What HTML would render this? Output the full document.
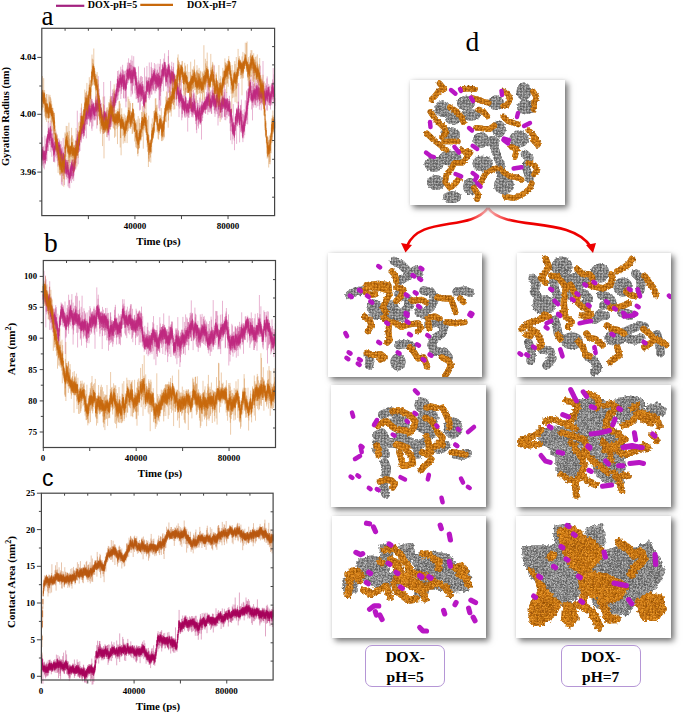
<!DOCTYPE html><html><head><meta charset="utf-8"><style>
html,body{margin:0;padding:0;background:#fff;}
body{width:685px;height:714px;position:relative;overflow:hidden;font-family:"Liberation Serif",serif;}
.bx{position:absolute;background:#fff;box-shadow:3px 3px 6px rgba(0,0,0,0.55),0 0 3px rgba(0,0,0,0.08);}
.lab{position:absolute;border:1px solid #b596d6;border-radius:7px;background:#fff;font-weight:bold;font-size:15.5px;text-align:center;line-height:20px;box-sizing:border-box;padding-top:1px;}
svg{position:absolute;left:0;top:0;}
</style></head><body>
<svg width="685" height="714" viewBox="0 0 685 714"><path d="M41.6 125.6V165.7M41.9 150.1V162.5M42.2 137.2V160.1M42.5 146.9V159.8M42.8 147.0V165.6M43.1 146.8V164.1M43.4 150.0V160.0M43.7 145.8V167.8M44.0 150.6V163.4M44.3 150.5V169.4M44.6 150.8V160.0M44.9 135.7V162.7M45.2 154.2V164.2M45.5 143.9V164.5M45.8 149.9V159.4M46.1 138.6V155.1M46.4 143.1V160.9M46.7 136.5V152.9M47.0 138.9V161.2M47.3 135.5V151.0M47.6 136.2V150.8M47.9 134.3V147.4M48.2 121.0V143.0M48.5 131.9V151.0M48.8 127.8V136.7M49.1 126.8V140.4M49.4 130.0V142.9M49.7 133.5V144.6M50.0 123.0V145.1M50.3 127.4V152.2M50.6 127.7V137.4M50.9 120.5V138.4M51.2 130.1V147.1M51.5 135.6V144.0M51.8 138.9V156.8M52.1 134.0V149.8M52.4 138.3V150.7M52.7 133.0V148.8M53.0 125.5V147.5M53.3 138.3V152.2M53.6 142.6V162.0M53.9 143.5V161.4M54.2 142.1V161.6M54.5 146.1V155.0M54.8 141.4V162.5M55.1 136.8V157.2M55.4 141.0V150.7M55.7 137.5V149.5M56.0 131.7V155.9M56.3 137.7V152.2M56.6 137.2V149.8M56.9 134.3V158.3M57.2 142.9V161.2M57.5 140.5V154.5M57.8 145.5V166.6M58.1 142.5V156.9M58.4 142.0V156.5M58.7 138.2V153.3M59.0 141.1V160.8M59.3 142.3V155.9M59.6 139.7V157.9M59.9 146.1V160.5M60.2 147.3V164.0M60.5 144.1V164.2M60.8 144.6V155.7M61.1 141.1V157.4M61.4 147.9V184.5M61.7 152.8V165.3M62.0 149.3V169.7M62.3 156.7V185.7M62.6 147.2V163.0M62.9 151.5V162.8M63.2 137.9V175.4M63.5 153.1V168.5M63.8 160.5V171.6M64.1 162.1V173.3M64.4 156.1V185.1M64.7 162.8V173.7M65.0 146.6V171.8M65.3 144.5V174.0M65.6 159.7V172.9M65.9 158.4V175.0M66.2 164.5V176.7M66.5 160.2V176.7M66.8 160.0V179.4M67.1 160.2V174.1M67.4 160.1V177.9M67.7 163.5V174.5M68.0 161.9V186.4M68.3 168.9V177.7M68.6 160.0V176.5M68.9 165.2V187.8M69.2 174.3V182.5M69.5 171.8V183.0M69.8 169.4V188.3M70.1 163.7V181.1M70.4 164.6V175.9M70.7 168.5V180.4M71.0 165.7V176.8M71.3 162.2V175.9M71.6 161.1V182.9M71.9 162.1V176.1M72.2 159.3V170.0M72.5 164.1V179.5M72.8 159.9V179.0M73.1 164.7V177.3M73.4 167.0V177.6M73.7 159.2V181.1M74.0 162.5V175.4M74.3 159.9V171.7M74.6 159.5V170.5M74.9 147.9V165.4M75.2 150.0V169.5M75.5 141.0V158.1M75.8 144.1V168.3M76.1 145.0V163.0M76.4 139.6V159.4M76.7 138.3V155.8M77.0 134.1V151.5M77.3 110.7V144.7M77.6 130.2V149.4M77.9 134.6V152.8M78.2 141.5V164.3M78.5 134.8V149.1M78.8 132.7V152.0M79.1 136.4V150.0M79.4 137.1V151.7M79.7 132.0V145.2M80.0 132.6V151.0M80.3 113.1V142.1M80.6 123.5V140.0M80.9 119.0V140.5M81.2 107.7V136.8M81.5 125.1V142.5M81.8 126.1V138.4M82.1 121.1V134.1M82.4 123.8V133.8M82.7 119.2V134.1M83.0 118.1V136.1M83.3 114.5V138.9M83.6 123.9V137.0M83.9 124.6V135.5M84.2 121.5V135.2M84.5 121.0V136.2M84.8 115.2V128.4M85.1 115.0V130.9M85.4 112.1V121.1M85.7 103.6V122.2M86.0 95.2V116.9M86.3 107.2V138.4M86.6 109.4V124.2M86.9 102.8V124.4M87.2 97.7V118.7M87.5 107.3V124.6M87.8 104.2V119.6M88.1 104.1V114.4M88.4 101.2V119.0M88.7 101.7V118.7M89.0 110.0V120.4M89.3 103.6V117.3M89.6 93.0V126.2M89.9 105.9V119.6M90.2 108.1V121.2M90.5 105.6V121.9M90.8 100.5V122.7M91.1 95.6V118.5M91.4 104.6V119.8M91.7 98.7V128.6M92.0 99.0V130.9M92.3 100.9V116.3M92.6 105.1V118.5M92.9 107.0V126.4M93.2 102.8V114.7M93.5 103.8V113.9M93.8 105.5V119.5M94.1 105.7V120.6M94.4 103.1V115.7M94.7 107.5V119.5M95.0 107.3V120.5M95.3 100.3V119.5M95.6 97.5V111.5M95.9 95.9V111.5M96.2 99.3V115.9M96.5 99.8V116.6M96.8 94.2V128.6M97.1 100.2V113.0M97.4 89.0V124.9M97.7 84.3V110.7M98.0 98.5V118.7M98.3 76.1V110.9M98.6 100.2V112.2M98.9 93.1V111.1M99.2 88.8V115.4M99.5 98.9V120.7M99.8 99.0V110.8M100.1 99.8V111.3M100.4 103.8V115.3M100.7 107.5V116.1M101.0 107.0V118.5M101.3 102.9V119.6M101.6 109.5V125.0M101.9 116.1V124.3M102.2 114.1V123.4M102.5 115.5V125.4M102.8 112.1V125.2M103.1 117.9V129.5M103.4 115.7V133.7M103.7 82.0V121.8M104.0 112.6V127.3M104.3 105.3V122.9M104.6 96.4V120.0M104.9 111.6V131.9M105.2 112.4V126.6M105.5 111.8V124.9M105.8 111.6V125.6M106.1 113.8V122.6M106.4 110.6V128.0M106.7 112.3V126.6M107.0 116.2V129.6M107.3 109.7V137.3M107.6 119.3V134.7M107.9 119.5V130.5M108.2 114.1V133.0M108.5 115.1V134.6M108.8 119.9V135.5M109.1 111.2V140.7M109.4 111.0V127.4M109.7 115.2V126.6M110.0 104.9V124.3M110.3 119.3V129.1M110.6 80.9V124.4M110.9 100.8V122.7M111.2 105.4V125.7M111.5 96.0V117.9M111.8 96.4V127.0M112.1 105.3V114.7M112.4 93.2V116.6M112.7 89.5V115.1M113.0 100.6V110.4M113.3 96.7V108.5M113.6 91.5V111.5M113.9 96.3V107.8M114.2 93.2V111.7M114.5 98.5V115.3M114.8 91.0V107.9M115.1 90.1V104.2M115.4 94.9V105.7M115.7 94.5V105.3M116.0 89.8V103.1M116.3 83.5V97.5M116.6 85.8V101.2M116.9 88.0V96.7M117.2 78.8V93.2M117.5 71.0V100.3M117.8 76.2V89.8M118.1 76.7V99.5M118.4 80.3V92.7M118.7 70.4V95.4M119.0 77.7V92.2M119.3 74.2V91.1M119.6 74.9V88.5M119.9 74.6V88.0M120.2 72.8V84.9M120.5 71.6V83.9M120.8 66.7V98.9M121.1 72.9V91.1M121.4 75.5V93.9M121.7 73.7V89.3M122.0 69.4V86.7M122.3 75.4V86.1M122.6 64.8V87.0M122.9 69.6V89.2M123.2 70.5V87.3M123.5 75.3V98.2M123.8 71.6V90.2M124.1 78.9V98.6M124.4 74.1V86.6M124.7 74.4V86.7M125.0 70.7V90.4M125.3 70.7V91.1M125.6 80.0V98.3M125.9 83.5V107.3M126.2 78.5V101.6M126.5 77.8V88.7M126.8 69.9V83.3M127.1 67.6V77.3M127.4 62.6V84.9M127.7 65.4V83.4M128.0 69.1V82.9M128.3 69.6V79.9M128.6 58.3V80.7M128.9 62.5V79.4M129.2 67.6V76.3M129.5 63.1V78.9M129.8 63.4V80.4M130.1 62.8V77.5M130.4 64.8V79.9M130.7 59.8V82.8M131.0 75.3V96.7M131.3 72.8V90.8M131.6 64.8V81.6M131.9 55.5V80.4M132.2 60.8V94.6M132.5 70.2V93.5M132.8 66.1V81.7M133.1 68.6V86.1M133.4 69.9V85.5M133.7 56.2V75.9M134.0 65.9V77.4M134.3 67.2V80.6M134.6 67.2V77.9M134.9 69.5V93.4M135.2 70.2V90.5M135.5 67.2V81.7M135.8 72.9V85.5M136.1 76.6V99.2M136.4 71.9V95.0M136.7 75.7V98.7M137.0 78.2V91.4M137.3 83.6V93.5M137.6 87.1V98.2M137.9 90.6V102.8M138.2 80.3V99.7M138.5 66.4V102.6M138.8 81.7V102.1M139.1 80.7V96.5M139.4 82.9V97.3M139.7 84.3V110.5M140.0 77.5V96.4M140.3 83.0V109.7M140.6 83.7V102.0M140.9 75.9V94.5M141.2 76.2V100.9M141.5 82.0V101.2M141.8 86.3V99.3M142.1 86.8V96.7M142.4 77.0V99.5M142.7 81.0V95.0M143.0 86.1V104.0M143.3 84.4V103.8M143.6 91.6V112.1M143.9 86.3V107.2M144.2 96.7V106.5M144.5 67.6V108.0M144.8 92.4V101.9M145.1 90.8V108.8M145.4 91.1V101.1M145.7 95.2V102.8M146.0 76.4V103.1M146.3 77.4V101.6M146.6 80.9V95.3M146.9 66.0V92.3M147.2 82.1V90.1M147.5 80.0V91.7M147.8 81.4V95.0M148.1 77.4V91.9M148.4 81.0V98.0M148.7 78.2V93.2M149.0 77.1V92.3M149.3 62.5V99.6M149.6 83.0V95.5M149.9 77.6V93.1M150.2 82.8V97.7M150.5 79.6V89.0M150.8 77.8V87.7M151.1 66.9V91.3M151.4 62.3V94.6M151.7 76.4V89.5M152.0 70.5V94.5M152.3 68.2V86.5M152.6 76.6V89.2M152.9 74.0V88.2M153.2 74.0V91.2M153.5 69.8V89.9M153.8 70.0V90.8M154.1 68.1V80.5M154.4 63.0V84.9M154.7 69.3V81.5M155.0 68.8V93.4M155.3 73.5V90.8M155.6 75.1V87.7M155.9 64.3V90.8M156.2 73.5V91.4M156.5 72.5V89.0M156.8 73.7V89.0M157.1 70.4V88.0M157.4 69.5V85.1M157.7 77.6V87.9M158.0 63.6V85.9M158.3 75.4V90.2M158.6 72.2V87.6M158.9 77.5V108.4M159.2 75.5V89.0M159.5 66.7V100.2M159.8 63.8V110.9M160.1 76.4V90.2M160.4 59.0V96.0M160.7 75.9V105.7M161.0 77.7V91.9M161.3 70.3V83.1M161.6 75.3V86.4M161.9 70.2V82.2M162.2 64.2V81.5M162.5 68.9V83.9M162.8 63.2V75.7M163.1 65.9V77.9M163.4 68.7V91.2M163.7 58.6V79.6M164.0 62.3V77.2M164.3 66.8V77.4M164.6 53.4V71.7M164.9 61.9V74.8M165.2 62.9V76.9M165.5 66.5V86.5M165.8 69.2V85.5M166.1 65.0V82.7M166.4 68.9V81.8M166.7 68.0V86.3M167.0 66.5V78.0M167.3 67.7V103.2M167.6 66.9V84.4M167.9 70.6V87.7M168.2 56.1V74.1M168.5 50.1V92.9M168.8 65.1V78.5M169.1 66.0V75.4M169.4 63.4V91.7M169.7 65.2V78.0M170.0 69.4V98.9M170.3 71.2V85.5M170.6 70.0V95.5M170.9 72.0V82.1M171.2 73.2V82.7M171.5 66.2V78.7M171.8 61.8V89.6M172.1 72.6V85.5M172.4 71.5V82.1M172.7 68.9V102.5M173.0 71.5V82.5M173.3 66.9V83.4M173.6 62.8V94.0M173.9 74.7V84.8M174.2 72.6V85.3M174.5 75.1V102.4M174.8 74.0V83.4M175.1 78.6V89.4M175.4 80.7V99.7M175.7 79.1V89.2M176.0 80.0V94.5M176.3 81.8V92.9M176.6 81.8V105.7M176.9 85.3V96.5M177.2 83.0V93.6M177.5 79.0V94.9M177.8 83.3V95.1M178.1 87.9V98.8M178.4 85.6V106.4M178.7 90.9V101.4M179.0 83.0V117.1M179.3 95.3V108.6M179.6 78.1V100.8M179.9 76.6V104.8M180.2 92.2V100.5M180.5 88.5V100.5M180.8 92.7V106.7M181.1 88.5V108.5M181.4 79.6V100.8M181.7 94.6V120.3M182.0 95.0V113.9M182.3 98.7V117.6M182.6 97.6V114.2M182.9 95.8V109.8M183.2 94.2V109.7M183.5 98.1V108.5M183.8 98.6V109.8M184.1 100.6V110.4M184.4 95.3V115.7M184.7 101.9V117.4M185.0 101.8V114.5M185.3 96.0V117.7M185.6 87.9V108.3M185.9 97.9V108.2M186.2 97.6V113.2M186.5 103.5V114.3M186.8 103.8V117.2M187.1 103.2V116.0M187.4 102.9V113.3M187.7 100.2V131.6M188.0 102.9V113.3M188.3 101.6V113.4M188.6 100.8V117.4M188.9 100.0V118.0M189.2 98.2V114.7M189.5 98.7V108.0M189.8 88.5V108.3M190.1 96.7V106.3M190.4 97.0V108.5M190.7 99.6V109.5M191.0 103.1V113.8M191.3 89.3V111.9M191.6 94.2V117.1M191.9 92.9V110.1M192.2 102.5V115.0M192.5 102.1V116.5M192.8 101.8V112.1M193.1 95.7V117.5M193.4 89.9V111.5M193.7 93.5V113.5M194.0 94.5V114.5M194.3 92.6V114.2M194.6 98.9V115.0M194.9 98.2V110.8M195.2 102.9V112.8M195.5 107.7V120.9M195.8 109.8V124.1M196.1 95.7V118.3M196.4 111.9V129.9M196.7 111.3V133.2M197.0 108.1V117.2M197.3 102.8V116.5M197.6 100.2V120.3M197.9 105.0V126.3M198.2 102.9V118.7M198.5 111.5V128.5M198.8 109.5V123.5M199.1 109.3V124.6M199.4 105.4V121.8M199.7 97.6V121.3M200.0 110.1V120.8M200.3 105.4V123.9M200.6 106.9V124.8M200.9 105.8V121.7M201.2 103.6V122.1M201.5 104.4V139.6M201.8 101.6V113.4M202.1 98.8V115.2M202.4 101.4V121.0M202.7 105.3V118.1M203.0 104.6V113.6M203.3 101.3V112.5M203.6 103.1V112.5M203.9 102.8V111.0M204.2 101.3V110.7M204.5 100.6V109.5M204.8 97.2V112.9M205.1 100.7V109.6M205.4 101.4V113.9M205.7 96.5V113.6M206.0 100.0V110.0M206.3 97.3V109.5M206.6 92.0V108.2M206.9 94.6V109.7M207.2 75.4V106.6M207.5 93.6V108.3M207.8 96.0V114.8M208.1 83.8V111.9M208.4 93.5V106.2M208.7 91.8V104.7M209.0 84.2V112.2M209.3 93.2V106.2M209.6 97.3V109.4M209.9 94.3V112.4M210.2 92.0V106.2M210.5 99.1V111.4M210.8 90.5V109.3M211.1 99.9V109.3M211.4 95.2V113.9M211.7 97.6V113.8M212.0 90.3V107.1M212.3 86.2V104.6M212.6 92.0V105.5M212.9 90.3V102.2M213.2 88.4V102.2M213.5 95.8V106.3M213.8 97.1V107.2M214.1 64.9V110.1M214.4 90.6V113.4M214.7 88.0V110.3M215.0 95.1V116.8M215.3 95.6V110.4M215.6 98.3V109.2M215.9 99.5V114.2M216.2 97.2V111.8M216.5 89.3V110.8M216.8 93.6V105.0M217.1 80.5V104.3M217.4 93.1V114.1M217.7 87.0V103.1M218.0 96.0V125.5M218.3 98.7V118.2M218.6 101.5V110.2M218.9 95.0V116.3M219.2 94.5V105.6M219.5 95.5V115.6M219.8 94.9V107.1M220.1 102.2V117.9M220.4 102.8V112.9M220.7 100.2V112.6M221.0 102.8V112.7M221.3 98.6V119.5M221.6 100.4V108.6M221.9 96.6V117.0M222.2 85.1V117.9M222.5 96.2V112.1M222.8 90.1V109.3M223.1 98.3V109.0M223.4 96.2V105.7M223.7 97.2V107.0M224.0 94.8V107.8M224.3 92.1V116.4M224.6 81.8V116.9M224.9 98.3V120.1M225.2 89.1V117.0M225.5 101.9V110.0M225.8 98.9V120.3M226.1 100.1V109.9M226.4 100.1V114.8M226.7 92.2V112.2M227.0 99.0V118.4M227.3 97.9V114.7M227.6 100.0V110.9M227.9 101.4V112.1M228.2 104.2V112.2M228.5 103.9V116.3M228.8 99.0V109.7M229.1 99.3V116.1M229.4 95.8V112.1M229.7 103.6V123.4M230.0 102.6V116.5M230.3 109.3V131.1M230.6 101.4V140.3M230.9 112.0V123.1M231.2 111.3V127.1M231.5 108.7V118.7M231.8 115.4V131.5M232.1 115.4V144.2M232.4 118.1V132.4M232.7 123.7V134.0M233.0 122.3V139.3M233.3 104.1V135.3M233.6 123.2V136.3M233.9 123.0V133.4M234.2 127.0V140.7M234.5 126.3V150.2M234.8 124.8V134.4M235.1 116.6V135.3M235.4 115.9V129.7M235.7 113.7V127.1M236.0 113.6V125.2M236.3 112.3V124.2M236.6 108.2V143.9M236.9 108.8V123.4M237.2 107.3V126.4M237.5 112.6V125.8M237.8 108.8V123.5M238.1 101.7V121.2M238.4 101.7V118.8M238.7 83.1V119.1M239.0 114.3V123.2M239.3 113.3V127.6M239.6 108.5V142.4M239.9 112.9V124.3M240.2 108.9V122.4M240.5 105.3V132.2M240.8 104.9V121.1M241.1 110.6V130.7M241.4 99.6V133.1M241.7 112.6V131.1M242.0 110.2V131.8M242.3 113.9V136.1M242.6 125.1V138.4M242.9 119.9V142.1M243.2 114.0V133.1M243.5 123.3V136.5M243.8 115.4V138.3M244.1 109.3V132.1M244.4 121.3V131.3M244.7 112.5V135.2M245.0 116.9V127.6M245.3 100.3V126.0M245.6 112.4V122.0M245.9 112.4V121.1M246.2 106.7V120.5M246.5 90.4V117.5M246.8 91.4V124.0M247.1 100.6V119.8M247.4 100.9V115.5M247.7 88.7V124.4M248.0 92.3V106.1M248.3 92.9V103.5M248.6 87.8V102.4M248.9 80.7V102.4M249.2 80.9V98.1M249.5 84.5V98.1M249.8 79.7V91.0M250.1 80.1V100.6M250.4 82.6V94.9M250.7 79.3V94.7M251.0 75.0V101.7M251.3 90.8V101.3M251.6 85.6V109.5M251.9 90.1V102.9M252.2 90.1V101.8M252.5 81.7V120.4M252.8 95.1V105.5M253.1 86.1V100.7M253.4 67.9V101.5M253.7 84.0V107.6M254.0 89.4V100.8M254.3 88.0V99.5M254.6 83.3V104.7M254.9 88.0V102.6M255.2 85.8V105.3M255.5 89.0V105.2M255.8 77.9V101.0M256.1 85.5V107.8M256.4 83.0V100.5M256.7 85.0V100.1M257.0 85.0V98.5M257.3 84.5V106.3M257.6 79.4V102.7M257.9 91.8V101.8M258.2 85.8V98.9M258.5 79.1V96.9M258.8 80.8V98.9M259.1 90.6V106.1M259.4 91.4V109.7M259.7 87.1V100.5M260.0 83.8V103.8M260.3 65.7V97.2M260.6 90.4V103.0M260.9 89.1V99.1M261.2 82.0V110.4M261.5 88.0V102.6M261.8 88.4V103.2M262.1 89.4V102.4M262.4 87.7V98.6M262.7 88.5V104.6M263.0 61.0V100.2M263.3 91.6V106.3M263.6 81.6V100.6M263.9 86.0V101.0M264.2 89.7V98.8M264.5 91.5V102.9M264.8 88.7V111.4M265.1 88.1V105.7M265.4 83.3V105.5M265.7 92.2V103.4M266.0 85.9V100.9M266.3 88.7V99.5M266.6 85.2V98.3M266.9 78.5V109.8M267.2 76.4V110.9M267.5 90.9V102.2M267.8 87.0V99.1M268.1 88.5V96.6M268.4 87.0V102.6M268.7 83.9V105.1M269.0 85.9V104.7M269.3 89.3V101.4M269.6 92.8V105.9M269.9 93.8V104.8M270.2 85.5V106.0M270.5 91.0V109.5M270.8 92.0V104.3M271.1 91.1V104.6M271.4 83.2V102.8M271.7 85.4V96.4M272.0 83.6V105.4M272.3 82.6V100.2M272.6 79.4V96.3M272.9 84.8V98.7M273.2 68.1V99.1M273.5 81.8V102.0M273.8 87.0V96.6M274.1 74.3V102.0M274.4 93.0V113.9M274.7 93.5V108.9" stroke="#c0287f" stroke-opacity="0.5" stroke-width="0.7" fill="none"/><path d="M41.6 154.5V160.2M41.9 152.5V159.7M42.2 149.4V158.3M42.5 149.0V155.4M42.8 150.9V158.7M43.1 153.7V161.0M43.4 152.4V157.1M43.7 151.0V159.4M44.0 153.9V160.0M44.3 152.4V156.9M44.6 151.0V159.6M44.9 152.8V160.0M45.2 155.8V162.9M45.5 153.0V158.9M45.8 150.6V159.1M46.1 145.8V154.5M46.4 147.0V152.8M46.7 140.5V148.3M47.0 138.5V147.1M47.3 137.5V146.9M47.6 134.1V142.9M47.9 135.4V142.3M48.2 130.8V138.2M48.5 133.8V139.4M48.8 128.1V134.9M49.1 129.3V138.5M49.4 132.1V139.7M49.7 135.3V140.8M50.0 133.5V140.9M50.3 132.4V137.9M50.6 126.1V136.0M50.9 128.9V134.9M51.2 133.5V138.4M51.5 137.4V142.9M51.8 139.0V147.0M52.1 141.7V147.9M52.4 141.5V147.6M52.7 137.7V145.2M53.0 139.5V145.2M53.3 143.7V150.3M53.6 148.5V155.6M53.9 148.8V154.3M54.2 146.1V152.0M54.5 146.4V153.4M54.8 144.9V151.8M55.1 141.7V148.2M55.4 141.7V149.6M55.7 141.5V147.7M56.0 141.7V149.2M56.3 142.0V149.4M56.6 137.7V144.9M56.9 141.1V149.6M57.2 146.2V151.6M57.5 145.8V154.2M57.8 145.8V152.9M58.1 142.1V150.7M58.4 145.3V149.4M58.7 145.3V151.6M59.0 143.3V151.4M59.3 145.0V150.9M59.6 144.7V152.9M59.9 149.8V154.3M60.2 152.9V160.1M60.5 151.7V157.9M60.8 148.9V155.2M61.1 150.4V155.7M61.4 151.4V159.1M61.7 153.8V160.8M62.0 157.3V163.3M62.3 158.1V165.4M62.6 156.4V160.9M62.9 154.9V161.6M63.2 153.8V159.6M63.5 152.7V161.1M63.8 159.9V169.0M64.1 162.4V170.5M64.4 166.6V172.4M64.7 165.6V170.7M65.0 161.5V169.7M65.3 159.5V164.9M65.6 163.3V168.9M65.9 165.7V173.5M66.2 168.1V173.2M66.5 167.1V173.4M66.8 162.0V169.9M67.1 165.5V171.5M67.4 162.2V171.6M67.7 164.8V172.3M68.0 167.1V174.6M68.3 169.9V175.0M68.6 169.7V175.4M68.9 171.5V178.5M69.2 174.7V183.4M69.5 173.5V179.6M69.8 172.8V178.9M70.1 168.5V178.6M70.4 167.2V173.6M70.7 168.6V177.9M71.0 165.7V173.4M71.3 165.7V175.9M71.6 162.6V169.7M71.9 163.3V169.2M72.2 159.8V168.5M72.5 164.5V171.0M72.8 164.1V169.5M73.1 165.8V175.8M73.4 168.1V173.5M73.7 162.2V172.3M74.0 164.2V171.3M74.3 160.8V170.5M74.6 160.9V169.0M74.9 157.4V163.1M75.2 155.4V164.0M75.5 149.2V155.0M75.8 147.1V155.3M76.1 149.0V154.4M76.4 145.8V153.2M76.7 142.6V149.9M77.0 141.0V147.1M77.3 136.6V144.3M77.6 138.8V149.3M77.9 143.7V152.9M78.2 142.7V148.4M78.5 139.2V149.3M78.8 139.6V147.0M79.1 138.8V145.7M79.4 138.6V145.2M79.7 135.7V140.7M80.0 134.2V139.6M80.3 131.4V138.2M80.6 128.1V134.8M80.9 128.1V135.4M81.2 127.0V132.8M81.5 127.1V134.1M81.8 127.4V132.6M82.1 122.1V129.8M82.4 123.2V130.9M82.7 121.1V127.4M83.0 118.7V127.3M83.3 122.7V132.9M83.6 123.7V133.1M83.9 124.7V133.0M84.2 122.6V128.8M84.5 123.8V129.2M84.8 119.1V125.5M85.1 117.3V124.7M85.4 113.6V120.8M85.7 113.4V118.8M86.0 108.3V115.9M86.3 111.6V117.2M86.6 112.9V119.7M86.9 111.0V118.7M87.2 107.3V114.2M87.5 107.8V112.8M87.8 109.0V115.8M88.1 105.3V113.0M88.4 104.2V112.5M88.7 106.5V116.5M89.0 112.0V118.5M89.3 110.3V115.8M89.6 104.4V111.6M89.9 108.2V113.9M90.2 109.6V117.6M90.5 109.7V117.1M90.8 110.5V119.6M91.1 108.0V115.2M91.4 109.6V116.5M91.7 106.1V111.9M92.0 104.0V109.1M92.3 104.6V109.5M92.6 106.6V111.2M92.9 107.3V113.7M93.2 102.5V111.1M93.5 103.9V113.3M93.8 106.3V115.0M94.1 109.2V116.6M94.4 107.1V112.9M94.7 108.3V115.8M95.0 109.2V115.9M95.3 106.9V112.5M95.6 103.1V110.2M95.9 101.5V108.1M96.2 102.9V110.1M96.5 104.8V111.2M96.8 103.0V111.5M97.1 104.6V110.0M97.4 103.8V109.2M97.7 98.5V108.0M98.0 101.3V108.5M98.3 103.8V111.7M98.6 102.8V109.0M98.9 100.8V108.9M99.2 97.7V105.3M99.5 100.4V106.2M99.8 100.8V107.0M100.1 103.9V108.9M100.4 104.0V111.8M100.7 109.3V114.9M101.0 108.7V118.0M101.3 108.1V114.9M101.6 113.2V123.0M101.9 116.3V123.0M102.2 114.4V121.0M102.5 115.8V124.5M102.8 117.3V124.5M103.1 119.4V125.0M103.4 116.3V122.9M103.7 114.6V119.3M104.0 111.5V121.3M104.3 113.3V119.7M104.6 110.9V118.2M104.9 113.3V118.7M105.2 113.6V121.3M105.5 113.3V120.2M105.8 114.0V124.6M106.1 114.7V121.9M106.4 116.3V124.0M106.7 119.3V124.7M107.0 121.9V128.1M107.3 120.3V127.6M107.6 118.8V127.0M107.9 122.5V128.5M108.2 121.0V129.7M108.5 126.9V132.5M108.8 126.4V131.6M109.1 122.6V128.8M109.4 119.2V127.2M109.7 117.2V123.7M110.0 114.5V123.5M110.3 119.0V127.0M110.6 114.8V123.0M110.9 114.5V121.2M111.2 114.3V119.4M111.5 109.8V116.7M111.8 110.3V115.3M112.1 107.1V114.1M112.4 107.0V112.4M112.7 104.7V113.0M113.0 101.9V107.8M113.3 99.8V107.6M113.6 100.0V106.1M113.9 98.4V105.5M114.2 97.9V106.1M114.5 99.5V106.5M114.8 93.5V99.3M115.1 94.1V101.7M115.4 98.3V102.6M115.7 93.6V102.7M116.0 92.0V98.3M116.3 89.3V96.3M116.6 89.4V96.1M116.9 88.1V95.7M117.2 83.5V91.4M117.5 78.9V87.5M117.8 80.1V86.8M118.1 83.6V91.8M118.4 81.4V87.5M118.7 82.3V86.9M119.0 81.0V87.5M119.3 78.5V84.8M119.6 81.3V87.4M119.9 78.6V85.3M120.2 78.0V82.5M120.5 74.6V82.8M120.8 79.5V83.5M121.1 78.6V84.8M121.4 77.3V87.1M121.7 78.8V85.2M122.0 77.3V83.7M122.3 75.2V83.2M122.6 75.8V82.8M122.9 74.1V80.3M123.2 75.3V81.7M123.5 80.0V89.6M123.8 82.1V88.4M124.1 80.7V88.5M124.4 75.6V84.2M124.7 79.9V84.7M125.0 81.3V89.2M125.3 82.9V90.7M125.6 84.2V87.9M125.9 84.6V90.0M126.2 81.5V88.5M126.5 79.2V84.5M126.8 72.8V80.9M127.1 69.2V76.5M127.4 70.3V78.9M127.7 69.8V76.7M128.0 71.4V78.1M128.3 70.6V77.7M128.6 71.2V79.4M128.9 69.3V77.6M129.2 68.6V75.9M129.5 69.2V74.7M129.8 68.2V78.1M130.1 69.6V76.3M130.4 71.0V79.0M130.7 71.4V77.7M131.0 77.1V83.6M131.3 73.5V83.0M131.6 70.2V76.4M131.9 69.6V76.5M132.2 72.0V78.7M132.5 74.3V83.2M132.8 71.3V79.4M133.1 73.0V78.9M133.4 69.9V76.1M133.7 67.0V76.4M134.0 68.2V76.3M134.3 70.8V75.9M134.6 67.7V73.8M134.9 71.4V79.1M135.2 68.6V78.7M135.5 71.9V81.5M135.8 75.8V85.1M136.1 77.7V85.0M136.4 80.9V85.8M136.7 82.9V89.3M137.0 82.0V87.9M137.3 85.7V92.7M137.6 88.8V95.8M137.9 90.8V98.0M138.2 88.0V93.4M138.5 88.2V93.5M138.8 85.3V93.3M139.1 85.5V93.5M139.4 87.4V94.3M139.7 84.2V91.2M140.0 86.6V94.8M140.3 84.7V92.7M140.6 85.2V94.3M140.9 84.7V92.9M141.2 88.1V95.9M141.5 86.3V94.3M141.8 89.4V96.6M142.1 87.1V95.0M142.4 84.1V92.1M142.7 86.8V92.3M143.0 92.0V98.4M143.3 90.1V99.0M143.6 95.4V105.2M143.9 98.6V106.5M144.2 94.8V105.2M144.5 97.4V105.9M144.8 92.3V99.2M145.1 94.6V101.5M145.4 94.1V98.9M145.7 96.1V101.9M146.0 91.5V98.6M146.3 86.2V93.6M146.6 85.3V90.8M146.9 80.7V89.6M147.2 82.0V91.7M147.5 82.5V89.9M147.8 83.0V91.2M148.1 84.4V90.3M148.4 80.7V86.7M148.7 81.1V85.6M149.0 81.3V88.5M149.3 84.5V91.6M149.6 87.5V94.4M149.9 86.6V91.1M150.2 84.2V91.5M150.5 79.7V86.6M150.8 79.5V88.0M151.1 78.2V84.1M151.4 77.9V85.6M151.7 79.0V85.5M152.0 73.6V81.5M152.3 75.8V82.3M152.6 76.8V84.8M152.9 76.2V83.1M153.2 75.0V82.1M153.5 73.2V80.8M153.8 72.1V79.0M154.1 73.0V79.4M154.4 71.0V80.0M154.7 73.8V81.2M155.0 77.3V84.0M155.3 77.1V81.6M155.6 75.2V82.1M155.9 75.5V83.3M156.2 80.3V84.1M156.5 76.6V82.1M156.8 76.7V85.5M157.1 77.5V84.2M157.4 73.9V81.4M157.7 78.8V86.9M158.0 74.4V85.2M158.3 78.4V86.7M158.6 73.1V80.5M158.9 77.8V86.5M159.2 75.4V83.8M159.5 76.0V83.8M159.8 79.2V85.8M160.1 78.1V85.1M160.4 79.3V88.1M160.7 78.0V86.0M161.0 77.7V84.5M161.3 74.6V82.6M161.6 77.7V83.5M161.9 69.0V80.5M162.2 70.7V76.7M162.5 69.1V75.8M162.8 64.7V73.5M163.1 67.1V75.0M163.4 68.0V76.3M163.7 68.8V76.1M164.0 69.0V73.8M164.3 67.6V75.6M164.6 62.1V70.0M164.9 61.9V70.0M165.2 64.5V70.6M165.5 69.8V76.1M165.8 72.0V79.6M166.1 74.9V81.6M166.4 73.2V80.4M166.7 74.8V82.1M167.0 69.1V76.7M167.3 70.0V76.4M167.6 69.3V77.2M167.9 71.9V76.6M168.2 64.3V72.5M168.5 64.5V74.4M168.8 66.1V71.8M169.1 67.2V75.1M169.4 70.3V75.4M169.7 69.0V76.5M170.0 73.8V82.5M170.3 75.5V83.4M170.6 77.1V83.8M170.9 73.1V80.0M171.2 72.6V80.8M171.5 70.8V79.7M171.8 75.5V83.6M172.1 74.6V80.5M172.4 71.4V80.5M172.7 72.4V79.1M173.0 71.7V80.9M173.3 74.1V81.5M173.6 73.1V78.7M173.9 76.1V81.8M174.2 74.1V81.6M174.5 77.0V83.4M174.8 75.8V81.2M175.1 81.3V86.2M175.4 80.0V87.8M175.7 79.5V87.7M176.0 82.0V88.8M176.3 84.8V89.5M176.6 89.4V99.0M176.9 86.3V94.3M177.2 83.6V91.8M177.5 84.8V90.0M177.8 87.3V93.9M178.1 86.9V95.8M178.4 90.4V98.2M178.7 91.8V99.2M179.0 93.2V101.8M179.3 95.1V103.0M179.6 93.0V99.4M179.9 91.5V99.1M180.2 90.0V98.5M180.5 90.0V101.5M180.8 95.2V101.2M181.1 94.2V100.1M181.4 93.6V99.9M181.7 97.3V103.1M182.0 96.3V103.5M182.3 98.3V107.1M182.6 100.5V109.0M182.9 99.8V107.5M183.2 98.7V105.1M183.5 99.9V106.8M183.8 101.0V110.4M184.1 101.1V111.1M184.4 102.3V112.7M184.7 102.6V110.1M185.0 103.7V111.4M185.3 100.8V109.0M185.6 96.6V107.7M185.9 99.7V105.9M186.2 105.0V110.5M186.5 106.2V111.8M186.8 106.7V112.6M187.1 104.0V111.1M187.4 104.0V108.8M187.7 103.7V110.5M188.0 104.1V108.9M188.3 104.8V111.8M188.6 107.5V112.2M188.9 105.2V112.5M189.2 102.6V108.5M189.5 99.5V108.7M189.8 97.4V106.1M190.1 96.5V103.3M190.4 98.1V108.0M190.7 101.3V105.5M191.0 103.3V111.4M191.3 104.3V111.0M191.6 104.6V111.6M191.9 98.4V109.8M192.2 105.0V112.3M192.5 102.0V111.6M192.8 104.7V111.1M193.1 106.4V112.7M193.4 103.4V109.9M193.7 104.1V109.8M194.0 103.6V110.9M194.3 100.8V108.1M194.6 100.7V111.3M194.9 101.8V108.8M195.2 105.6V113.1M195.5 111.0V115.5M195.8 110.5V117.2M196.1 110.3V116.7M196.4 113.3V120.6M196.7 112.7V119.4M197.0 109.6V116.3M197.3 108.2V116.2M197.6 106.7V113.1M197.9 110.4V118.4M198.2 110.6V116.9M198.5 112.2V119.4M198.8 111.9V119.6M199.1 111.7V116.0M199.4 107.6V114.5M199.7 108.0V115.3M200.0 111.0V119.2M200.3 116.1V122.5M200.6 113.3V123.0M200.9 113.2V120.4M201.2 110.2V115.8M201.5 107.2V114.0M201.8 105.6V111.9M202.1 105.5V111.2M202.4 106.4V113.6M202.7 107.4V114.8M203.0 104.9V110.4M203.3 104.1V108.8M203.6 103.4V112.1M203.9 102.9V110.0M204.2 102.1V109.0M204.5 101.5V108.5M204.8 102.1V109.9M205.1 100.6V108.9M205.4 101.2V109.6M205.7 98.8V106.6M206.0 100.0V108.9M206.3 99.5V106.2M206.6 96.5V103.5M206.9 98.0V102.6M207.2 97.3V104.6M207.5 97.3V105.5M207.8 96.4V102.9M208.1 96.6V106.0M208.4 95.1V102.0M208.7 93.7V101.6M209.0 95.4V102.0M209.3 99.2V104.8M209.6 100.8V106.7M209.9 101.4V107.8M210.2 97.8V104.1M210.5 99.1V108.2M210.8 99.6V107.5M211.1 100.9V107.8M211.4 101.4V106.7M211.7 100.7V106.6M212.0 95.5V103.4M212.3 96.7V103.3M212.6 96.0V102.0M212.9 93.1V100.3M213.2 93.3V99.3M213.5 98.3V105.6M213.8 96.7V104.1M214.1 93.2V101.3M214.4 94.8V103.5M214.7 98.7V104.6M215.0 99.4V106.9M215.3 99.3V106.2M215.6 100.9V107.6M215.9 98.3V107.5M216.2 99.0V106.9M216.5 94.8V103.8M216.8 95.4V102.5M217.1 94.8V100.6M217.4 94.8V101.9M217.7 93.1V102.2M218.0 97.8V102.7M218.3 100.6V106.8M218.6 101.2V109.3M218.9 102.0V106.3M219.2 95.8V102.7M219.5 99.2V103.5M219.8 97.5V107.1M220.1 102.6V109.5M220.4 103.8V112.4M220.7 103.3V110.1M221.0 104.1V111.8M221.3 103.2V109.9M221.6 101.4V106.7M221.9 98.5V105.6M222.2 99.7V104.7M222.5 97.3V106.7M222.8 101.4V108.9M223.1 98.1V105.8M223.4 98.2V104.8M223.7 99.3V107.7M224.0 99.0V106.2M224.3 97.7V106.6M224.6 99.1V107.3M224.9 98.9V109.2M225.2 99.8V106.0M225.5 101.8V109.0M225.8 98.5V107.6M226.1 101.8V107.0M226.4 102.4V107.8M226.7 99.9V108.1M227.0 99.0V105.4M227.3 98.3V104.2M227.6 104.5V110.7M227.9 102.9V108.8M228.2 105.0V110.8M228.5 104.7V110.4M228.8 101.1V108.3M229.1 103.4V111.6M229.4 101.1V109.1M229.7 106.5V112.1M230.0 109.2V114.7M230.3 109.3V116.8M230.6 109.5V116.6M230.9 112.6V120.6M231.2 110.5V119.5M231.5 108.8V117.3M231.8 116.8V122.1M232.1 119.2V125.9M232.4 123.5V131.6M232.7 125.2V134.4M233.0 125.6V133.0M233.3 122.2V130.5M233.6 127.4V134.7M233.9 124.6V132.5M234.2 130.9V136.1M234.5 129.9V137.7M234.8 124.9V131.0M235.1 121.9V131.1M235.4 117.6V124.0M235.7 116.4V121.2M236.0 116.6V125.0M236.3 113.8V120.8M236.6 110.1V116.2M236.9 108.9V117.1M237.2 110.3V116.8M237.5 115.0V121.7M237.8 113.4V122.6M238.1 111.5V118.6M238.4 105.4V114.5M238.7 108.8V116.8M239.0 115.6V120.4M239.3 118.5V124.8M239.6 115.8V125.2M239.9 112.8V121.2M240.2 111.9V119.4M240.5 110.5V116.5M240.8 111.1V117.3M241.1 116.9V121.0M241.4 117.0V125.1M241.7 120.5V127.7M242.0 124.5V129.2M242.3 125.8V131.9M242.6 126.5V137.6M242.9 124.8V133.9M243.2 121.3V129.3M243.5 125.0V131.3M243.8 122.3V132.3M244.1 124.3V130.9M244.4 124.5V129.4M244.7 118.6V126.0M245.0 115.3V124.4M245.3 116.5V122.9M245.6 113.7V120.9M245.9 111.6V119.5M246.2 110.6V117.8M246.5 105.4V112.3M246.8 108.2V114.2M247.1 102.7V110.9M247.4 101.4V106.8M247.7 103.6V109.0M248.0 97.8V105.0M248.3 95.6V102.5M248.6 91.5V100.3M248.9 88.8V96.6M249.2 89.2V95.9M249.5 87.8V92.7M249.8 83.1V90.4M250.1 82.0V90.4M250.4 82.3V91.3M250.7 86.1V93.1M251.0 94.4V99.5M251.3 94.4V99.8M251.6 93.1V98.3M251.9 92.7V100.9M252.2 94.1V100.2M252.5 95.3V100.7M252.8 95.6V102.7M253.1 92.7V98.7M253.4 91.6V99.7M253.7 90.1V96.9M254.0 90.7V95.6M254.3 89.4V97.1M254.6 90.2V98.6M254.9 91.2V98.2M255.2 89.3V99.0M255.5 91.7V96.4M255.8 90.2V99.7M256.1 89.4V97.2M256.4 87.4V93.7M256.7 86.7V94.9M257.0 86.0V92.6M257.3 87.8V94.5M257.6 89.0V95.7M257.9 95.2V99.8M258.2 88.1V96.5M258.5 87.0V96.3M258.8 88.7V94.6M259.1 91.2V98.6M259.4 93.5V100.9M259.7 87.8V95.5M260.0 88.7V94.4M260.3 88.1V97.0M260.6 91.7V97.7M260.9 90.8V97.1M261.2 91.7V98.7M261.5 91.9V98.2M261.8 90.4V96.9M262.1 91.1V97.7M262.4 86.9V93.7M262.7 90.5V97.3M263.0 90.7V99.1M263.3 92.4V100.3M263.6 92.0V97.2M263.9 91.0V96.7M264.2 90.5V96.9M264.5 91.5V100.0M264.8 93.0V100.7M265.1 95.6V101.8M265.4 96.1V104.6M265.7 93.2V99.6M266.0 90.8V98.5M266.3 91.0V97.7M266.6 90.1V96.7M266.9 92.1V100.4M267.2 94.4V101.2M267.5 92.4V99.2M267.8 90.0V95.3M268.1 87.8V95.2M268.4 87.3V95.6M268.7 90.3V96.5M269.0 86.7V94.1M269.3 92.4V99.5M269.6 96.0V102.9M269.9 94.5V102.6M270.2 94.6V101.3M270.5 93.5V99.3M270.8 93.9V99.6M271.1 93.6V98.5M271.4 92.0V97.1M271.7 87.1V93.1M272.0 90.2V97.1M272.3 84.3V93.9M272.6 85.0V92.0M272.9 86.2V94.2M273.2 87.5V93.4M273.5 88.9V97.1M273.8 89.3V97.0M274.1 88.3V96.3M274.4 94.2V100.9M274.7 97.9V105.8" stroke="#c0287f" stroke-width="0.7" fill="none"/>
<path d="M41.6 91.5V126.4M41.9 96.4V108.7M42.2 91.9V109.9M42.5 76.1V102.0M42.8 90.7V106.7M43.1 92.1V102.7M43.4 90.3V104.4M43.7 78.2V107.9M44.0 93.3V103.7M44.3 92.0V112.3M44.6 90.1V104.4M44.9 95.1V116.3M45.2 97.2V110.7M45.5 102.6V117.8M45.8 98.1V119.8M46.1 105.4V116.7M46.4 94.1V117.8M46.7 99.4V121.9M47.0 94.1V112.4M47.3 103.4V118.1M47.6 104.8V113.6M47.9 105.7V117.9M48.2 107.2V119.1M48.5 108.5V117.4M48.8 94.5V122.8M49.1 96.6V114.4M49.4 104.3V117.6M49.7 102.7V118.2M50.0 94.9V117.3M50.3 97.0V115.0M50.6 103.7V112.2M50.9 98.5V122.5M51.2 100.8V116.0M51.5 105.1V115.7M51.8 103.8V131.2M52.1 107.4V123.4M52.4 108.0V121.1M52.7 111.2V122.1M53.0 107.9V121.5M53.3 113.0V130.7M53.6 112.7V138.6M53.9 117.0V134.3M54.2 115.2V128.5M54.5 119.5V133.9M54.8 121.8V134.7M55.1 132.3V141.9M55.4 133.7V144.4M55.7 129.4V150.3M56.0 135.8V151.5M56.3 133.1V150.7M56.6 139.7V155.2M56.9 135.9V152.9M57.2 134.6V149.7M57.5 138.9V148.0M57.8 143.4V155.2M58.1 144.3V172.9M58.4 149.7V165.1M58.7 147.4V162.8M59.0 152.5V166.3M59.3 146.4V167.4M59.6 156.6V174.1M59.9 157.3V175.1M60.2 160.3V175.7M60.5 148.4V174.2M60.8 154.6V170.0M61.1 160.4V172.8M61.4 159.8V173.9M61.7 153.7V172.2M62.0 163.7V181.8M62.3 154.4V173.3M62.6 152.9V172.2M62.9 159.3V176.0M63.2 160.4V172.5M63.5 161.0V178.9M63.8 159.9V186.7M64.1 158.1V171.8M64.4 154.0V173.2M64.7 152.8V179.5M65.0 132.4V156.1M65.3 133.7V158.3M65.6 139.1V152.7M65.9 137.6V157.0M66.2 125.9V148.7M66.5 135.7V144.9M66.8 132.5V147.2M67.1 126.0V169.7M67.4 131.8V151.2M67.7 133.1V153.8M68.0 136.9V153.4M68.3 135.1V153.3M68.6 143.4V161.1M68.9 122.7V169.0M69.2 131.0V162.7M69.5 144.5V155.4M69.8 138.7V164.8M70.1 145.5V155.4M70.4 147.0V163.0M70.7 146.3V156.6M71.0 145.6V156.7M71.3 137.3V157.3M71.6 127.8V161.5M71.9 135.2V150.4M72.2 135.6V155.7M72.5 142.0V165.6M72.8 148.0V158.2M73.1 138.6V157.4M73.4 145.4V161.4M73.7 147.6V172.9M74.0 145.3V157.1M74.3 145.8V167.0M74.6 144.8V158.1M74.9 151.7V163.0M75.2 140.2V159.7M75.5 150.0V165.5M75.8 147.1V169.6M76.1 128.0V155.2M76.4 140.9V152.7M76.7 144.6V158.2M77.0 145.0V166.5M77.3 145.3V155.9M77.6 142.4V152.9M77.9 131.1V155.2M78.2 139.9V158.1M78.5 138.5V149.7M78.8 122.4V143.7M79.1 131.9V145.3M79.4 129.9V143.1M79.7 130.1V143.3M80.0 121.2V139.8M80.3 125.3V134.5M80.6 122.0V137.0M80.9 115.4V130.0M81.2 116.5V134.2M81.5 103.5V128.9M81.8 112.6V127.8M82.1 115.1V131.7M82.4 116.4V129.2M82.7 117.4V127.1M83.0 110.9V126.2M83.3 114.1V123.8M83.6 109.6V121.9M83.9 106.8V123.3M84.2 110.0V118.9M84.5 102.4V116.1M84.8 89.5V130.0M85.1 96.8V111.6M85.4 101.2V114.8M85.7 92.6V118.5M86.0 92.6V108.4M86.3 98.4V111.3M86.6 91.0V107.4M86.9 82.9V110.3M87.2 98.2V110.1M87.5 102.7V114.7M87.8 98.2V111.6M88.1 95.8V112.7M88.4 93.7V105.9M88.7 91.9V106.6M89.0 84.7V102.4M89.3 77.2V98.0M89.6 84.9V104.3M89.9 83.4V95.5M90.2 80.5V100.7M90.5 89.8V99.5M90.8 84.2V107.7M91.1 79.6V92.1M91.4 76.0V83.9M91.7 69.3V85.9M92.0 54.6V85.5M92.3 58.7V85.4M92.6 66.3V79.2M92.9 63.0V79.8M93.2 59.6V84.5M93.5 64.0V79.1M93.8 48.5V75.7M94.1 65.9V84.8M94.4 67.9V86.0M94.7 68.6V85.1M95.0 71.2V83.6M95.3 76.9V88.8M95.6 78.2V105.1M95.9 73.8V90.9M96.2 81.4V111.6M96.5 78.6V90.2M96.8 74.8V87.9M97.1 72.0V92.2M97.4 79.1V125.4M97.7 86.1V97.7M98.0 79.7V99.1M98.3 83.7V106.7M98.6 94.9V116.0M98.9 95.2V116.7M99.2 95.8V106.6M99.5 102.7V120.0M99.8 100.3V124.2M100.1 105.5V131.3M100.4 109.2V133.6M100.7 104.2V118.2M101.0 113.5V128.8M101.3 107.3V125.6M101.6 117.2V129.6M101.9 113.7V128.5M102.2 110.4V132.2M102.5 118.8V146.1M102.8 119.6V130.3M103.1 96.7V134.0M103.4 104.0V130.0M103.7 115.8V133.4M104.0 121.8V158.4M104.3 121.6V131.6M104.6 120.5V133.1M104.9 117.0V132.9M105.2 117.7V131.4M105.5 116.6V130.6M105.8 113.1V131.9M106.1 118.6V130.9M106.4 107.6V124.7M106.7 116.8V137.0M107.0 119.7V132.9M107.3 117.4V131.1M107.6 107.3V132.8M107.9 121.5V130.4M108.2 117.1V131.3M108.5 113.2V124.0M108.8 102.1V122.6M109.1 103.7V129.5M109.4 102.4V124.6M109.7 103.3V118.0M110.0 99.3V119.2M110.3 96.2V129.9M110.6 104.5V115.5M110.9 97.7V124.5M111.2 100.6V114.0M111.5 105.5V116.6M111.8 107.0V117.6M112.1 101.9V122.1M112.4 104.9V121.0M112.7 111.4V121.5M113.0 107.4V124.4M113.3 106.4V128.0M113.6 109.6V121.2M113.9 88.7V128.9M114.2 84.3V121.6M114.5 115.4V137.8M114.8 113.8V130.2M115.1 114.2V124.2M115.4 113.4V125.5M115.7 113.7V136.6M116.0 109.9V125.4M116.3 114.6V125.6M116.6 112.1V124.2M116.9 113.6V128.9M117.2 112.0V124.1M117.5 111.4V144.1M117.8 108.6V127.4M118.1 111.9V124.6M118.4 110.8V122.7M118.7 112.6V126.5M119.0 101.2V123.0M119.3 108.6V121.6M119.6 100.9V124.3M119.9 114.9V125.7M120.2 103.5V147.5M120.5 118.0V137.9M120.8 119.8V138.1M121.1 120.6V155.3M121.4 114.2V126.5M121.7 108.3V129.2M122.0 114.5V129.0M122.3 116.8V129.0M122.6 118.8V128.9M122.9 120.2V135.8M123.2 121.2V143.6M123.5 119.2V135.4M123.8 117.3V130.6M124.1 113.7V130.3M124.4 126.1V134.7M124.7 124.6V141.2M125.0 123.9V142.9M125.3 115.4V135.9M125.6 118.3V135.6M125.9 120.1V131.2M126.2 121.3V134.0M126.5 120.7V129.6M126.8 117.4V130.3M127.1 116.8V143.1M127.4 116.0V132.3M127.7 112.2V125.6M128.0 96.6V122.7M128.3 110.1V131.1M128.6 107.5V123.5M128.9 99.0V128.7M129.2 107.6V128.1M129.5 111.9V123.8M129.8 101.2V119.1M130.1 111.6V123.1M130.4 103.1V128.5M130.7 116.2V128.8M131.0 115.0V126.4M131.3 111.1V126.9M131.6 112.6V123.2M131.9 112.2V123.9M132.2 111.4V134.0M132.5 103.0V119.6M132.8 103.1V133.5M133.1 108.8V123.8M133.4 109.5V118.6M133.7 110.0V124.2M134.0 122.0V131.8M134.3 118.3V131.0M134.6 113.4V141.5M134.9 120.4V130.8M135.2 120.2V131.9M135.5 122.7V133.8M135.8 129.3V147.2M136.1 129.7V144.3M136.4 124.6V148.2M136.7 122.4V137.7M137.0 119.5V142.0M137.3 131.1V148.8M137.6 136.0V154.0M137.9 133.4V156.3M138.2 116.0V153.3M138.5 137.4V149.4M138.8 135.3V149.2M139.1 128.8V147.9M139.4 118.5V148.1M139.7 123.0V143.8M140.0 130.5V140.1M140.3 130.4V141.4M140.6 122.8V139.7M140.9 129.4V138.2M141.2 124.7V140.5M141.5 112.0V132.1M141.8 117.6V130.3M142.1 120.2V133.5M142.4 106.2V136.6M142.7 117.2V130.4M143.0 112.3V129.4M143.3 117.8V148.7M143.6 111.5V128.4M143.9 118.2V130.2M144.2 115.5V128.1M144.5 103.6V123.0M144.8 111.8V124.7M145.1 118.3V131.5M145.4 114.1V125.7M145.7 116.9V129.8M146.0 99.3V133.0M146.3 121.5V135.0M146.6 112.9V132.9M146.9 120.2V140.1M147.2 131.9V147.2M147.5 119.6V151.8M147.8 135.8V144.5M148.1 133.5V145.3M148.4 134.7V167.0M148.7 115.6V158.6M149.0 135.2V161.8M149.3 144.9V161.5M149.6 142.8V152.5M149.9 140.9V150.5M150.2 139.9V148.4M150.5 144.9V157.5M150.8 143.0V162.6M151.1 139.7V153.8M151.4 123.7V146.5M151.7 130.3V152.7M152.0 130.3V139.8M152.3 118.3V143.2M152.6 128.0V142.3M152.9 124.8V136.4M153.2 128.2V137.8M153.5 127.4V138.7M153.8 111.0V135.5M154.1 121.4V132.4M154.4 115.0V125.2M154.7 110.6V133.2M155.0 110.1V121.7M155.3 98.6V121.9M155.6 108.2V120.5M155.9 98.1V121.1M156.2 105.3V122.6M156.5 111.8V124.9M156.8 107.6V131.7M157.1 104.7V123.8M157.4 117.8V126.7M157.7 116.2V132.2M158.0 113.4V138.7M158.3 123.9V132.5M158.6 123.3V139.6M158.9 121.6V133.2M159.2 119.1V134.8M159.5 114.6V132.4M159.8 118.8V129.0M160.1 115.3V130.0M160.4 119.0V127.5M160.7 115.3V128.4M161.0 117.2V129.4M161.3 108.1V136.1M161.6 120.2V141.1M161.9 125.9V138.3M162.2 123.4V141.1M162.5 121.4V137.2M162.8 120.7V132.5M163.1 116.8V140.2M163.4 120.8V135.6M163.7 119.6V136.9M164.0 115.0V138.4M164.3 111.3V136.8M164.6 107.9V123.4M164.9 108.0V121.6M165.2 105.9V121.5M165.5 103.7V115.3M165.8 96.6V115.7M166.1 103.6V115.0M166.4 99.7V122.2M166.7 91.5V111.4M167.0 100.2V109.3M167.3 98.1V110.6M167.6 101.8V112.6M167.9 99.2V114.1M168.2 101.0V127.7M168.5 101.2V120.5M168.8 98.1V112.8M169.1 97.9V108.7M169.4 90.5V110.0M169.7 86.5V112.3M170.0 96.9V112.7M170.3 99.3V110.4M170.6 96.5V110.2M170.9 91.4V111.4M171.2 91.2V116.5M171.5 93.9V106.7M171.8 94.5V108.9M172.1 72.2V103.1M172.4 88.9V103.2M172.7 79.1V97.4M173.0 82.5V100.0M173.3 86.2V104.7M173.6 90.8V105.1M173.9 81.7V109.7M174.2 87.1V99.8M174.5 74.9V98.7M174.8 79.0V109.2M175.1 80.5V89.8M175.4 75.5V91.5M175.7 78.7V88.7M176.0 81.8V90.8M176.3 79.3V93.3M176.6 74.9V100.3M176.9 69.6V83.6M177.2 72.7V87.5M177.5 57.6V86.5M177.8 68.0V81.6M178.1 54.4V75.5M178.4 61.1V74.0M178.7 59.9V87.3M179.0 66.7V79.9M179.3 62.0V80.7M179.6 63.8V83.4M179.9 75.2V95.0M180.2 70.7V85.4M180.5 68.7V78.1M180.8 64.5V75.3M181.1 64.5V76.6M181.4 64.8V74.1M181.7 65.3V73.6M182.0 61.2V79.5M182.3 60.9V83.0M182.6 67.4V80.1M182.9 68.1V82.6M183.2 72.0V80.8M183.5 75.2V90.7M183.8 74.6V94.2M184.1 71.6V85.1M184.4 71.2V81.7M184.7 62.8V95.8M185.0 72.4V82.1M185.3 66.4V95.7M185.6 65.5V82.6M185.9 72.5V89.8M186.2 71.3V92.6M186.5 75.2V84.0M186.8 76.2V92.3M187.1 75.7V85.0M187.4 64.2V89.0M187.7 80.4V93.1M188.0 82.8V92.6M188.3 82.2V92.3M188.6 82.2V91.4M188.9 71.9V90.7M189.2 83.7V92.0M189.5 83.0V97.6M189.8 81.5V95.4M190.1 82.9V97.4M190.4 71.9V89.7M190.7 61.7V98.1M191.0 77.9V108.6M191.3 74.7V97.7M191.6 78.3V88.5M191.9 76.0V89.9M192.2 68.8V85.0M192.5 69.9V88.8M192.8 73.8V92.4M193.1 76.4V88.6M193.4 74.8V88.5M193.7 66.3V86.6M194.0 70.3V79.6M194.3 68.7V90.2M194.6 59.5V80.7M194.9 72.2V87.9M195.2 74.2V84.3M195.5 74.8V87.1M195.8 77.5V89.9M196.1 77.6V103.0M196.4 71.4V87.1M196.7 70.2V92.5M197.0 65.2V94.4M197.3 72.6V94.8M197.6 72.5V89.4M197.9 69.7V87.0M198.2 75.9V93.9M198.5 77.9V90.0M198.8 75.7V84.9M199.1 67.9V89.8M199.4 76.9V93.3M199.7 76.5V88.6M200.0 75.4V93.2M200.3 70.6V102.4M200.6 79.5V88.6M200.9 71.5V89.5M201.2 81.7V90.0M201.5 77.2V93.0M201.8 77.9V93.8M202.1 78.8V89.2M202.4 71.6V99.4M202.7 73.4V91.5M203.0 77.3V101.0M203.3 82.4V92.0M203.6 73.8V92.9M203.9 45.2V85.7M204.2 71.0V87.1M204.5 78.2V100.2M204.8 69.7V85.2M205.1 72.8V87.6M205.4 58.8V89.6M205.7 63.4V86.4M206.0 71.9V82.5M206.3 69.7V81.3M206.6 65.8V82.7M206.9 61.1V79.2M207.2 52.6V87.5M207.5 68.7V82.9M207.8 66.7V80.3M208.1 68.9V81.2M208.4 70.9V83.8M208.7 74.1V89.4M209.0 73.3V90.8M209.3 75.8V105.9M209.6 76.7V87.0M209.9 76.6V87.5M210.2 76.8V87.9M210.5 74.4V86.6M210.8 53.9V85.4M211.1 67.6V81.8M211.4 71.5V81.8M211.7 71.3V81.3M212.0 66.7V81.2M212.3 65.1V87.5M212.6 61.9V85.4M212.9 63.6V86.3M213.2 74.1V95.5M213.5 71.3V85.6M213.8 72.0V89.0M214.1 65.9V86.0M214.4 78.5V93.8M214.7 83.5V95.7M215.0 80.5V92.9M215.3 81.0V99.9M215.6 84.5V93.4M215.9 74.2V92.1M216.2 72.5V87.5M216.5 74.8V93.9M216.8 81.9V107.5M217.1 79.9V101.6M217.4 80.7V93.1M217.7 81.6V97.8M218.0 86.6V105.3M218.3 82.3V106.6M218.6 87.5V101.1M218.9 65.1V99.6M219.2 88.9V100.1M219.5 82.9V98.9M219.8 82.8V105.0M220.1 78.6V121.9M220.4 82.0V93.9M220.7 75.9V96.6M221.0 83.2V97.6M221.3 85.4V95.1M221.6 87.5V96.1M221.9 81.7V101.2M222.2 77.0V89.7M222.5 79.1V95.9M222.8 67.8V88.8M223.1 71.6V104.6M223.4 77.0V85.1M223.7 70.4V87.7M224.0 71.0V87.4M224.3 70.9V84.6M224.6 71.1V81.6M224.9 58.4V84.6M225.2 62.2V78.3M225.5 64.9V84.9M225.8 62.9V79.7M226.1 65.2V79.1M226.4 63.6V74.6M226.7 67.0V93.0M227.0 63.8V84.0M227.3 60.9V83.1M227.6 65.6V78.7M227.9 60.8V74.3M228.2 63.9V86.8M228.5 58.9V78.7M228.8 56.0V70.4M229.1 60.3V74.2M229.4 60.9V74.4M229.7 62.3V73.6M230.0 64.9V79.5M230.3 62.2V78.1M230.6 68.3V78.4M230.9 72.8V89.4M231.2 74.3V93.7M231.5 77.4V85.5M231.8 70.2V112.6M232.1 65.0V90.7M232.4 79.8V93.2M232.7 81.0V98.2M233.0 80.8V93.8M233.3 77.0V92.9M233.6 72.7V87.8M233.9 70.3V97.3M234.2 72.6V91.0M234.5 72.5V83.2M234.8 61.1V82.7M235.1 64.0V102.2M235.4 71.5V83.2M235.7 75.6V89.7M236.0 72.3V96.6M236.3 57.0V88.4M236.6 72.5V88.6M236.9 69.4V103.3M237.2 67.4V82.7M237.5 69.9V86.1M237.8 67.8V79.2M238.1 48.9V76.2M238.4 63.2V75.6M238.7 57.7V74.0M239.0 59.6V75.8M239.3 56.1V69.2M239.6 58.6V70.9M239.9 62.3V70.7M240.2 59.7V69.0M240.5 60.0V75.2M240.8 61.6V78.9M241.1 61.8V75.0M241.4 62.8V75.1M241.7 64.8V77.7M242.0 56.4V95.3M242.3 62.8V74.0M242.6 61.4V75.6M242.9 51.9V78.7M243.2 62.3V77.9M243.5 61.0V73.7M243.8 60.9V72.1M244.1 59.3V69.4M244.4 53.3V68.5M244.7 58.3V68.3M245.0 54.7V66.0M245.3 42.7V62.7M245.6 54.3V65.6M245.9 54.7V65.1M246.2 59.1V71.4M246.5 42.9V69.8M246.8 61.4V72.0M247.1 41.5V71.2M247.4 62.3V75.8M247.7 61.7V77.5M248.0 59.5V80.6M248.3 67.2V86.3M248.6 57.1V72.4M248.9 63.9V80.4M249.2 64.0V79.0M249.5 67.6V86.1M249.8 63.3V91.2M250.1 56.0V75.1M250.4 53.3V69.5M250.7 54.8V77.0M251.0 50.1V68.3M251.3 58.5V76.6M251.6 58.2V70.3M251.9 50.2V70.7M252.2 56.3V68.1M252.5 54.9V81.3M252.8 54.9V69.1M253.1 57.0V73.4M253.4 57.6V73.1M253.7 53.2V81.9M254.0 58.7V79.2M254.3 59.6V75.9M254.6 61.9V86.4M254.9 59.7V75.3M255.2 57.0V72.7M255.5 61.8V74.7M255.8 65.5V78.1M256.1 56.4V79.7M256.4 70.6V80.0M256.7 68.0V77.2M257.0 61.5V82.3M257.3 54.4V83.1M257.6 63.5V79.0M257.9 64.5V81.0M258.2 66.1V78.8M258.5 68.3V77.3M258.8 74.0V85.2M259.1 70.7V99.8M259.4 64.1V85.4M259.7 58.1V82.6M260.0 75.4V85.9M260.3 79.1V104.8M260.6 78.5V94.2M260.9 75.0V92.5M261.2 83.2V99.5M261.5 81.3V94.2M261.8 77.5V88.7M262.1 83.8V98.5M262.4 80.7V103.8M262.7 81.5V101.6M263.0 74.8V93.7M263.3 83.5V97.1M263.6 92.6V105.0M263.9 99.8V115.7M264.2 81.4V114.9M264.5 96.1V114.3M264.8 108.7V130.1M265.1 110.1V126.3M265.4 118.8V136.2M265.7 121.5V137.3M266.0 120.5V136.7M266.3 129.9V143.2M266.6 136.0V144.5M266.9 136.5V153.6M267.2 135.5V158.6M267.5 136.4V156.3M267.8 146.6V157.5M268.1 137.4V154.7M268.4 141.9V154.3M268.7 140.4V167.5M269.0 140.1V157.3M269.3 135.3V164.0M269.6 139.5V152.2M269.9 143.0V162.0M270.2 136.1V164.3M270.5 134.8V152.9M270.8 134.0V144.6M271.1 132.9V153.3M271.4 118.4V143.1M271.7 121.4V135.0M272.0 124.9V140.3M272.3 115.5V142.6M272.6 117.8V137.3M272.9 110.5V134.0M273.2 116.9V131.9M273.5 120.2V132.5M273.8 118.8V130.9M274.1 114.8V129.6M274.4 116.0V135.4M274.7 119.5V146.7" stroke="#c8690c" stroke-opacity="0.5" stroke-width="0.7" fill="none"/><path d="M41.6 106.0V111.5M41.9 97.1V107.4M42.2 92.7V99.8M42.5 89.9V97.6M42.8 93.1V101.0M43.1 92.5V101.7M43.4 95.1V103.4M43.7 96.9V103.8M44.0 94.3V99.6M44.3 93.4V102.7M44.6 93.2V100.3M44.9 97.8V105.6M45.2 99.9V104.6M45.5 103.7V108.8M45.8 103.9V111.6M46.1 106.3V114.2M46.4 103.3V112.2M46.7 104.2V109.3M47.0 103.6V112.4M47.3 103.7V112.9M47.6 106.2V112.6M47.9 107.5V114.2M48.2 110.2V118.1M48.5 109.6V115.1M48.8 107.8V118.3M49.1 106.7V112.2M49.4 107.3V112.7M49.7 101.7V109.5M50.0 103.2V112.9M50.3 105.7V111.0M50.6 104.0V112.9M50.9 105.9V113.5M51.2 108.8V114.6M51.5 108.1V116.2M51.8 108.0V116.3M52.1 112.2V119.6M52.4 110.0V116.3M52.7 111.7V118.0M53.0 111.1V118.9M53.3 117.2V124.8M53.6 120.7V125.8M53.9 117.8V123.6M54.2 112.8V123.7M54.5 120.6V129.0M54.8 125.5V131.3M55.1 133.0V140.2M55.4 133.8V141.1M55.7 134.4V141.5M56.0 135.4V142.6M56.3 139.3V144.6M56.6 140.3V147.6M56.9 139.3V145.8M57.2 138.6V146.4M57.5 140.7V147.2M57.8 146.3V151.4M58.1 150.6V157.5M58.4 152.2V160.2M58.7 151.5V158.7M59.0 153.0V160.2M59.3 157.7V164.7M59.6 160.6V166.4M59.9 162.4V169.8M60.2 161.2V168.4M60.5 157.1V165.5M60.8 161.4V166.3M61.1 162.5V169.9M61.4 164.1V170.3M61.7 162.7V171.6M62.0 169.1V173.3M62.3 163.3V172.0M62.6 161.3V167.1M62.9 159.5V167.7M63.2 161.5V167.3M63.5 162.5V169.1M63.8 163.8V169.4M64.1 160.0V166.6M64.4 155.7V163.0M64.7 154.4V160.0M65.0 146.7V153.2M65.3 145.1V149.1M65.6 141.6V148.8M65.9 139.9V146.1M66.2 137.1V142.3M66.5 135.8V145.1M66.8 138.4V146.1M67.1 141.4V147.3M67.4 140.0V147.9M67.7 141.0V147.3M68.0 145.7V152.0M68.3 145.2V152.7M68.6 146.6V152.5M68.9 146.7V154.6M69.2 148.5V157.6M69.5 146.4V153.7M69.8 149.8V154.4M70.1 148.0V153.2M70.4 146.5V154.5M70.7 146.1V153.5M71.0 145.6V154.1M71.3 147.0V153.7M71.6 142.5V151.3M71.9 142.1V151.0M72.2 143.5V148.6M72.5 148.4V155.1M72.8 150.3V155.9M73.1 148.5V155.6M73.4 147.1V154.5M73.7 148.1V154.4M74.0 147.7V155.9M74.3 148.0V153.1M74.6 148.3V155.8M74.9 151.4V159.2M75.2 150.3V157.3M75.5 152.7V159.3M75.8 149.5V157.1M76.1 147.4V153.8M76.4 140.8V148.9M76.7 144.8V153.1M77.0 148.0V155.4M77.3 146.4V155.5M77.6 145.4V150.9M77.9 146.1V152.5M78.2 143.6V149.1M78.5 139.9V145.5M78.8 131.8V141.8M79.1 134.3V142.0M79.4 132.3V140.5M79.7 130.8V137.5M80.0 126.0V135.7M80.3 126.4V132.8M80.6 125.5V130.4M80.9 122.6V127.9M81.2 116.0V125.4M81.5 116.2V121.7M81.8 117.6V126.2M82.1 116.8V124.6M82.4 116.2V123.2M82.7 118.5V123.8M83.0 116.5V123.6M83.3 115.6V124.6M83.6 113.6V118.5M83.9 109.4V114.5M84.2 109.4V118.7M84.5 109.5V115.2M84.8 104.2V112.8M85.1 103.1V110.4M85.4 102.0V108.3M85.7 97.5V105.5M86.0 100.6V106.9M86.3 98.8V105.8M86.6 97.7V105.0M86.9 100.1V109.2M87.2 101.0V109.4M87.5 104.1V108.2M87.8 94.8V104.4M88.1 96.3V104.5M88.4 94.6V101.9M88.7 97.0V104.8M89.0 90.7V96.4M89.3 87.7V94.3M89.6 87.9V93.1M89.9 87.0V95.8M90.2 87.4V93.6M90.5 89.2V98.9M90.8 87.6V95.7M91.1 80.2V87.3M91.4 75.9V82.8M91.7 71.5V80.5M92.0 71.7V81.6M92.3 72.2V77.4M92.6 70.0V76.0M92.9 65.5V74.9M93.2 66.5V73.2M93.5 65.9V72.1M93.8 66.6V76.7M94.1 67.9V77.2M94.4 70.7V81.9M94.7 73.6V80.4M95.0 74.3V82.6M95.3 76.0V85.1M95.6 78.0V85.8M95.9 82.0V87.6M96.2 83.8V89.8M96.5 79.2V86.7M96.8 81.7V86.8M97.1 85.0V90.2M97.4 85.9V94.4M97.7 88.0V94.8M98.0 90.2V96.5M98.3 93.7V101.0M98.6 96.0V102.8M98.9 95.6V103.0M99.2 98.1V103.1M99.5 105.0V111.9M99.8 109.8V117.4M100.1 109.5V118.6M100.4 110.7V115.5M100.7 110.7V116.0M101.0 116.7V122.6M101.3 116.1V123.0M101.6 120.3V126.2M101.9 117.4V124.3M102.2 117.8V125.6M102.5 119.6V125.1M102.8 121.0V127.5M103.1 120.2V126.7M103.4 122.4V128.4M103.7 122.6V130.1M104.0 121.9V129.8M104.3 122.4V129.4M104.6 122.7V128.5M104.9 120.1V127.8M105.2 122.2V129.8M105.5 120.1V127.8M105.8 123.1V129.9M106.1 121.4V128.3M106.4 117.1V125.2M106.7 120.1V128.4M107.0 120.8V128.8M107.3 123.3V128.5M107.6 123.2V129.5M107.9 121.8V128.7M108.2 115.5V123.7M108.5 113.5V121.2M108.8 110.6V119.4M109.1 109.2V118.2M109.4 110.0V116.3M109.7 107.8V114.5M110.0 106.8V115.0M110.3 107.6V114.1M110.6 106.1V112.9M110.9 103.5V110.0M111.2 106.6V112.9M111.5 105.6V112.6M111.8 106.1V114.5M112.1 107.5V116.7M112.4 110.6V116.7M112.7 111.5V118.7M113.0 115.5V120.5M113.3 114.8V121.3M113.6 114.1V121.6M113.9 115.6V122.5M114.2 113.5V121.3M114.5 116.8V123.4M114.8 117.8V124.6M115.1 116.4V122.7M115.4 116.7V123.1M115.7 113.5V122.7M116.0 114.3V122.9M116.3 114.8V122.6M116.6 117.2V122.4M116.9 113.6V120.1M117.2 113.8V120.2M117.5 115.4V124.4M117.8 111.0V120.3M118.1 117.1V122.9M118.4 112.1V120.3M118.7 115.6V123.0M119.0 113.5V119.3M119.3 111.5V120.3M119.6 114.0V122.3M119.9 114.9V121.5M120.2 119.6V126.1M120.5 119.1V127.8M120.8 120.9V128.8M121.1 121.2V128.3M121.4 117.5V127.6M121.7 116.5V124.4M122.0 119.4V125.5M122.3 119.3V127.3M122.6 119.6V126.4M122.9 122.5V127.1M123.2 123.0V127.9M123.5 122.7V129.7M123.8 122.8V127.7M124.1 121.6V129.9M124.4 126.8V133.4M124.7 128.1V137.5M125.0 127.4V133.7M125.3 126.6V132.6M125.6 123.5V130.4M125.9 121.2V127.5M126.2 121.9V130.8M126.5 120.7V126.7M126.8 121.9V129.0M127.1 118.9V125.5M127.4 115.7V123.6M127.7 116.1V122.8M128.0 115.3V121.8M128.3 113.9V122.3M128.6 110.0V118.5M128.9 114.1V121.6M129.2 110.1V115.5M129.5 112.7V120.0M129.8 111.1V117.8M130.1 115.0V122.0M130.4 117.4V124.0M130.7 119.3V126.7M131.0 116.4V125.0M131.3 115.7V122.1M131.6 112.7V120.9M131.9 114.0V120.0M132.2 113.3V123.3M132.5 112.8V118.3M132.8 108.4V117.6M133.1 109.0V117.8M133.4 111.8V116.9M133.7 113.4V121.0M134.0 123.3V129.6M134.3 118.7V126.0M134.6 123.6V132.0M134.9 121.4V128.4M135.2 123.4V130.5M135.5 123.7V130.0M135.8 132.5V137.3M136.1 132.2V138.6M136.4 131.8V140.7M136.7 130.0V135.3M137.0 129.5V134.7M137.3 134.7V140.5M137.6 137.3V143.2M137.9 139.7V144.5M138.2 140.3V145.3M138.5 139.5V144.8M138.8 137.0V141.9M139.1 132.9V140.6M139.4 133.0V138.7M139.7 131.3V140.0M140.0 131.3V138.7M140.3 129.4V136.5M140.6 130.6V139.3M140.9 129.1V137.0M141.2 125.8V132.8M141.5 120.8V129.2M141.8 121.2V128.7M142.1 117.3V127.6M142.4 121.3V129.2M142.7 117.0V126.0M143.0 120.6V125.4M143.3 118.7V125.5M143.6 119.0V125.5M143.9 119.2V125.2M144.2 115.8V122.7M144.5 113.6V121.3M144.8 115.6V122.8M145.1 120.3V125.9M145.4 117.0V124.7M145.7 118.0V126.5M146.0 117.7V125.7M146.3 125.0V132.5M146.6 125.9V131.7M146.9 128.4V135.1M147.2 131.9V140.6M147.5 134.3V142.9M147.8 137.8V142.0M148.1 134.6V142.4M148.4 137.3V145.2M148.7 143.2V150.1M149.0 146.4V154.8M149.3 145.4V152.6M149.6 142.9V149.9M149.9 142.7V150.9M150.2 139.6V148.3M150.5 143.0V152.2M150.8 145.9V151.9M151.1 141.4V146.9M151.4 138.5V144.3M151.7 133.9V141.1M152.0 133.1V138.4M152.3 131.0V140.1M152.6 129.9V138.3M152.9 127.3V137.4M153.2 129.1V134.7M153.5 126.8V134.4M153.8 123.4V131.7M154.1 122.1V130.9M154.4 116.1V124.9M154.7 113.3V119.5M155.0 113.4V122.3M155.3 111.7V118.4M155.6 111.7V119.3M155.9 112.4V118.6M156.2 112.9V117.2M156.5 111.7V119.0M156.8 113.9V119.2M157.1 116.0V122.3M157.4 118.5V126.0M157.7 123.2V129.9M158.0 123.6V128.6M158.3 124.7V131.0M158.6 125.0V130.7M158.9 123.5V130.9M159.2 124.6V130.7M159.5 121.7V130.9M159.8 119.0V126.3M160.1 119.8V128.6M160.4 118.0V128.3M160.7 119.9V126.1M161.0 119.1V126.7M161.3 121.8V128.8M161.6 124.8V132.2M161.9 125.1V135.2M162.2 128.2V136.6M162.5 123.7V133.3M162.8 125.5V130.8M163.1 123.5V131.1M163.4 122.6V131.8M163.7 121.4V127.9M164.0 121.6V129.6M164.3 116.2V124.4M164.6 112.9V120.7M164.9 111.8V121.8M165.2 108.5V116.7M165.5 107.0V112.4M165.8 105.1V113.7M166.1 105.2V111.1M166.4 103.7V110.1M166.7 101.9V109.4M167.0 102.9V108.0M167.3 100.7V108.6M167.6 102.4V110.3M167.9 101.3V108.1M168.2 103.7V109.9M168.5 101.1V108.0M168.8 97.9V105.1M169.1 97.2V105.5M169.4 98.0V103.9M169.7 101.5V108.5M170.0 101.0V107.1M170.3 102.5V109.1M170.6 95.6V103.8M170.9 97.4V102.9M171.2 95.9V100.7M171.5 95.5V101.0M171.8 96.4V104.0M172.1 92.1V100.5M172.4 90.0V100.4M172.7 87.8V94.3M173.0 88.0V96.3M173.3 91.4V98.5M173.6 89.3V99.0M173.9 89.6V98.3M174.2 88.2V94.2M174.5 87.2V93.6M174.8 82.2V91.3M175.1 81.5V88.1M175.4 80.5V88.7M175.7 79.2V86.6M176.0 83.6V89.0M176.3 83.4V89.8M176.6 82.6V89.7M176.9 74.7V80.6M177.2 76.5V83.5M177.5 71.1V78.6M177.8 69.2V77.5M178.1 64.4V75.3M178.4 65.6V73.5M178.7 67.7V76.6M179.0 67.9V75.2M179.3 72.4V80.1M179.6 69.8V79.7M179.9 75.8V81.9M180.2 74.2V79.8M180.5 68.8V75.4M180.8 65.2V73.6M181.1 66.6V73.8M181.4 67.0V74.8M181.7 66.0V72.8M182.0 71.9V77.4M182.3 67.0V74.9M182.6 69.2V76.9M182.9 71.7V76.4M183.2 72.8V79.4M183.5 76.1V84.0M183.8 75.0V83.8M184.1 77.0V84.2M184.4 73.1V79.5M184.7 74.7V81.8M185.0 73.7V79.2M185.3 72.7V81.6M185.6 74.4V81.3M185.9 76.7V83.1M186.2 76.1V84.1M186.5 75.2V82.4M186.8 77.2V83.9M187.1 77.1V85.2M187.4 80.9V88.2M187.7 81.9V87.9M188.0 82.4V92.9M188.3 84.6V93.0M188.6 83.9V92.4M188.9 83.6V89.6M189.2 82.0V90.6M189.5 81.6V90.7M189.8 84.7V90.3M190.1 80.9V89.2M190.4 80.3V86.7M190.7 79.1V88.0M191.0 82.6V91.1M191.3 77.5V85.3M191.6 77.9V84.4M191.9 75.7V82.9M192.2 76.1V83.0M192.5 76.3V84.4M192.8 76.0V83.1M193.1 76.2V83.1M193.4 77.1V82.6M193.7 72.7V80.8M194.0 70.4V77.7M194.3 74.1V79.3M194.6 71.8V81.9M194.9 72.8V81.3M195.2 77.4V82.4M195.5 79.8V84.6M195.8 81.5V86.8M196.1 79.8V86.5M196.4 77.7V84.8M196.7 81.3V88.4M197.0 81.7V88.4M197.3 81.3V86.9M197.6 80.3V87.6M197.9 79.6V85.5M198.2 82.8V87.8M198.5 80.2V86.5M198.8 73.2V84.3M199.1 73.9V81.8M199.4 82.1V89.3M199.7 78.7V87.2M200.0 78.8V86.0M200.3 78.5V86.9M200.6 81.0V87.2M200.9 81.6V87.8M201.2 82.3V89.3M201.5 82.4V90.9M201.8 81.8V90.2M202.1 80.7V87.5M202.4 82.7V89.4M202.7 83.3V89.9M203.0 82.1V89.8M203.3 82.3V89.2M203.6 76.0V83.2M203.9 76.5V84.0M204.2 75.5V82.6M204.5 79.2V84.4M204.8 75.0V81.7M205.1 74.8V82.5M205.4 72.2V80.1M205.7 76.1V84.3M206.0 74.3V81.2M206.3 70.3V78.4M206.6 68.0V75.0M206.9 71.1V77.2M207.2 69.4V77.8M207.5 69.7V78.7M207.8 70.6V76.4M208.1 69.6V78.7M208.4 75.6V83.2M208.7 79.2V85.0M209.0 78.7V87.0M209.3 78.6V85.9M209.6 78.1V84.9M209.9 78.5V84.7M210.2 78.7V86.8M210.5 74.5V83.0M210.8 75.6V81.7M211.1 69.8V80.1M211.4 73.7V80.6M211.7 72.6V80.1M212.0 71.8V79.9M212.3 69.7V75.9M212.6 69.3V74.2M212.9 74.9V82.6M213.2 74.3V81.7M213.5 74.2V81.6M213.8 75.2V81.3M214.1 79.5V84.9M214.4 80.5V86.6M214.7 83.7V92.2M215.0 85.9V94.0M215.3 86.5V94.3M215.6 85.8V90.8M215.9 83.2V90.4M216.2 78.2V85.9M216.5 79.6V87.7M216.8 85.4V90.3M217.1 85.7V93.8M217.4 85.0V91.3M217.7 83.9V92.6M218.0 87.1V94.0M218.3 90.9V97.4M218.6 88.7V96.5M218.9 88.4V94.4M219.2 88.3V96.8M219.5 87.8V95.3M219.8 83.3V91.7M220.1 85.7V91.2M220.4 85.8V92.8M220.7 84.9V92.4M221.0 83.3V90.6M221.3 86.7V95.2M221.6 88.1V95.2M221.9 84.5V92.2M222.2 82.6V89.3M222.5 78.6V88.5M222.8 80.6V87.3M223.1 78.2V85.5M223.4 77.4V83.3M223.7 77.2V85.7M224.0 75.7V83.8M224.3 74.1V80.5M224.6 70.7V80.2M224.9 71.2V77.8M225.2 69.4V76.2M225.5 70.6V77.6M225.8 68.4V76.6M226.1 70.0V76.1M226.4 66.1V72.7M226.7 68.4V76.4M227.0 71.1V77.0M227.3 68.2V75.5M227.6 66.3V72.5M227.9 65.3V71.1M228.2 64.7V71.1M228.5 66.2V70.6M228.8 61.0V68.8M229.1 61.3V67.3M229.4 62.2V69.3M229.7 64.1V71.4M230.0 66.2V74.8M230.3 71.3V75.8M230.6 70.5V75.7M230.9 74.4V80.8M231.2 77.3V83.3M231.5 77.9V84.9M231.8 78.1V84.8M232.1 79.1V86.0M232.4 82.3V89.7M232.7 83.2V90.2M233.0 84.7V91.5M233.3 81.0V88.9M233.6 79.9V86.9M233.9 74.6V83.8M234.2 73.7V82.6M234.5 72.3V81.3M234.8 74.3V82.3M235.1 73.8V81.9M235.4 74.3V82.8M235.7 78.3V84.2M236.0 75.8V83.8M236.3 75.8V81.9M236.6 73.5V79.8M236.9 71.8V78.9M237.2 72.2V77.4M237.5 69.2V76.8M237.8 68.7V76.4M238.1 67.0V72.9M238.4 62.4V69.9M238.7 59.9V66.5M239.0 61.0V65.7M239.3 62.2V67.7M239.6 60.7V67.9M239.9 63.4V68.8M240.2 61.2V68.7M240.5 62.6V68.5M240.8 62.8V68.0M241.1 62.9V69.6M241.4 64.9V71.9M241.7 63.6V73.1M242.0 62.8V69.2M242.3 64.3V71.6M242.6 63.7V70.4M242.9 66.2V73.1M243.2 61.6V69.0M243.5 62.3V71.2M243.8 62.0V68.5M244.1 60.5V68.9M244.4 61.0V65.4M244.7 59.3V66.0M245.0 57.4V63.8M245.3 54.7V60.1M245.6 58.0V64.0M245.9 57.6V63.2M246.2 61.2V66.2M246.5 60.5V66.0M246.8 62.3V68.3M247.1 61.6V68.4M247.4 62.6V69.2M247.7 65.0V71.7M248.0 68.8V77.3M248.3 68.7V74.1M248.6 64.2V72.6M248.9 65.3V74.8M249.2 66.7V74.1M249.5 70.7V76.2M249.8 64.9V72.8M250.1 61.9V70.7M250.4 62.9V67.1M250.7 63.3V68.4M251.0 59.1V66.4M251.3 59.1V65.3M251.6 56.8V65.2M251.9 62.2V68.4M252.2 55.5V63.4M252.5 56.1V60.9M252.8 59.2V64.7M253.1 58.7V65.7M253.4 61.4V69.0M253.7 62.4V67.5M254.0 63.6V71.0M254.3 66.8V72.9M254.6 64.7V70.3M254.9 63.6V69.0M255.2 66.2V70.9M255.5 65.8V72.5M255.8 65.1V72.2M256.1 67.0V73.1M256.4 70.7V77.5M256.7 68.5V78.9M257.0 68.4V76.9M257.3 68.8V76.2M257.6 69.1V77.1M257.9 67.3V73.9M258.2 69.4V74.4M258.5 70.2V75.4M258.8 74.6V79.2M259.1 73.7V79.6M259.4 72.9V81.1M259.7 72.3V81.2M260.0 75.5V82.2M260.3 79.5V87.5M260.6 82.6V89.5M260.9 84.4V90.7M261.2 86.1V92.0M261.5 84.7V91.5M261.8 79.4V86.6M262.1 83.5V90.1M262.4 85.5V91.9M262.7 85.0V92.9M263.0 83.1V91.1M263.3 85.2V94.2M263.6 94.3V99.7M263.9 98.5V108.8M264.2 100.7V109.1M264.5 106.7V112.5M264.8 108.6V116.2M265.1 114.3V120.2M265.4 120.5V128.0M265.7 122.9V131.4M266.0 127.9V135.1M266.3 130.2V138.0M266.6 137.1V141.6M266.9 137.3V143.1M267.2 142.2V147.5M267.5 142.8V148.7M267.8 147.3V156.4M268.1 145.6V153.7M268.4 145.2V151.6M268.7 146.9V154.5M269.0 145.3V153.2M269.3 146.4V153.8M269.6 144.3V149.5M269.9 145.2V150.9M270.2 139.7V150.7M270.5 139.4V144.8M270.8 136.2V141.2M271.1 132.7V140.4M271.4 127.5V136.7M271.7 124.3V134.1M272.0 123.9V132.4M272.3 122.5V131.1M272.6 123.0V129.0M272.9 119.1V128.6M273.2 122.0V127.7M273.5 122.2V129.5M273.8 119.6V125.4M274.1 117.1V124.1M274.4 119.0V126.1M274.7 121.8V128.4" stroke="#c8690c" stroke-width="0.7" fill="none"/>
<rect x="41.8" y="28.3" width="232.8" height="187.29999999999998" fill="none" stroke="#444" stroke-width="1.2"/>
<line x1="65.08" y1="28.3" x2="65.08" y2="30.8" stroke="#444" stroke-width="1"/>
<line x1="88.36" y1="215.6" x2="88.36" y2="219.1" stroke="#444" stroke-width="1"/>
<line x1="88.36" y1="28.3" x2="88.36" y2="30.8" stroke="#444" stroke-width="1"/>
<line x1="111.64" y1="28.3" x2="111.64" y2="30.8" stroke="#444" stroke-width="1"/>
<line x1="134.92000000000002" y1="215.6" x2="134.92000000000002" y2="219.1" stroke="#444" stroke-width="1"/>
<line x1="134.92000000000002" y1="28.3" x2="134.92000000000002" y2="30.8" stroke="#444" stroke-width="1"/>
<line x1="158.2" y1="28.3" x2="158.2" y2="30.8" stroke="#444" stroke-width="1"/>
<line x1="181.48000000000002" y1="215.6" x2="181.48000000000002" y2="219.1" stroke="#444" stroke-width="1"/>
<line x1="181.48000000000002" y1="28.3" x2="181.48000000000002" y2="30.8" stroke="#444" stroke-width="1"/>
<line x1="204.76" y1="28.3" x2="204.76" y2="30.8" stroke="#444" stroke-width="1"/>
<line x1="228.04000000000002" y1="215.6" x2="228.04000000000002" y2="219.1" stroke="#444" stroke-width="1"/>
<line x1="228.04000000000002" y1="28.3" x2="228.04000000000002" y2="30.8" stroke="#444" stroke-width="1"/>
<line x1="251.32000000000005" y1="28.3" x2="251.32000000000005" y2="30.8" stroke="#444" stroke-width="1"/>
<line x1="37.3" y1="57.4" x2="41.8" y2="57.4" stroke="#444" stroke-width="1"/>
<text x="36" y="60.4" font-family="Liberation Serif" font-size="9" font-weight="bold" text-anchor="end" >4.04</text>
<line x1="37.3" y1="114.3" x2="41.8" y2="114.3" stroke="#444" stroke-width="1"/>
<text x="36" y="117.3" font-family="Liberation Serif" font-size="9" font-weight="bold" text-anchor="end" >4.00</text>
<line x1="37.3" y1="172.1" x2="41.8" y2="172.1" stroke="#444" stroke-width="1"/>
<text x="36" y="175.1" font-family="Liberation Serif" font-size="9" font-weight="bold" text-anchor="end" >3.96</text>
<line x1="39.3" y1="86" x2="41.8" y2="86" stroke="#444" stroke-width="1"/>
<line x1="39.3" y1="143.2" x2="41.8" y2="143.2" stroke="#444" stroke-width="1"/>
<line x1="39.3" y1="201" x2="41.8" y2="201" stroke="#444" stroke-width="1"/>
<line x1="272.1" y1="46.6" x2="274.6" y2="46.6" stroke="#444" stroke-width="1"/>
<line x1="272.1" y1="64.9" x2="274.6" y2="64.9" stroke="#444" stroke-width="1"/>
<line x1="272.1" y1="83.9" x2="274.6" y2="83.9" stroke="#444" stroke-width="1"/>
<line x1="272.1" y1="102.7" x2="274.6" y2="102.7" stroke="#444" stroke-width="1"/>
<line x1="272.1" y1="121.5" x2="274.6" y2="121.5" stroke="#444" stroke-width="1"/>
<line x1="272.1" y1="140.5" x2="274.6" y2="140.5" stroke="#444" stroke-width="1"/>
<line x1="272.1" y1="159.3" x2="274.6" y2="159.3" stroke="#444" stroke-width="1"/>
<line x1="272.1" y1="177.8" x2="274.6" y2="177.8" stroke="#444" stroke-width="1"/>
<line x1="272.1" y1="197.2" x2="274.6" y2="197.2" stroke="#444" stroke-width="1"/>
<text x="135" y="229" font-family="Liberation Serif" font-size="9" font-weight="bold" text-anchor="middle" >40000</text>
<text x="228" y="229" font-family="Liberation Serif" font-size="9" font-weight="bold" text-anchor="middle" >80000</text>
<text x="158.5" y="245" font-family="Liberation Serif" font-size="10.9" font-weight="bold" text-anchor="middle" >Time (ps)</text>
<text x="0" y="0" font-family="Liberation Serif" font-size="10.5" font-weight="bold" text-anchor="middle" transform="translate(9.2,116.5) rotate(-90)">Gyration Radius (nm)</text>
<line x1="56" y1="5.8" x2="84.3" y2="5.8" stroke="#a3217f" stroke-width="2.2"/>
<text x="87.7" y="8.3" font-family="Liberation Serif" font-size="10" font-weight="bold" text-anchor="start" >DOX-pH=5</text>
<line x1="140.3" y1="4.8" x2="173" y2="4.8" stroke="#c8690c" stroke-width="2.2"/>
<text x="187" y="8.3" font-family="Liberation Serif" font-size="10" font-weight="bold" text-anchor="start" >DOX-pH=7</text>
<path d="M43.1 291.9V304.0M43.4 290.3V304.2M43.7 287.4V299.3M44.0 270.8V302.3M44.3 284.3V300.5M44.6 286.6V303.5M44.9 288.8V301.8M45.2 288.8V299.8M45.5 275.5V304.4M45.8 285.7V327.4M46.1 279.3V311.7M46.4 290.2V311.5M46.7 290.7V314.4M47.0 295.3V305.7M47.3 294.9V306.0M47.6 296.4V311.3M47.9 293.8V307.3M48.2 295.1V309.2M48.5 296.0V314.0M48.8 293.6V319.3M49.1 294.2V307.3M49.4 286.9V303.4M49.7 281.2V329.9M50.0 303.8V312.5M50.3 308.7V319.7M50.6 306.1V322.6M50.9 306.6V316.2M51.2 296.6V330.2M51.5 307.9V322.2M51.8 309.9V321.5M52.1 308.9V328.9M52.4 307.6V319.4M52.7 304.6V332.2M53.0 310.6V323.6M53.3 314.2V332.7M53.6 315.0V333.3M53.9 308.4V324.2M54.2 309.4V321.4M54.5 311.7V328.9M54.8 313.8V333.4M55.1 315.1V326.0M55.4 308.2V329.9M55.7 305.1V326.0M56.0 309.6V331.8M56.3 307.0V328.9M56.6 321.3V329.9M56.9 322.8V340.5M57.2 321.2V343.3M57.5 324.5V339.1M57.8 313.7V336.5M58.1 327.5V349.2M58.4 327.8V342.8M58.7 328.6V345.3M59.0 328.4V345.1M59.3 316.8V336.3M59.6 315.4V331.0M59.9 317.2V326.5M60.2 314.7V326.2M60.5 309.4V324.8M60.8 305.9V322.0M61.1 302.4V319.4M61.4 309.3V318.8M61.7 304.5V318.3M62.0 303.4V325.0M62.3 307.5V318.0M62.6 307.0V322.5M62.9 308.7V326.6M63.2 307.4V320.6M63.5 305.4V321.8M63.8 312.0V322.5M64.1 311.2V327.4M64.4 312.2V326.5M64.7 316.5V326.0M65.0 301.5V328.0M65.3 313.2V354.0M65.6 314.5V329.5M65.9 319.7V338.2M66.2 316.8V336.6M66.5 314.7V330.5M66.8 312.1V326.8M67.1 307.9V326.1M67.4 305.1V323.2M67.7 314.2V327.2M68.0 309.5V326.6M68.3 317.5V330.4M68.6 294.7V333.8M68.9 306.9V327.8M69.2 300.4V322.3M69.5 299.9V324.1M69.8 311.8V324.9M70.1 308.9V322.2M70.4 306.1V321.9M70.7 304.3V326.2M71.0 307.8V321.5M71.3 299.6V320.3M71.6 310.1V319.1M71.9 294.1V319.5M72.2 310.6V329.4M72.5 310.5V325.0M72.8 312.7V327.8M73.1 302.6V344.6M73.4 308.8V334.4M73.7 308.2V330.4M74.0 313.9V325.1M74.3 313.0V324.5M74.6 311.6V324.9M74.9 305.9V323.4M75.2 305.6V325.1M75.5 295.8V323.4M75.8 310.4V323.7M76.1 315.0V326.1M76.4 306.7V324.0M76.7 292.7V332.9M77.0 310.2V323.5M77.3 296.2V323.2M77.6 315.5V347.5M77.9 315.4V327.2M78.2 317.8V332.6M78.5 313.9V328.5M78.8 310.1V325.9M79.1 314.4V326.1M79.4 300.6V329.1M79.7 308.7V328.9M80.0 312.8V330.5M80.3 321.3V339.5M80.6 317.7V338.2M80.9 321.7V333.2M81.2 306.8V331.1M81.5 320.6V345.6M81.8 315.3V330.7M82.1 295.7V331.6M82.4 318.8V330.0M82.7 312.1V329.8M83.0 321.2V333.8M83.3 319.4V338.6M83.6 321.5V336.7M83.9 308.3V330.6M84.2 320.0V329.3M84.5 310.9V335.4M84.8 318.9V330.6M85.1 318.2V336.3M85.4 314.3V338.5M85.7 312.7V329.7M86.0 321.0V336.5M86.3 324.1V342.1M86.6 328.1V347.9M86.9 319.4V339.1M87.2 312.4V343.0M87.5 321.2V340.8M87.8 321.8V336.9M88.1 322.7V334.4M88.4 324.6V338.1M88.7 323.6V338.1M89.0 310.3V343.3M89.3 322.6V337.0M89.6 315.9V327.0M89.9 306.1V327.4M90.2 316.7V334.9M90.5 308.3V328.0M90.8 319.6V331.0M91.1 312.9V331.8M91.4 314.2V332.5M91.7 312.2V333.7M92.0 311.4V324.9M92.3 315.6V327.4M92.6 311.3V328.6M92.9 312.1V325.8M93.2 313.8V323.4M93.5 308.7V326.0M93.8 316.2V327.6M94.1 306.5V332.6M94.4 313.6V334.6M94.7 308.7V329.4M95.0 310.8V348.8M95.3 313.1V328.4M95.6 310.0V326.9M95.9 316.7V328.5M96.2 307.5V327.6M96.5 312.5V323.6M96.8 287.4V331.7M97.1 306.2V316.9M97.4 304.6V318.9M97.7 306.5V317.0M98.0 298.8V325.0M98.3 294.7V318.5M98.6 304.5V321.9M98.9 307.2V320.0M99.2 305.4V320.2M99.5 311.9V328.9M99.8 312.4V336.5M100.1 318.7V333.7M100.4 311.7V325.7M100.7 312.9V322.6M101.0 311.9V330.6M101.3 310.9V326.9M101.6 312.6V330.0M101.9 316.5V326.2M102.2 312.6V349.1M102.5 306.9V336.1M102.8 313.6V329.9M103.1 313.9V324.1M103.4 309.7V327.6M103.7 315.9V330.8M104.0 314.4V327.5M104.3 313.9V330.6M104.6 313.0V335.6M104.9 313.3V330.1M105.2 315.8V332.2M105.5 308.0V329.7M105.8 315.3V335.1M106.1 316.3V327.5M106.4 314.9V329.5M106.7 313.5V340.3M107.0 307.9V330.6M107.3 320.2V331.1M107.6 313.2V337.9M107.9 317.6V331.5M108.2 318.7V340.5M108.5 312.9V350.7M108.8 320.9V339.7M109.1 327.7V341.1M109.4 329.5V344.8M109.7 327.6V340.3M110.0 319.2V333.2M110.3 312.5V340.0M110.6 312.4V343.2M110.9 316.7V338.8M111.2 321.2V336.3M111.5 322.2V342.3M111.8 320.1V339.8M112.1 320.1V341.0M112.4 321.8V334.3M112.7 324.7V346.8M113.0 321.2V344.2M113.3 323.7V341.7M113.6 321.1V336.3M113.9 321.2V336.1M114.2 321.0V337.9M114.5 309.8V332.2M114.8 315.1V327.9M115.1 307.0V330.8M115.4 304.8V335.0M115.7 319.3V334.3M116.0 317.4V329.5M116.3 317.5V337.8M116.6 321.8V344.5M116.9 321.2V337.1M117.2 317.8V334.4M117.5 322.0V335.2M117.8 323.2V337.4M118.1 323.0V333.0M118.4 313.7V336.6M118.7 325.4V334.6M119.0 323.9V344.2M119.3 315.6V338.9M119.6 321.5V343.7M119.9 321.4V335.0M120.2 315.7V333.0M120.5 320.4V345.2M120.8 314.0V336.6M121.1 317.9V336.2M121.4 316.8V337.4M121.7 314.5V328.5M122.0 314.2V325.4M122.3 308.9V328.3M122.6 299.2V318.0M122.9 304.7V318.9M123.2 306.2V317.7M123.5 307.6V320.6M123.8 303.6V324.8M124.1 299.3V324.1M124.4 310.7V328.0M124.7 306.1V333.4M125.0 310.8V326.6M125.3 316.8V327.5M125.6 315.1V334.7M125.9 313.0V335.8M126.2 311.3V326.9M126.5 309.7V325.0M126.8 314.3V338.2M127.1 315.8V324.6M127.4 306.7V327.3M127.7 318.1V327.9M128.0 317.5V330.7M128.3 315.7V326.0M128.6 311.7V333.2M128.9 315.7V330.1M129.2 310.7V323.9M129.5 315.1V324.3M129.8 308.5V334.5M130.1 313.3V330.6M130.4 305.7V328.8M130.7 304.1V327.8M131.0 313.6V325.2M131.3 304.3V329.2M131.6 318.9V338.8M131.9 320.3V329.8M132.2 317.7V330.2M132.5 308.8V337.5M132.8 321.3V342.2M133.1 318.9V335.1M133.4 320.7V329.2M133.7 318.7V332.2M134.0 323.1V333.0M134.3 315.4V331.6M134.6 314.9V329.0M134.9 317.8V331.8M135.2 320.3V332.2M135.5 320.8V345.1M135.8 321.3V338.0M136.1 308.7V331.5M136.4 317.0V330.0M136.7 310.6V335.3M137.0 319.4V336.4M137.3 318.1V336.8M137.6 314.4V328.1M137.9 313.6V324.1M138.2 313.9V324.6M138.5 312.2V335.5M138.8 311.2V331.3M139.1 318.0V345.0M139.4 310.2V329.0M139.7 311.3V330.6M140.0 311.5V342.2M140.3 313.6V332.5M140.6 318.1V329.0M140.9 312.8V342.8M141.2 312.9V327.7M141.5 306.6V334.6M141.8 313.7V330.4M142.1 326.2V341.8M142.4 328.0V346.5M142.7 316.2V341.6M143.0 327.0V343.0M143.3 335.2V347.6M143.6 334.0V343.6M143.9 334.8V348.2M144.2 334.6V351.8M144.5 331.6V349.3M144.8 325.8V350.3M145.1 332.8V348.6M145.4 334.7V349.6M145.7 338.4V349.7M146.0 338.9V348.8M146.3 334.6V347.6M146.6 334.3V354.2M146.9 333.8V346.7M147.2 326.9V346.7M147.5 338.8V348.1M147.8 322.6V348.2M148.1 330.3V356.2M148.4 334.6V354.3M148.7 335.4V348.5M149.0 337.0V348.4M149.3 331.4V350.4M149.6 335.0V351.0M149.9 342.9V354.6M150.2 337.9V353.1M150.5 336.3V352.1M150.8 334.8V344.6M151.1 329.7V351.4M151.4 332.6V343.7M151.7 333.2V352.2M152.0 333.3V354.1M152.3 328.5V346.1M152.6 322.2V348.4M152.9 326.9V343.6M153.2 328.5V351.2M153.5 316.1V340.2M153.8 323.6V339.8M154.1 328.5V359.4M154.4 332.1V343.6M154.7 329.1V346.5M155.0 332.5V346.2M155.3 333.4V347.2M155.6 330.1V342.3M155.9 331.6V365.2M156.2 330.0V347.0M156.5 336.5V354.0M156.8 330.1V351.4M157.1 325.1V356.2M157.4 332.4V356.9M157.7 339.3V349.8M158.0 335.4V350.9M158.3 334.6V350.5M158.6 336.3V348.9M158.9 336.8V350.8M159.2 333.8V347.8M159.5 330.7V352.3M159.8 317.2V352.8M160.1 327.4V341.7M160.4 323.5V343.1M160.7 329.4V342.7M161.0 332.2V344.3M161.3 329.7V344.4M161.6 327.0V348.0M161.9 327.0V342.0M162.2 330.2V342.8M162.5 329.9V338.6M162.8 323.9V354.0M163.1 324.3V346.7M163.4 330.1V344.3M163.7 313.4V339.9M164.0 326.8V337.8M164.3 325.3V343.5M164.6 324.8V338.8M164.9 328.1V339.0M165.2 326.9V355.0M165.5 327.5V344.0M165.8 333.3V351.3M166.1 330.9V344.2M166.4 331.8V349.4M166.7 329.1V343.6M167.0 332.1V342.6M167.3 329.1V352.6M167.6 336.5V362.1M167.9 336.3V351.9M168.2 332.0V356.4M168.5 331.4V346.4M168.8 326.4V344.4M169.1 315.7V348.9M169.4 332.0V345.7M169.7 327.3V354.1M170.0 326.3V344.3M170.3 327.3V343.0M170.6 328.4V339.7M170.9 324.8V357.0M171.2 324.1V344.3M171.5 321.7V339.3M171.8 326.4V338.2M172.1 321.2V337.2M172.4 322.1V340.0M172.7 331.3V341.9M173.0 335.2V346.1M173.3 338.0V354.5M173.6 343.0V355.6M173.9 342.3V352.3M174.2 342.5V353.6M174.5 339.4V353.0M174.8 333.8V356.2M175.1 340.4V351.5M175.4 341.9V351.0M175.7 329.5V358.4M176.0 328.0V348.8M176.3 336.3V355.3M176.6 329.8V344.4M176.9 332.3V364.2M177.2 328.5V344.0M177.5 338.1V349.9M177.8 317.1V352.1M178.1 333.2V357.9M178.4 330.1V347.1M178.7 331.2V346.4M179.0 335.4V350.0M179.3 336.1V355.9M179.6 336.2V351.6M179.9 337.6V367.0M180.2 337.3V357.2M180.5 332.8V362.3M180.8 335.7V353.5M181.1 331.8V351.0M181.4 337.7V348.2M181.7 329.9V354.7M182.0 329.4V347.2M182.3 329.9V343.7M182.6 332.5V343.7M182.9 316.9V349.2M183.2 332.8V347.2M183.5 334.1V353.9M183.8 334.5V353.2M184.1 329.7V347.1M184.4 321.9V346.6M184.7 328.1V346.3M185.0 335.7V346.4M185.3 336.3V355.1M185.6 314.4V340.4M185.9 326.0V340.2M186.2 329.8V339.3M186.5 328.1V345.2M186.8 317.3V341.7M187.1 329.7V345.1M187.4 318.7V342.2M187.7 326.7V337.9M188.0 322.2V335.6M188.3 321.9V339.2M188.6 322.1V350.2M188.9 329.4V345.5M189.2 323.3V338.6M189.5 317.6V333.5M189.8 323.8V338.6M190.1 313.1V336.8M190.4 322.2V337.4M190.7 315.5V337.2M191.0 312.5V337.5M191.3 300.4V341.1M191.6 320.2V341.1M191.9 314.3V331.8M192.2 313.5V330.1M192.5 312.9V329.7M192.8 319.9V334.8M193.1 320.7V350.1M193.4 327.0V340.2M193.7 322.8V340.9M194.0 327.5V338.2M194.3 324.6V339.6M194.6 321.6V338.8M194.9 307.6V336.5M195.2 317.4V331.7M195.5 313.7V338.0M195.8 321.6V335.6M196.1 314.7V344.5M196.4 323.0V341.5M196.7 325.2V346.5M197.0 323.8V335.8M197.3 325.0V346.8M197.6 324.9V339.5M197.9 320.8V347.4M198.2 327.3V351.8M198.5 328.1V340.8M198.8 329.2V348.1M199.1 330.0V342.8M199.4 327.6V345.4M199.7 327.6V344.6M200.0 328.4V342.0M200.3 314.4V347.7M200.6 330.2V346.3M200.9 327.2V342.1M201.2 316.9V341.1M201.5 324.4V335.3M201.8 324.6V343.2M202.1 313.9V337.5M202.4 325.3V343.0M202.7 324.4V335.3M203.0 326.1V341.6M203.3 319.0V341.3M203.6 317.0V344.1M203.9 321.7V335.6M204.2 315.9V335.6M204.5 320.6V337.5M204.8 323.0V344.7M205.1 325.6V338.9M205.4 319.6V341.3M205.7 324.3V345.8M206.0 326.9V343.0M206.3 325.4V341.6M206.6 321.5V341.7M206.9 323.5V342.2M207.2 335.4V346.1M207.5 331.5V347.9M207.8 330.7V349.9M208.1 331.3V348.0M208.4 324.0V353.4M208.7 334.0V349.6M209.0 334.3V350.5M209.3 328.5V345.6M209.6 321.1V349.5M209.9 332.9V346.2M210.2 335.8V356.0M210.5 331.1V344.1M210.8 330.2V351.7M211.1 316.6V340.5M211.4 319.6V342.6M211.7 326.8V351.7M212.0 327.6V343.3M212.3 329.3V339.4M212.6 331.6V342.8M212.9 330.0V345.8M213.2 300.1V349.6M213.5 330.2V345.1M213.8 330.1V344.4M214.1 331.2V344.2M214.4 326.0V345.2M214.7 324.5V338.7M215.0 325.6V337.4M215.3 323.1V342.9M215.6 318.9V335.3M215.9 310.9V345.2M216.2 311.2V334.0M216.5 322.4V338.0M216.8 325.7V337.5M217.1 311.1V335.8M217.4 325.0V335.6M217.7 315.5V337.1M218.0 323.6V349.5M218.3 329.1V349.0M218.6 334.0V347.1M218.9 334.3V345.6M219.2 332.7V346.6M219.5 330.1V340.6M219.8 329.8V349.3M220.1 323.5V348.8M220.4 314.7V339.3M220.7 324.5V354.1M221.0 327.1V337.6M221.3 324.9V336.8M221.6 322.5V341.3M221.9 324.0V336.7M222.2 314.3V333.6M222.5 300.8V332.6M222.8 324.5V340.6M223.1 326.8V338.0M223.4 324.5V336.1M223.7 323.0V334.2M224.0 319.7V334.2M224.3 321.2V332.9M224.6 316.9V334.0M224.9 322.1V332.5M225.2 319.2V348.3M225.5 317.3V347.6M225.8 313.5V328.2M226.1 311.5V329.9M226.4 308.0V331.4M226.7 321.6V334.4M227.0 320.3V337.7M227.3 320.3V335.0M227.6 327.8V348.4M227.9 326.8V339.6M228.2 321.9V345.6M228.5 314.4V341.9M228.8 327.0V365.5M229.1 329.1V348.4M229.4 333.7V354.1M229.7 335.8V347.4M230.0 339.8V361.5M230.3 338.8V351.0M230.6 335.1V354.9M230.9 335.4V350.6M231.2 333.6V350.5M231.5 336.0V348.2M231.8 323.8V348.4M232.1 336.5V351.7M232.4 325.4V352.7M232.7 333.6V348.8M233.0 336.0V356.6M233.3 335.5V347.5M233.6 331.8V345.7M233.9 336.2V346.9M234.2 331.5V353.2M234.5 339.1V348.5M234.8 335.0V348.4M235.1 326.5V351.8M235.4 326.4V350.0M235.7 327.6V350.2M236.0 333.7V349.5M236.3 328.8V357.7M236.6 336.6V350.9M236.9 334.3V345.2M237.2 327.8V343.0M237.5 326.1V347.8M237.8 337.6V350.0M238.1 325.5V356.1M238.4 331.1V345.6M238.7 333.3V346.3M239.0 327.0V342.8M239.3 327.2V344.0M239.6 321.9V346.6M239.9 335.6V347.9M240.2 326.7V349.4M240.5 330.6V343.5M240.8 327.1V341.6M241.1 324.9V338.0M241.4 324.1V337.0M241.7 312.3V337.2M242.0 322.8V345.1M242.3 328.6V342.1M242.6 328.5V342.1M242.9 324.1V344.3M243.2 325.0V342.5M243.5 323.0V353.8M243.8 324.8V338.1M244.1 327.5V339.1M244.4 327.2V340.2M244.7 323.4V339.0M245.0 325.2V339.9M245.3 316.5V340.1M245.6 319.9V333.2M245.9 316.1V330.8M246.2 319.7V329.7M246.5 318.9V330.0M246.8 319.3V335.3M247.1 318.1V332.5M247.4 318.5V342.4M247.7 315.6V333.0M248.0 319.3V334.1M248.3 319.9V331.5M248.6 318.9V333.3M248.9 317.6V333.4M249.2 318.0V340.5M249.5 328.1V338.3M249.8 324.9V347.8M250.1 326.8V336.4M250.4 322.8V344.3M250.7 318.1V333.1M251.0 319.1V333.6M251.3 312.4V342.6M251.6 326.3V335.8M251.9 325.3V341.4M252.2 327.0V340.3M252.5 318.1V333.6M252.8 321.3V337.2M253.1 328.0V338.2M253.4 328.9V341.2M253.7 326.8V350.0M254.0 329.7V340.3M254.3 318.3V350.0M254.6 327.2V347.9M254.9 326.6V341.7M255.2 313.8V342.0M255.5 331.0V345.8M255.8 330.9V341.3M256.1 324.6V342.2M256.4 325.1V337.8M256.7 325.2V343.3M257.0 325.4V350.7M257.3 322.5V342.1M257.6 313.1V333.6M257.9 325.4V338.7M258.2 326.5V336.3M258.5 322.7V333.7M258.8 317.1V336.5M259.1 318.2V332.5M259.4 295.0V329.2M259.7 324.0V336.9M260.0 314.2V337.3M260.3 321.5V333.5M260.6 318.5V333.9M260.9 306.3V336.2M261.2 323.6V336.7M261.5 324.1V335.9M261.8 325.3V342.1M262.1 328.6V339.2M262.4 328.6V341.9M262.7 330.3V347.5M263.0 329.4V345.2M263.3 325.9V349.3M263.6 329.9V339.9M263.9 310.4V334.5M264.2 320.6V331.1M264.5 312.0V330.1M264.8 319.8V330.3M265.1 323.2V336.7M265.4 322.7V342.2M265.7 323.3V337.6M266.0 312.0V330.3M266.3 315.1V336.0M266.6 316.7V336.9M266.9 316.2V350.2M267.2 311.2V331.3M267.5 319.3V363.5M267.8 319.7V331.2M268.1 319.1V331.2M268.4 311.6V348.3M268.7 323.2V345.3M269.0 323.9V335.9M269.3 322.8V335.0M269.6 320.5V344.2M269.9 325.7V344.4M270.2 327.7V342.7M270.5 326.2V339.9M270.8 330.5V354.4M271.1 331.8V348.5M271.4 327.7V351.0M271.7 331.2V352.4M272.0 319.4V349.6M272.3 332.7V347.8M272.6 326.0V347.4M272.9 332.1V344.7M273.2 336.7V349.3M273.5 337.8V349.8M273.8 328.9V357.1M274.1 333.9V346.6M274.4 334.3V346.2M274.7 332.0V343.7M275.0 329.1V350.6M275.3 323.1V353.1" stroke="#c0287f" stroke-opacity="0.5" stroke-width="0.7" fill="none"/><path d="M43.1 294.2V299.8M43.4 292.6V298.9M43.7 290.9V296.2M44.0 287.8V295.6M44.3 289.2V296.0M44.6 287.9V297.2M44.9 287.6V295.6M45.2 289.2V297.9M45.5 293.5V299.4M45.8 295.6V302.6M46.1 294.8V301.9M46.4 297.1V305.7M46.7 296.0V303.2M47.0 296.5V304.3M47.3 296.8V304.7M47.6 300.1V307.1M47.9 298.2V307.6M48.2 299.5V307.6M48.5 296.6V307.4M48.8 297.6V305.7M49.1 298.6V306.0M49.4 294.6V302.8M49.7 297.3V306.6M50.0 303.7V313.2M50.3 307.4V317.2M50.6 308.3V314.1M50.9 306.3V316.1M51.2 306.7V316.4M51.5 311.4V319.1M51.8 312.0V319.2M52.1 311.4V319.2M52.4 310.1V318.2M52.7 314.5V324.3M53.0 314.6V322.5M53.3 319.4V327.1M53.6 316.9V322.4M53.9 315.0V319.5M54.2 312.5V319.1M54.5 314.0V320.4M54.8 316.0V324.3M55.1 315.2V324.8M55.4 319.0V329.1M55.7 317.3V324.0M56.0 317.6V324.4M56.3 317.2V324.2M56.6 321.5V328.7M56.9 322.7V331.7M57.2 323.9V330.3M57.5 326.1V331.2M57.8 327.8V334.6M58.1 333.4V338.4M58.4 330.0V340.8M58.7 333.2V341.2M59.0 328.5V335.9M59.3 324.9V332.4M59.6 320.9V327.3M59.9 317.9V325.3M60.2 315.9V324.8M60.5 312.0V321.2M60.8 311.3V318.5M61.1 309.2V316.4M61.4 310.0V317.0M61.7 306.6V315.1M62.0 304.5V313.0M62.3 308.6V318.6M62.6 309.1V318.4M62.9 310.3V320.8M63.2 309.2V315.3M63.5 311.0V317.3M63.8 313.2V323.2M64.1 313.0V323.1M64.4 315.5V322.1M64.7 315.8V326.1M65.0 319.5V324.9M65.3 316.6V325.1M65.6 318.0V326.5M65.9 319.9V329.9M66.2 322.3V329.1M66.5 320.3V327.1M66.8 317.8V325.9M67.1 315.4V323.9M67.4 315.0V321.7M67.7 316.2V322.4M68.0 316.3V323.5M68.3 318.4V325.3M68.6 317.5V325.5M68.9 317.6V323.6M69.2 312.6V321.2M69.5 310.4V318.6M69.8 312.4V319.4M70.1 308.6V319.3M70.4 306.2V315.3M70.7 305.2V316.0M71.0 310.4V317.6M71.3 311.4V318.1M71.6 310.1V317.2M71.9 311.5V317.0M72.2 313.5V322.3M72.5 316.9V324.4M72.8 313.0V321.1M73.1 314.2V320.4M73.4 316.2V324.9M73.7 317.8V325.8M74.0 313.8V324.5M74.3 313.7V320.5M74.6 312.4V319.6M74.9 314.9V320.0M75.2 314.0V321.0M75.5 310.4V321.8M75.8 308.8V317.9M76.1 314.4V323.5M76.4 314.9V321.8M76.7 313.0V321.5M77.0 313.2V322.3M77.3 314.0V322.2M77.6 319.0V325.5M77.9 318.2V324.0M78.2 318.0V325.2M78.5 314.9V321.9M78.8 314.7V323.7M79.1 314.0V321.9M79.4 316.4V325.1M79.7 319.1V325.4M80.0 317.4V325.5M80.3 323.0V328.8M80.6 322.6V326.7M80.9 323.6V330.4M81.2 321.3V329.1M81.5 322.1V331.1M81.8 323.3V330.0M82.1 322.5V330.1M82.4 320.4V327.2M82.7 321.1V327.6M83.0 321.3V330.7M83.3 322.7V328.5M83.6 322.1V332.2M83.9 322.2V328.6M84.2 319.1V329.6M84.5 320.1V327.4M84.8 321.9V327.9M85.1 322.4V330.3M85.4 321.9V330.5M85.7 320.7V325.8M86.0 321.0V328.6M86.3 324.9V332.2M86.6 330.4V338.5M86.9 329.5V334.6M87.2 322.7V330.1M87.5 323.7V332.5M87.8 322.9V332.5M88.1 325.9V333.3M88.4 327.6V333.2M88.7 326.0V333.4M89.0 323.9V331.5M89.3 323.7V330.7M89.6 318.6V325.1M89.9 316.7V325.8M90.2 319.3V326.4M90.5 317.6V326.1M90.8 322.2V327.7M91.1 322.2V327.9M91.4 317.6V323.4M91.7 314.5V321.8M92.0 313.8V322.3M92.3 317.7V325.3M92.6 319.5V326.8M92.9 316.3V324.2M93.2 315.1V322.2M93.5 317.8V324.2M93.8 316.9V324.5M94.1 316.0V322.7M94.4 315.9V323.8M94.7 315.0V321.7M95.0 317.2V324.6M95.3 316.6V326.2M95.6 318.6V324.4M95.9 316.8V325.7M96.2 314.6V324.6M96.5 312.2V322.4M96.8 306.1V315.8M97.1 306.9V314.3M97.4 305.3V311.6M97.7 307.4V315.1M98.0 306.5V314.4M98.3 309.1V316.7M98.6 310.7V318.5M98.9 308.5V318.6M99.2 308.8V317.1M99.5 314.4V319.6M99.8 318.2V324.1M100.1 316.8V328.0M100.4 316.5V322.7M100.7 312.8V320.9M101.0 315.8V321.3M101.3 316.6V322.2M101.6 316.3V324.0M101.9 316.3V324.0M102.2 317.8V327.0M102.5 315.9V321.9M102.8 313.2V322.8M103.1 314.9V322.8M103.4 319.3V328.2M103.7 316.4V324.4M104.0 316.7V325.4M104.3 313.8V321.9M104.6 315.9V323.0M104.9 315.0V327.1M105.2 315.9V323.1M105.5 316.2V324.8M105.8 316.4V328.0M106.1 318.2V325.3M106.4 316.9V322.2M106.7 319.3V326.1M107.0 321.5V328.4M107.3 319.0V328.2M107.6 320.9V328.7M107.9 319.8V329.3M108.2 321.4V328.8M108.5 325.6V333.5M108.8 327.8V333.9M109.1 329.8V336.4M109.4 331.1V337.2M109.7 328.8V337.0M110.0 325.6V332.3M110.3 325.6V334.0M110.6 324.9V332.3M110.9 326.8V335.6M111.2 325.5V331.9M111.5 324.8V330.5M111.8 325.1V332.5M112.1 326.2V334.6M112.4 323.8V332.6M112.7 330.0V335.6M113.0 327.0V335.8M113.3 326.3V333.7M113.6 322.7V330.7M113.9 321.0V329.9M114.2 322.0V331.5M114.5 319.1V327.9M114.8 318.0V325.0M115.1 318.6V325.5M115.4 321.8V330.2M115.7 319.7V328.7M116.0 318.8V327.8M116.3 318.8V327.6M116.6 322.8V329.5M116.9 323.2V330.2M117.2 324.5V331.7M117.5 325.7V334.2M117.8 324.4V333.5M118.1 324.8V331.3M118.4 324.9V329.6M118.7 326.7V334.3M119.0 324.9V331.6M119.3 322.2V331.0M119.6 322.7V333.1M119.9 325.0V332.6M120.2 324.0V332.8M120.5 323.3V332.7M120.8 322.0V328.4M121.1 320.8V327.7M121.4 321.2V329.0M121.7 317.5V325.3M122.0 315.7V324.7M122.3 311.3V318.2M122.6 309.2V316.4M122.9 308.6V317.5M123.2 308.6V315.4M123.5 311.9V318.6M123.8 311.6V317.8M124.1 314.0V324.7M124.4 314.9V320.5M124.7 314.8V320.1M125.0 316.9V322.9M125.3 316.8V327.7M125.6 315.6V321.3M125.9 317.1V323.1M126.2 315.5V323.2M126.5 315.0V323.8M126.8 317.4V324.7M127.1 316.8V322.0M127.4 319.1V325.1M127.7 319.8V324.8M128.0 320.2V325.9M128.3 316.2V325.3M128.6 314.7V320.9M128.9 318.0V323.9M129.2 316.4V322.4M129.5 314.7V322.6M129.8 314.7V324.2M130.1 314.6V323.4M130.4 315.5V325.8M130.7 317.9V325.4M131.0 315.3V323.7M131.3 318.6V324.9M131.6 321.7V330.1M131.9 321.6V329.6M132.2 318.5V328.0M132.5 319.1V327.1M132.8 322.1V330.0M133.1 321.9V330.7M133.4 320.7V328.2M133.7 319.9V326.0M134.0 324.6V330.6M134.3 324.1V329.9M134.6 321.0V328.7M134.9 320.3V327.7M135.2 322.4V330.8M135.5 323.0V331.0M135.8 324.7V332.9M136.1 319.7V328.7M136.4 320.1V328.0M136.7 321.3V328.1M137.0 320.9V329.8M137.3 320.1V330.9M137.6 318.9V327.7M137.9 313.7V320.9M138.2 313.6V323.2M138.5 316.5V326.3M138.8 318.1V326.4M139.1 319.3V326.9M139.4 316.5V324.5M139.7 317.9V325.1M140.0 316.9V324.9M140.3 318.6V325.6M140.6 319.8V326.9M140.9 317.6V329.0M141.2 319.0V325.8M141.5 319.5V326.7M141.8 321.3V331.1M142.1 326.7V332.8M142.4 328.4V337.4M142.7 329.7V338.3M143.0 331.5V340.9M143.3 337.1V341.7M143.6 335.6V340.8M143.9 337.2V344.9M144.2 339.3V346.1M144.5 340.9V348.9M144.8 340.5V347.1M145.1 337.2V346.7M145.4 339.5V346.3M145.7 338.1V346.4M146.0 339.6V346.9M146.3 336.6V346.4M146.6 338.7V346.6M146.9 337.7V346.0M147.2 336.0V344.4M147.5 339.2V346.6M147.8 337.7V349.1M148.1 340.2V347.7M148.4 339.5V346.8M148.7 338.9V347.3M149.0 336.7V346.1M149.3 338.5V344.7M149.6 335.5V344.6M149.9 343.5V350.4M150.2 338.6V349.3M150.5 338.8V347.1M150.8 335.3V342.3M151.1 335.3V345.0M151.4 333.2V342.5M151.7 336.5V343.3M152.0 337.1V344.9M152.3 333.5V340.4M152.6 330.6V340.0M152.9 329.5V336.5M153.2 329.6V337.1M153.5 330.1V337.6M153.8 331.1V338.0M154.1 331.8V340.2M154.4 334.7V341.8M154.7 329.8V337.5M155.0 332.2V341.2M155.3 335.1V341.9M155.6 334.9V340.1M155.9 332.7V341.7M156.2 334.3V343.4M156.5 337.3V344.4M156.8 337.9V347.2M157.1 338.3V346.3M157.4 339.4V346.6M157.7 338.9V347.9M158.0 337.2V343.0M158.3 337.9V344.1M158.6 340.8V348.5M158.9 339.6V348.5M159.2 337.3V346.3M159.5 333.9V340.2M159.8 334.9V340.9M160.1 333.1V339.6M160.4 329.8V338.4M160.7 332.1V339.2M161.0 331.5V340.9M161.3 330.4V336.9M161.6 330.6V338.1M161.9 326.9V336.2M162.2 331.0V340.3M162.5 328.6V339.6M162.8 326.0V333.7M163.1 330.8V339.3M163.4 329.7V336.9M163.7 329.0V334.6M164.0 329.1V336.4M164.3 330.8V339.4M164.6 327.4V337.6M164.9 329.2V339.1M165.2 328.3V336.4M165.5 330.3V336.5M165.8 334.0V343.5M166.1 333.5V339.6M166.4 334.7V342.7M166.7 330.6V340.3M167.0 335.2V342.3M167.3 337.0V343.0M167.6 336.5V345.4M167.9 336.1V344.4M168.2 335.0V343.7M168.5 336.5V344.5M168.8 335.7V342.9M169.1 335.4V343.1M169.4 336.8V345.3M169.7 333.8V342.4M170.0 332.9V340.5M170.3 331.0V339.5M170.6 327.2V336.6M170.9 331.6V340.2M171.2 327.2V338.5M171.5 330.3V338.3M171.8 329.1V335.9M172.1 328.3V335.8M172.4 330.4V337.8M172.7 333.1V338.9M173.0 335.7V343.0M173.3 337.7V345.9M173.6 343.0V352.6M173.9 344.9V351.3M174.2 342.9V350.0M174.5 342.1V350.6M174.8 342.2V349.0M175.1 343.1V352.7M175.4 342.8V351.1M175.7 339.1V347.5M176.0 335.5V343.4M176.3 336.0V343.6M176.6 334.4V342.5M176.9 336.0V345.8M177.2 335.2V341.7M177.5 337.7V346.3M177.8 338.6V345.6M178.1 336.7V346.4M178.4 336.7V343.2M178.7 339.3V345.3M179.0 337.9V345.5M179.3 338.7V344.9M179.6 339.4V347.4M179.9 342.4V348.2M180.2 341.3V349.5M180.5 341.0V348.4M180.8 336.5V342.8M181.1 340.6V346.2M181.4 340.0V344.9M181.7 334.8V344.8M182.0 335.6V340.7M182.3 333.5V343.2M182.6 333.6V339.8M182.9 332.6V344.7M183.2 337.5V342.7M183.5 335.3V341.7M183.8 335.0V343.5M184.1 334.8V342.8M184.4 334.3V342.7M184.7 336.9V344.6M185.0 336.9V344.7M185.3 336.2V343.0M185.6 331.8V339.2M185.9 330.1V337.6M186.2 330.5V337.9M186.5 333.6V338.7M186.8 330.1V341.4M187.1 331.6V338.6M187.4 330.2V335.7M187.7 328.5V336.1M188.0 327.0V335.4M188.3 331.1V336.2M188.6 331.4V338.9M188.9 331.1V336.3M189.2 325.4V332.7M189.5 324.7V329.8M189.8 326.1V332.2M190.1 327.4V334.3M190.4 324.6V332.0M190.7 323.0V333.4M191.0 320.7V328.9M191.3 323.2V329.3M191.6 323.6V330.2M191.9 321.5V329.8M192.2 321.2V327.4M192.5 318.8V328.4M192.8 320.8V326.6M193.1 324.4V331.0M193.4 327.5V336.1M193.7 332.4V337.4M194.0 325.6V334.3M194.3 326.6V333.3M194.6 323.6V331.5M194.9 326.0V332.6M195.2 323.1V329.5M195.5 322.3V329.8M195.8 324.2V330.9M196.1 325.3V333.0M196.4 324.3V333.9M196.7 327.1V336.1M197.0 325.6V335.0M197.3 325.3V332.7M197.6 325.5V332.9M197.9 327.1V333.1M198.2 328.2V333.9M198.5 329.7V338.2M198.8 332.9V342.4M199.1 331.8V338.4M199.4 333.5V340.2M199.7 329.5V338.0M200.0 331.1V337.5M200.3 332.9V339.5M200.6 333.1V339.3M200.9 331.8V338.9M201.2 329.6V337.4M201.5 327.6V332.9M201.8 329.2V336.3M202.1 328.6V335.5M202.4 326.0V333.1M202.7 327.9V332.5M203.0 324.7V334.7M203.3 326.8V332.8M203.6 327.1V334.5M203.9 327.3V333.4M204.2 326.0V332.8M204.5 326.9V335.8M204.8 324.2V332.2M205.1 329.0V334.9M205.4 329.3V336.2M205.7 329.5V334.4M206.0 326.8V333.9M206.3 331.7V337.5M206.6 331.9V340.6M206.9 333.1V340.2M207.2 337.4V344.0M207.5 339.2V344.3M207.8 338.9V346.9M208.1 337.5V345.2M208.4 338.6V344.4M208.7 337.9V345.0M209.0 336.3V343.8M209.3 334.1V343.7M209.6 336.4V345.8M209.9 336.6V344.4M210.2 337.9V344.3M210.5 333.9V343.4M210.8 332.3V338.9M211.1 331.5V338.8M211.4 330.8V337.5M211.7 334.2V343.8M212.0 334.0V341.7M212.3 330.3V338.0M212.6 332.8V340.6M212.9 338.2V344.6M213.2 338.7V346.9M213.5 334.5V344.0M213.8 333.7V340.9M214.1 331.7V340.5M214.4 332.2V338.3M214.7 330.8V338.8M215.0 328.1V334.7M215.3 330.0V334.2M215.6 322.8V331.8M215.9 322.5V331.0M216.2 323.9V332.0M216.5 326.3V333.4M216.8 329.5V335.9M217.1 324.4V329.6M217.4 326.2V335.2M217.7 327.9V334.4M218.0 330.9V336.9M218.3 329.6V337.6M218.6 335.0V344.3M218.9 334.9V342.5M219.2 335.9V340.7M219.5 331.6V339.0M219.8 330.2V338.7M220.1 329.5V336.8M220.4 330.9V339.0M220.7 327.9V335.8M221.0 327.4V334.1M221.3 327.8V333.4M221.6 326.9V332.5M221.9 326.8V334.9M222.2 324.1V330.9M222.5 324.4V331.1M222.8 325.1V334.9M223.1 327.3V336.6M223.4 326.0V332.7M223.7 323.7V334.8M224.0 323.7V334.2M224.3 322.7V330.0M224.6 321.2V328.7M224.9 321.8V329.8M225.2 323.2V331.8M225.5 320.7V328.8M225.8 319.7V325.9M226.1 316.0V326.6M226.4 320.9V329.2M226.7 319.4V329.8M227.0 322.2V330.5M227.3 326.4V334.2M227.6 328.9V338.7M227.9 330.3V339.7M228.2 335.6V340.9M228.5 330.6V339.6M228.8 336.7V342.7M229.1 336.3V341.4M229.4 335.8V346.0M229.7 336.9V343.3M230.0 339.2V348.5M230.3 342.0V349.0M230.6 341.3V347.0M230.9 340.0V349.9M231.2 336.9V345.6M231.5 337.3V344.7M231.8 336.6V343.9M232.1 337.7V346.0M232.4 337.5V345.9M232.7 335.7V342.6M233.0 335.9V348.3M233.3 336.2V343.5M233.6 335.8V345.4M233.9 338.2V344.3M234.2 340.6V350.0M234.5 340.6V348.4M234.8 338.5V345.7M235.1 336.1V342.3M235.4 333.7V342.3M235.7 334.6V339.3M236.0 335.1V344.4M236.3 335.8V344.2M236.6 340.8V345.7M236.9 336.6V342.0M237.2 333.8V342.2M237.5 338.2V343.7M237.8 338.0V345.8M238.1 336.9V343.0M238.4 335.6V345.4M238.7 336.5V343.9M239.0 331.3V342.3M239.3 334.8V344.8M239.6 334.7V342.5M239.9 337.3V343.5M240.2 334.5V343.2M240.5 333.8V339.7M240.8 332.5V339.0M241.1 329.2V338.8M241.4 327.1V335.3M241.7 326.6V336.4M242.0 332.4V337.8M242.3 328.7V337.2M242.6 328.7V338.7M242.9 327.9V337.0M243.2 329.0V335.3M243.5 329.7V335.9M243.8 326.4V333.3M244.1 328.4V334.3M244.4 328.4V337.3M244.7 327.3V335.0M245.0 326.0V333.5M245.3 323.9V332.4M245.6 322.2V330.6M245.9 321.1V328.3M246.2 320.9V327.8M246.5 320.5V328.5M246.8 322.1V328.6M247.1 319.5V327.5M247.4 317.2V327.5M247.7 322.1V327.4M248.0 319.3V326.8M248.3 322.3V329.4M248.6 322.8V331.6M248.9 321.2V331.3M249.2 329.6V334.3M249.5 329.3V335.8M249.8 329.0V336.2M250.1 328.5V335.6M250.4 325.0V334.4M250.7 321.9V328.5M251.0 323.3V332.5M251.3 325.0V333.2M251.6 328.2V334.7M251.9 325.0V332.9M252.2 328.1V334.6M252.5 324.8V334.7M252.8 326.2V332.6M253.1 327.3V337.3M253.4 330.2V336.1M253.7 332.3V340.0M254.0 330.1V338.6M254.3 333.2V339.9M254.6 331.8V339.6M254.9 330.1V338.5M255.2 327.7V335.7M255.5 333.0V340.1M255.8 332.2V341.2M256.1 330.5V339.4M256.4 327.3V334.7M256.7 325.5V334.3M257.0 325.3V334.3M257.3 326.6V332.8M257.6 325.1V332.7M257.9 328.5V335.1M258.2 326.2V334.5M258.5 323.0V330.6M258.8 319.0V324.7M259.1 318.4V326.9M259.4 319.7V327.5M259.7 325.5V331.4M260.0 323.9V333.8M260.3 323.6V330.5M260.6 321.9V331.8M260.9 326.1V333.4M261.2 326.5V332.6M261.5 328.0V333.3M261.8 329.8V334.8M262.1 331.1V336.9M262.4 334.1V341.8M262.7 332.9V340.1M263.0 333.4V340.0M263.3 332.5V341.7M263.6 328.7V337.4M263.9 326.6V333.0M264.2 323.3V328.3M264.5 319.9V330.3M264.8 321.9V327.1M265.1 323.1V330.5M265.4 324.1V334.8M265.7 325.1V332.0M266.0 319.6V327.4M266.3 316.9V324.1M266.6 319.5V329.2M266.9 323.5V329.5M267.2 320.2V327.9M267.5 322.9V329.5M267.8 319.6V328.4M268.1 322.2V328.0M268.4 323.2V331.7M268.7 323.5V332.0M269.0 326.1V331.3M269.3 322.9V332.4M269.6 328.6V333.5M269.9 328.4V336.2M270.2 329.5V338.7M270.5 331.0V338.9M270.8 332.3V340.9M271.1 335.6V342.4M271.4 336.3V342.2M271.7 332.8V341.7M272.0 337.8V344.7M272.3 336.9V344.6M272.6 340.2V348.4M272.9 336.5V344.8M273.2 338.7V344.8M273.5 342.1V347.7M273.8 339.5V346.5M274.1 338.0V344.8M274.4 335.0V343.4M274.7 336.0V341.1M275.0 333.7V340.5M275.3 329.9V336.5" stroke="#c0287f" stroke-width="0.7" fill="none"/>
<path d="M43.1 283.9V296.4M43.4 282.5V293.0M43.7 284.0V299.7M44.0 280.8V301.4M44.3 284.3V298.7M44.6 283.6V306.0M44.9 283.9V293.5M45.2 281.5V304.5M45.5 276.4V298.7M45.8 284.8V305.5M46.1 286.6V300.6M46.4 290.7V306.7M46.7 292.7V306.1M47.0 284.4V307.2M47.3 290.6V306.2M47.6 292.0V308.9M47.9 290.7V313.2M48.2 300.8V319.3M48.5 301.2V315.2M48.8 295.3V308.5M49.1 299.6V310.6M49.4 298.0V320.4M49.7 286.7V307.6M50.0 293.8V308.3M50.3 298.1V310.8M50.6 296.8V313.2M50.9 289.8V312.7M51.2 298.1V323.3M51.5 304.4V315.5M51.8 298.7V318.6M52.1 299.7V318.6M52.4 308.3V328.3M52.7 309.0V322.3M53.0 312.7V327.1M53.3 308.6V350.9M53.6 319.7V331.8M53.9 324.1V336.0M54.2 316.4V347.7M54.5 329.0V342.0M54.8 331.2V344.9M55.1 322.8V347.0M55.4 329.5V344.2M55.7 325.5V344.3M56.0 329.0V351.0M56.3 328.2V343.4M56.6 334.1V356.2M56.9 337.8V349.4M57.2 336.9V355.1M57.5 341.1V368.7M57.8 340.9V351.1M58.1 339.6V354.7M58.4 341.3V354.1M58.7 344.2V365.5M59.0 348.4V360.1M59.3 346.3V358.0M59.6 345.0V360.7M59.9 328.4V366.5M60.2 349.7V364.5M60.5 346.8V362.7M60.8 341.5V365.2M61.1 353.9V368.0M61.4 350.3V366.9M61.7 357.5V370.7M62.0 339.7V362.5M62.3 353.6V383.3M62.6 345.1V374.7M62.9 351.2V366.9M63.2 360.8V376.0M63.5 361.2V378.3M63.8 365.8V375.5M64.1 367.9V380.6M64.4 370.0V380.6M64.7 368.8V394.7M65.0 371.0V396.5M65.3 358.9V388.3M65.6 372.7V396.8M65.9 341.9V401.0M66.2 363.1V379.9M66.5 363.1V383.3M66.8 366.9V382.0M67.1 370.0V384.3M67.4 365.9V384.0M67.7 365.7V380.8M68.0 363.0V386.4M68.3 361.4V392.9M68.6 361.4V386.0M68.9 372.5V386.5M69.2 372.6V384.0M69.5 368.4V387.7M69.8 376.9V389.1M70.1 364.1V388.4M70.4 369.6V388.5M70.7 380.2V393.5M71.0 380.2V390.4M71.3 379.7V398.9M71.6 378.0V395.4M71.9 376.9V392.4M72.2 380.7V391.9M72.5 376.1V392.4M72.8 372.2V393.0M73.1 378.9V393.3M73.4 380.9V394.8M73.7 382.2V392.6M74.0 381.8V412.8M74.3 371.1V394.5M74.6 377.7V395.3M74.9 376.3V395.1M75.2 376.7V395.3M75.5 381.9V395.2M75.8 378.5V393.4M76.1 381.2V393.3M76.4 373.7V397.1M76.7 381.8V401.4M77.0 384.1V409.0M77.3 383.6V395.5M77.6 384.9V399.8M77.9 377.7V402.6M78.2 389.8V405.0M78.5 394.8V404.9M78.8 391.2V413.7M79.1 388.6V414.0M79.4 393.7V403.8M79.7 387.3V401.4M80.0 388.8V400.8M80.3 384.1V401.7M80.6 380.8V412.9M80.9 389.6V411.2M81.2 391.7V408.5M81.5 383.5V402.9M81.8 390.7V400.0M82.1 380.6V398.4M82.4 387.0V399.0M82.7 387.7V401.0M83.0 383.6V406.4M83.3 390.2V399.4M83.6 384.3V405.1M83.9 385.8V398.4M84.2 382.6V399.9M84.5 393.1V411.8M84.8 394.9V407.7M85.1 396.0V415.6M85.4 395.9V410.2M85.7 390.2V411.0M86.0 403.5V420.1M86.3 393.9V417.1M86.6 404.7V420.1M86.9 384.7V412.3M87.2 403.6V419.4M87.5 405.0V418.8M87.8 404.0V425.4M88.1 407.2V422.8M88.4 400.9V415.9M88.7 395.6V414.5M89.0 398.2V423.5M89.3 396.1V407.2M89.6 395.6V410.9M89.9 392.2V413.1M90.2 387.9V405.2M90.5 389.6V422.1M90.8 383.2V405.8M91.1 395.6V404.1M91.4 393.3V410.6M91.7 382.1V408.5M92.0 376.0V405.0M92.3 386.0V408.7M92.6 395.9V413.4M92.9 388.2V411.1M93.2 390.4V404.7M93.5 384.3V407.0M93.8 392.8V403.1M94.1 392.4V403.5M94.4 383.1V402.8M94.7 390.7V400.4M95.0 393.0V408.8M95.3 378.9V407.5M95.6 396.0V417.2M95.9 406.3V416.1M96.2 405.8V418.5M96.5 398.7V425.6M96.8 399.1V409.3M97.1 395.8V418.8M97.4 398.9V414.0M97.7 395.4V423.2M98.0 395.6V409.8M98.3 396.9V410.8M98.6 385.0V407.4M98.9 392.6V412.7M99.2 397.9V408.3M99.5 400.0V414.3M99.8 396.3V411.4M100.1 400.7V414.1M100.4 396.6V410.2M100.7 386.8V412.7M101.0 389.7V408.7M101.3 384.7V411.7M101.6 399.6V411.7M101.9 400.3V411.7M102.2 400.7V411.0M102.5 387.2V409.6M102.8 402.6V416.4M103.1 402.8V422.5M103.4 391.4V422.4M103.7 399.9V427.3M104.0 397.6V414.0M104.3 396.8V423.8M104.6 402.8V419.9M104.9 394.1V430.1M105.2 395.6V419.7M105.5 403.3V412.9M105.8 395.1V413.4M106.1 403.9V418.5M106.4 399.6V409.0M106.7 394.8V419.1M107.0 385.0V413.9M107.3 398.6V414.8M107.6 399.8V425.9M107.9 401.2V411.3M108.2 399.5V411.6M108.5 402.7V418.3M108.8 401.8V414.1M109.1 400.9V412.2M109.4 397.7V417.6M109.7 394.8V418.2M110.0 398.4V408.5M110.3 389.1V411.7M110.6 372.0V403.5M110.9 393.0V404.9M111.2 391.9V407.2M111.5 387.7V404.2M111.8 390.2V404.3M112.1 386.8V408.0M112.4 398.4V410.5M112.7 395.4V414.5M113.0 392.9V403.1M113.3 388.8V409.1M113.6 383.3V400.0M113.9 389.2V401.1M114.2 387.7V408.2M114.5 388.0V404.5M114.8 385.3V422.8M115.1 395.4V407.6M115.4 395.0V416.8M115.7 385.4V424.0M116.0 389.1V409.5M116.3 398.9V411.4M116.6 400.8V428.3M116.9 404.5V420.6M117.2 395.9V417.0M117.5 393.2V418.3M117.8 403.1V414.4M118.1 399.1V422.6M118.4 403.1V417.4M118.7 403.7V422.0M119.0 387.1V412.2M119.3 400.8V423.0M119.6 399.6V413.1M119.9 396.4V413.3M120.2 400.4V419.3M120.5 403.8V416.3M120.8 403.6V422.6M121.1 405.5V419.0M121.4 405.7V423.2M121.7 404.5V419.1M122.0 393.6V415.3M122.3 383.5V422.5M122.6 394.0V421.1M122.9 399.3V408.5M123.2 394.9V411.2M123.5 397.3V407.6M123.8 381.1V415.0M124.1 403.9V421.1M124.4 403.6V418.8M124.7 403.4V415.2M125.0 398.6V409.5M125.3 393.2V412.5M125.6 394.1V406.9M125.9 399.7V411.6M126.2 395.3V417.5M126.5 391.2V403.5M126.8 377.7V402.4M127.1 383.6V399.9M127.4 386.3V412.7M127.7 386.3V412.5M128.0 379.9V401.6M128.3 388.9V405.6M128.6 387.4V398.0M128.9 389.4V405.0M129.2 392.8V405.8M129.5 392.3V407.4M129.8 380.1V405.4M130.1 389.5V402.3M130.4 390.6V408.2M130.7 384.0V398.6M131.0 383.7V416.3M131.3 382.4V399.8M131.6 381.7V401.2M131.9 385.6V404.5M132.2 380.2V416.1M132.5 389.2V400.9M132.8 391.0V417.2M133.1 397.2V408.1M133.4 397.5V413.0M133.7 399.9V412.4M134.0 397.2V409.9M134.3 395.0V409.1M134.6 379.8V407.4M134.9 396.9V411.6M135.2 391.9V403.9M135.5 396.1V411.7M135.8 393.0V410.9M136.1 395.9V419.2M136.4 395.0V418.7M136.7 387.5V412.5M137.0 392.9V425.7M137.3 388.1V404.4M137.6 382.2V404.4M137.9 379.6V411.8M138.2 388.8V415.6M138.5 386.2V398.3M138.8 378.3V403.0M139.1 393.6V404.9M139.4 393.4V402.3M139.7 390.0V402.7M140.0 381.0V399.2M140.3 380.5V392.5M140.6 367.9V394.6M140.9 384.3V393.0M141.2 382.8V407.2M141.5 386.7V400.5M141.8 382.2V399.7M142.1 379.1V389.7M142.4 364.0V396.4M142.7 379.2V397.1M143.0 383.7V415.9M143.3 381.3V395.0M143.6 378.0V404.5M143.9 375.8V390.5M144.2 355.3V397.6M144.5 377.8V395.1M144.8 384.1V402.6M145.1 392.9V409.2M145.4 396.4V407.0M145.7 374.4V404.7M146.0 390.7V404.1M146.3 383.5V402.4M146.6 386.3V406.1M146.9 386.1V402.8M147.2 389.2V399.3M147.5 393.1V404.2M147.8 387.6V402.7M148.1 393.2V412.5M148.4 391.7V403.9M148.7 379.3V402.5M149.0 381.2V414.2M149.3 383.0V404.5M149.6 390.3V400.7M149.9 397.0V407.9M150.2 384.4V431.2M150.5 393.9V402.7M150.8 379.6V406.7M151.1 381.8V405.1M151.4 391.4V411.7M151.7 394.5V411.9M152.0 391.5V405.7M152.3 395.0V408.1M152.6 392.6V410.5M152.9 392.3V406.6M153.2 388.2V412.7M153.5 396.9V421.8M153.8 400.9V411.4M154.1 397.7V422.5M154.4 407.7V419.3M154.7 406.4V418.3M155.0 402.8V419.0M155.3 402.4V428.9M155.6 407.2V423.0M155.9 405.4V423.7M156.2 403.9V426.7M156.5 404.1V417.4M156.8 373.3V417.0M157.1 406.6V424.5M157.4 398.4V414.6M157.7 394.1V413.4M158.0 404.6V420.5M158.3 404.3V420.4M158.6 396.2V415.8M158.9 400.9V417.2M159.2 400.3V421.8M159.5 398.4V415.3M159.8 401.7V413.7M160.1 394.1V409.4M160.4 399.3V416.3M160.7 394.8V413.4M161.0 397.5V409.8M161.3 389.6V410.3M161.6 396.6V409.6M161.9 392.8V408.5M162.2 393.6V410.1M162.5 393.1V405.0M162.8 390.4V404.7M163.1 393.2V403.8M163.4 390.4V402.8M163.7 388.9V421.4M164.0 394.7V416.1M164.3 388.2V411.7M164.6 387.8V401.8M164.9 390.3V407.7M165.2 385.0V403.4M165.5 388.3V403.8M165.8 384.0V416.0M166.1 384.2V403.3M166.4 394.1V404.0M166.7 385.1V405.1M167.0 390.3V405.3M167.3 384.2V404.6M167.6 384.3V406.6M167.9 393.6V403.1M168.2 385.0V418.9M168.5 384.2V399.0M168.8 381.6V398.4M169.1 392.5V415.2M169.4 384.6V405.4M169.7 388.4V401.9M170.0 384.5V404.4M170.3 382.1V396.8M170.6 378.0V397.7M170.9 388.3V409.1M171.2 390.9V404.8M171.5 386.6V412.8M171.8 388.3V400.8M172.1 386.7V400.2M172.4 375.6V393.8M172.7 383.2V410.5M173.0 384.1V394.9M173.3 385.8V406.5M173.6 387.2V426.1M173.9 389.1V400.6M174.2 386.5V404.1M174.5 391.0V400.3M174.8 393.4V408.1M175.1 393.2V411.8M175.4 393.9V411.8M175.7 394.7V407.6M176.0 389.4V408.8M176.3 392.1V406.5M176.6 391.4V401.2M176.9 393.2V404.1M177.2 390.0V410.4M177.5 389.6V420.5M177.8 399.9V412.7M178.1 402.1V412.4M178.4 398.4V412.2M178.7 369.6V411.3M179.0 390.9V418.2M179.3 392.5V427.9M179.6 399.8V410.1M179.9 396.9V409.3M180.2 395.6V411.3M180.5 400.9V412.1M180.8 392.8V410.8M181.1 392.4V406.6M181.4 397.4V411.0M181.7 400.8V415.7M182.0 395.6V413.6M182.3 386.6V413.0M182.6 396.8V410.3M182.9 392.9V405.5M183.2 394.5V407.8M183.5 395.9V409.9M183.8 389.9V410.3M184.1 399.2V419.8M184.4 397.9V409.7M184.7 394.0V422.6M185.0 395.7V406.4M185.3 391.2V423.6M185.6 399.9V412.8M185.9 398.5V408.3M186.2 389.4V407.6M186.5 391.1V403.4M186.8 394.9V405.9M187.1 389.7V407.1M187.4 391.2V413.2M187.7 394.5V405.3M188.0 393.6V407.1M188.3 389.1V430.0M188.6 389.8V414.7M188.9 393.8V405.0M189.2 394.9V407.0M189.5 395.7V406.3M189.8 392.3V406.2M190.1 400.0V412.6M190.4 395.2V412.1M190.7 399.8V411.6M191.0 391.3V411.4M191.3 398.3V411.9M191.6 399.7V409.8M191.9 397.5V418.4M192.2 395.0V407.9M192.5 393.9V407.6M192.8 377.6V407.1M193.1 379.0V405.1M193.4 384.9V400.0M193.7 382.7V400.5M194.0 381.7V400.3M194.3 390.7V404.5M194.6 386.5V399.3M194.9 385.0V404.4M195.2 377.0V402.7M195.5 376.7V403.2M195.8 393.8V406.4M196.1 389.8V410.6M196.4 383.5V415.1M196.7 383.8V405.4M197.0 394.3V414.2M197.3 376.3V412.1M197.6 395.7V407.6M197.9 395.6V406.5M198.2 396.5V409.9M198.5 389.4V408.1M198.8 393.2V404.2M199.1 391.9V406.9M199.4 398.6V417.9M199.7 396.7V420.6M200.0 397.1V405.8M200.3 395.1V427.9M200.6 393.3V407.8M200.9 395.6V425.9M201.2 398.8V411.4M201.5 401.4V413.0M201.8 393.9V413.9M202.1 400.4V421.6M202.4 397.2V410.4M202.7 397.3V408.1M203.0 380.8V407.4M203.3 392.0V409.6M203.6 392.4V404.6M203.9 395.5V416.5M204.2 401.3V410.7M204.5 389.7V419.5M204.8 391.5V410.7M205.1 386.3V416.2M205.4 397.2V417.6M205.7 398.1V414.9M206.0 398.9V409.9M206.3 392.8V416.2M206.6 399.9V426.2M206.9 397.8V419.8M207.2 396.6V414.8M207.5 390.4V411.2M207.8 383.8V408.6M208.1 386.5V418.8M208.4 374.9V408.0M208.7 388.3V408.6M209.0 396.8V420.7M209.3 392.7V418.4M209.6 394.8V406.6M209.9 386.7V402.8M210.2 389.2V404.7M210.5 392.1V416.1M210.8 398.3V414.3M211.1 392.3V405.7M211.4 382.5V406.9M211.7 395.0V406.7M212.0 396.0V409.0M212.3 395.9V423.0M212.6 389.8V412.7M212.9 398.6V409.9M213.2 390.6V411.1M213.5 393.7V405.1M213.8 391.3V404.6M214.1 394.8V408.8M214.4 400.6V415.9M214.7 391.5V421.6M215.0 391.8V407.3M215.3 392.0V409.9M215.6 396.1V407.9M215.9 393.4V412.5M216.2 388.5V418.5M216.5 377.1V404.9M216.8 392.3V405.6M217.1 388.9V424.6M217.4 388.1V398.6M217.7 389.2V400.1M218.0 385.8V401.2M218.3 387.9V400.0M218.6 362.8V399.9M218.9 363.3V402.1M219.2 390.3V400.9M219.5 380.6V412.6M219.8 387.0V401.8M220.1 390.6V400.1M220.4 389.1V402.6M220.7 388.3V406.9M221.0 387.4V402.6M221.3 372.5V400.5M221.6 388.3V399.0M221.9 383.3V398.9M222.2 387.1V403.3M222.5 384.0V398.3M222.8 388.1V400.0M223.1 382.6V401.3M223.4 388.2V398.2M223.7 389.7V399.9M224.0 388.3V399.1M224.3 389.0V399.1M224.6 387.6V400.1M224.9 386.9V404.4M225.2 391.7V402.6M225.5 387.6V403.6M225.8 385.6V398.8M226.1 388.8V412.5M226.4 380.2V400.6M226.7 394.1V409.6M227.0 388.8V415.8M227.3 399.8V410.0M227.6 400.3V420.7M227.9 397.9V411.0M228.2 399.8V409.8M228.5 399.7V410.0M228.8 383.0V411.8M229.1 385.1V411.7M229.4 394.3V405.1M229.7 393.9V417.3M230.0 382.9V406.6M230.3 386.6V422.8M230.6 396.0V434.7M230.9 402.5V415.0M231.2 399.2V418.9M231.5 395.9V414.9M231.8 389.8V408.8M232.1 393.0V410.9M232.4 398.9V411.0M232.7 393.2V414.2M233.0 400.4V409.6M233.3 397.8V409.0M233.6 399.3V410.6M233.9 394.3V420.6M234.2 388.2V409.5M234.5 397.5V408.2M234.8 395.3V407.8M235.1 395.2V415.4M235.4 399.4V419.7M235.7 389.6V404.2M236.0 381.3V403.1M236.3 389.8V405.2M236.6 391.4V402.3M236.9 393.9V404.2M237.2 388.6V402.6M237.5 390.1V400.9M237.8 391.2V417.9M238.1 379.2V411.3M238.4 394.0V407.3M238.7 392.6V410.1M239.0 396.0V407.6M239.3 396.7V421.2M239.6 400.6V422.4M239.9 400.0V414.9M240.2 408.5V420.0M240.5 408.7V428.7M240.8 404.2V421.7M241.1 401.7V426.7M241.4 400.3V414.9M241.7 401.5V410.0M242.0 398.0V415.3M242.3 396.6V407.3M242.6 390.9V403.7M242.9 389.5V413.6M243.2 387.7V402.6M243.5 391.4V404.1M243.8 391.2V405.0M244.1 374.1V406.5M244.4 378.5V410.5M244.7 388.2V402.9M245.0 387.6V410.5M245.3 399.4V411.6M245.6 391.9V417.8M245.9 388.1V414.2M246.2 398.0V410.0M246.5 395.4V417.4M246.8 396.4V409.3M247.1 400.6V410.2M247.4 399.1V411.3M247.7 401.9V413.3M248.0 387.7V417.9M248.3 406.2V416.2M248.6 407.3V430.5M248.9 401.9V420.5M249.2 403.1V415.6M249.5 400.8V412.5M249.8 401.2V410.5M250.1 396.6V409.9M250.4 393.6V414.5M250.7 390.5V408.1M251.0 401.8V414.5M251.3 402.3V417.3M251.6 402.0V422.4M251.9 400.3V411.4M252.2 393.9V409.0M252.5 386.4V406.0M252.8 388.1V412.4M253.1 392.1V402.5M253.4 388.9V401.4M253.7 390.9V405.0M254.0 390.3V406.0M254.3 375.5V415.6M254.6 387.9V407.9M254.9 381.2V400.1M255.2 387.4V397.5M255.5 388.6V420.7M255.8 383.6V401.4M256.1 384.2V396.8M256.4 383.6V400.8M256.7 385.6V406.0M257.0 377.2V401.1M257.3 373.9V401.1M257.6 386.6V408.8M257.9 376.1V399.4M258.2 390.0V401.0M258.5 380.4V397.1M258.8 388.5V410.3M259.1 387.0V405.3M259.4 387.5V409.1M259.7 382.7V398.9M260.0 383.6V399.6M260.3 384.0V405.5M260.6 380.3V397.5M260.9 353.2V403.5M261.2 380.2V397.0M261.5 357.9V406.0M261.8 383.0V392.1M262.1 377.0V400.0M262.4 377.4V397.0M262.7 388.6V400.0M263.0 378.6V400.0M263.3 367.2V396.9M263.6 382.0V394.3M263.9 379.5V410.7M264.2 380.6V395.6M264.5 384.4V396.3M264.8 385.7V396.7M265.1 385.9V397.8M265.4 384.5V401.9M265.7 388.6V402.1M266.0 390.9V401.5M266.3 391.2V400.3M266.6 390.6V406.5M266.9 382.8V404.4M267.2 383.8V401.5M267.5 380.4V393.8M267.8 370.5V399.8M268.1 379.8V398.4M268.4 383.7V408.6M268.7 378.9V397.4M269.0 366.1V400.8M269.3 384.9V395.9M269.6 370.4V400.7M269.9 386.6V403.2M270.2 382.7V415.8M270.5 389.9V400.5M270.8 371.0V408.0M271.1 392.0V405.5M271.4 389.2V406.3M271.7 383.9V408.4M272.0 387.0V405.3M272.3 386.5V409.2M272.6 388.3V400.1M272.9 386.9V400.6M273.2 384.6V402.1M273.5 383.5V408.0M273.8 389.5V398.3M274.1 368.3V395.6M274.4 381.6V393.8M274.7 377.1V403.2M275.0 386.8V399.9M275.3 393.7V406.2" stroke="#c8690c" stroke-opacity="0.5" stroke-width="0.7" fill="none"/><path d="M43.1 286.0V292.9M43.4 285.6V291.8M43.7 288.4V294.9M44.0 286.7V293.1M44.3 289.8V297.2M44.6 283.9V294.2M44.9 286.2V290.8M45.2 284.5V292.6M45.5 286.4V296.9M45.8 290.0V295.6M46.1 290.3V297.5M46.4 294.1V301.7M46.7 292.7V300.4M47.0 294.2V303.2M47.3 293.8V301.2M47.6 298.4V305.8M47.9 303.5V311.1M48.2 302.0V310.8M48.5 302.1V307.6M48.8 299.9V306.3M49.1 300.9V310.2M49.4 299.7V306.6M49.7 299.3V304.7M50.0 297.9V305.8M50.3 301.2V309.3M50.6 300.9V308.8M50.9 304.9V310.3M51.2 305.1V313.4M51.5 307.1V315.0M51.8 306.2V312.3M52.1 306.4V316.1M52.4 310.1V316.4M52.7 312.5V321.6M53.0 319.4V324.2M53.3 320.2V328.0M53.6 324.6V330.0M53.9 326.6V331.8M54.2 328.4V336.0M54.5 329.4V338.7M54.8 331.0V340.0M55.1 331.8V340.2M55.4 334.2V339.6M55.7 329.9V336.9M56.0 332.5V340.9M56.3 334.1V341.0M56.6 336.7V345.0M56.9 340.8V348.1M57.2 341.8V349.9M57.5 344.9V349.6M57.8 342.6V348.8M58.1 345.8V352.9M58.4 344.9V352.9M58.7 348.3V358.4M59.0 349.8V356.9M59.3 349.8V354.8M59.6 346.6V353.5M59.9 344.7V355.1M60.2 350.5V356.4M60.5 351.4V359.2M60.8 352.6V360.1M61.1 354.8V362.3M61.4 357.9V364.3M61.7 358.1V365.4M62.0 352.6V362.7M62.3 353.7V361.7M62.6 357.7V366.2M62.9 357.9V364.7M63.2 360.6V370.6M63.5 366.4V371.3M63.8 366.9V374.1M64.1 368.3V377.3M64.4 371.4V379.4M64.7 374.3V382.3M65.0 375.0V381.4M65.3 373.3V384.4M65.6 377.8V383.4M65.9 375.3V381.4M66.2 371.1V380.1M66.5 365.4V377.3M66.8 368.7V376.9M67.1 372.7V381.1M67.4 367.1V374.8M67.7 370.4V377.1M68.0 371.9V383.1M68.3 373.6V380.8M68.6 376.5V382.1M68.9 376.4V382.3M69.2 374.8V381.9M69.5 376.6V384.4M69.8 378.3V385.9M70.1 379.1V386.1M70.4 379.8V387.0M70.7 379.8V387.4M71.0 381.4V387.3M71.3 381.3V391.3M71.6 381.4V390.4M71.9 379.6V387.2M72.2 381.2V388.9M72.5 384.1V390.7M72.8 383.0V391.0M73.1 385.5V392.3M73.4 382.5V393.0M73.7 381.7V389.5M74.0 385.9V390.3M74.3 380.8V387.5M74.6 383.7V391.4M74.9 382.5V393.0M75.2 382.8V392.8M75.5 383.8V389.4M75.8 384.4V392.9M76.1 383.9V393.2M76.4 384.5V390.8M76.7 384.7V391.0M77.0 387.6V393.0M77.3 384.3V391.0M77.6 384.5V393.3M77.9 389.2V399.2M78.2 394.2V401.0M78.5 396.6V402.2M78.8 397.5V402.4M79.1 394.1V401.6M79.4 396.1V402.1M79.7 390.9V400.0M80.0 390.9V397.3M80.3 389.6V394.8M80.6 389.0V397.9M80.9 388.2V397.9M81.2 393.5V400.9M81.5 391.7V397.9M81.8 391.5V399.0M82.1 391.5V396.3M82.4 389.9V395.7M82.7 389.8V397.1M83.0 390.2V396.4M83.3 391.4V398.2M83.6 389.6V398.2M83.9 388.9V396.7M84.2 389.4V396.7M84.5 394.5V401.9M84.8 395.7V404.2M85.1 399.9V404.9M85.4 397.3V406.5M85.7 400.2V410.9M86.0 404.8V412.1M86.3 404.9V413.5M86.6 406.4V412.3M86.9 403.1V412.2M87.2 404.4V413.9M87.5 406.9V414.2M87.8 406.3V416.4M88.1 408.0V414.0M88.4 406.3V413.2M88.7 402.5V409.4M89.0 398.6V406.4M89.3 397.5V405.5M89.6 396.5V402.3M89.9 394.6V403.7M90.2 395.8V404.8M90.5 397.2V404.8M90.8 395.5V401.9M91.1 395.7V401.8M91.4 395.6V402.7M91.7 395.5V404.4M92.0 397.3V402.8M92.3 396.9V405.5M92.6 399.5V406.5M92.9 396.2V403.4M93.2 396.8V402.8M93.5 389.9V398.5M93.8 392.3V401.1M94.1 393.9V400.9M94.4 392.1V401.6M94.7 392.5V398.9M95.0 393.1V401.1M95.3 397.6V404.9M95.6 404.5V412.9M95.9 406.5V412.9M96.2 405.3V413.7M96.5 401.6V410.5M96.8 397.8V406.9M97.1 398.7V406.0M97.4 398.8V406.7M97.7 403.1V408.7M98.0 401.4V406.1M98.3 399.2V407.0M98.6 397.0V402.9M98.9 395.6V403.4M99.2 396.5V406.9M99.5 400.2V408.8M99.8 402.0V410.4M100.1 401.4V409.2M100.4 400.6V409.5M100.7 396.8V405.3M101.0 399.8V406.4M101.3 398.7V406.4M101.6 402.7V409.5M101.9 402.3V409.4M102.2 400.0V410.2M102.5 399.9V407.6M102.8 403.6V411.3M103.1 405.2V410.7M103.4 404.4V410.3M103.7 403.4V409.0M104.0 404.1V411.1M104.3 407.6V416.5M104.6 405.9V410.7M104.9 404.8V410.5M105.2 401.0V409.1M105.5 405.5V410.9M105.8 400.2V409.6M106.1 405.6V410.5M106.4 401.6V407.1M106.7 401.8V408.1M107.0 401.4V408.4M107.3 400.1V407.8M107.6 402.7V407.7M107.9 404.2V410.9M108.2 402.5V408.2M108.5 404.9V412.4M108.8 403.7V411.3M109.1 403.0V411.8M109.4 401.4V413.0M109.7 401.2V410.4M110.0 398.3V406.7M110.3 395.9V404.6M110.6 393.3V402.2M110.9 394.4V401.3M111.2 391.7V400.2M111.5 396.0V403.7M111.8 394.4V403.9M112.1 397.7V404.5M112.4 397.4V406.2M112.7 398.5V406.7M113.0 395.8V401.3M113.3 394.1V401.1M113.6 391.6V399.4M113.9 393.3V399.0M114.2 396.1V402.0M114.5 392.6V403.8M114.8 393.4V402.2M115.1 398.2V405.1M115.4 400.1V405.9M115.7 399.1V406.1M116.0 401.1V406.9M116.3 401.8V410.2M116.6 404.2V413.5M116.9 406.1V415.7M117.2 402.4V411.1M117.5 403.7V412.1M117.8 406.0V410.9M118.1 410.3V416.1M118.4 403.8V411.3M118.7 406.7V413.8M119.0 401.5V410.1M119.3 404.7V413.3M119.6 399.4V411.4M119.9 402.9V410.9M120.2 404.8V412.7M120.5 406.8V414.2M120.8 408.8V415.6M121.1 407.3V414.7M121.4 408.8V415.4M121.7 405.9V413.4M122.0 401.3V408.4M122.3 397.8V403.8M122.6 400.4V406.3M122.9 397.1V408.3M123.2 397.9V407.9M123.5 397.1V407.4M123.8 401.9V410.1M124.1 403.8V413.4M124.4 403.6V411.2M124.7 404.8V413.0M125.0 399.7V408.1M125.3 401.1V408.7M125.6 397.4V404.0M125.9 400.7V407.9M126.2 396.2V404.1M126.5 394.6V401.0M126.8 393.3V403.3M127.1 390.8V396.7M127.4 388.0V395.7M127.7 387.7V395.6M128.0 390.6V396.3M128.3 390.1V397.0M128.6 388.8V398.0M128.9 390.6V397.1M129.2 393.3V401.8M129.5 396.6V402.4M129.8 394.4V402.2M130.1 392.6V399.6M130.4 392.4V400.0M130.7 390.1V398.2M131.0 388.7V396.8M131.3 390.6V398.8M131.6 392.8V399.4M131.9 394.6V401.2M132.2 393.2V402.5M132.5 389.6V398.4M132.8 393.7V401.8M133.1 399.2V405.3M133.4 399.3V406.6M133.7 402.1V407.3M134.0 398.1V403.7M134.3 400.6V408.4M134.6 398.1V404.6M134.9 398.0V405.1M135.2 394.5V402.9M135.5 399.1V406.8M135.8 397.9V403.8M136.1 395.6V404.5M136.4 396.9V406.1M136.7 396.6V405.7M137.0 400.7V406.0M137.3 393.5V402.0M137.6 395.6V404.2M137.9 393.8V401.8M138.2 393.6V402.2M138.5 390.1V398.8M138.8 390.9V396.8M139.1 393.9V402.6M139.4 393.8V401.5M139.7 391.7V399.0M140.0 386.4V395.6M140.3 381.9V391.5M140.6 384.1V391.2M140.9 384.7V392.3M141.2 388.3V393.2M141.5 388.6V394.0M141.8 381.0V392.6M142.1 379.1V387.0M142.4 383.1V391.7M142.7 384.2V389.8M143.0 385.1V392.9M143.3 380.1V389.4M143.6 381.4V387.8M143.9 378.5V388.7M144.2 383.9V391.7M144.5 384.2V390.8M144.8 387.8V393.3M145.1 393.9V400.4M145.4 395.5V403.9M145.7 394.3V401.6M146.0 392.5V399.7M146.3 392.0V398.7M146.6 391.7V399.7M146.9 394.6V401.8M147.2 389.6V397.2M147.5 395.6V402.4M147.8 392.7V399.8M148.1 393.4V400.7M148.4 392.6V398.4M148.7 390.0V399.2M149.0 387.9V396.1M149.3 392.8V403.8M149.6 393.5V398.9M149.9 399.5V405.1M150.2 396.0V402.3M150.5 393.3V401.2M150.8 394.6V405.0M151.1 393.8V404.4M151.4 397.0V403.0M151.7 395.9V403.2M152.0 395.4V405.5M152.3 394.0V406.5M152.6 395.2V402.3M152.9 393.2V400.9M153.2 393.2V401.9M153.5 399.7V407.6M153.8 403.5V410.0M154.1 409.5V415.9M154.4 408.4V414.7M154.7 406.4V413.9M155.0 403.5V413.5M155.3 408.8V415.8M155.6 412.3V418.9M155.9 406.4V415.5M156.2 403.4V411.7M156.5 404.6V411.2M156.8 405.3V412.4M157.1 407.1V415.3M157.4 405.2V410.8M157.7 404.8V412.6M158.0 407.3V417.1M158.3 409.4V418.3M158.6 402.8V409.5M158.9 401.9V410.8M159.2 404.2V412.0M159.5 406.1V415.9M159.8 404.1V413.1M160.1 400.3V405.8M160.4 402.7V410.2M160.7 402.9V409.6M161.0 401.1V409.1M161.3 395.5V406.3M161.6 398.4V404.5M161.9 396.5V402.8M162.2 399.5V406.2M162.5 395.5V404.4M162.8 395.6V405.5M163.1 394.8V402.0M163.4 392.2V398.0M163.7 392.5V401.3M164.0 396.0V402.8M164.3 396.0V402.0M164.6 393.6V399.3M164.9 393.3V403.5M165.2 389.8V398.1M165.5 389.8V400.6M165.8 394.2V403.2M166.1 395.1V400.9M166.4 395.0V404.6M166.7 392.8V402.5M167.0 392.8V399.6M167.3 389.0V399.9M167.6 395.5V403.5M167.9 394.0V401.6M168.2 391.9V399.1M168.5 386.5V394.9M168.8 387.2V398.2M169.1 394.5V399.3M169.4 391.5V399.5M169.7 388.8V397.3M170.0 385.9V394.5M170.3 388.9V394.2M170.6 387.5V396.2M170.9 389.0V397.7M171.2 392.5V401.2M171.5 393.2V398.7M171.8 390.4V399.3M172.1 389.9V398.2M172.4 383.0V395.3M172.7 385.3V394.1M173.0 386.3V394.1M173.3 388.1V395.2M173.6 390.3V395.7M173.9 390.8V396.4M174.2 388.4V397.1M174.5 392.4V398.6M174.8 394.9V403.7M175.1 397.2V403.4M175.4 396.6V402.5M175.7 395.5V402.0M176.0 395.6V402.4M176.3 391.8V402.0M176.6 393.0V398.6M176.9 393.6V403.0M177.2 398.2V405.7M177.5 401.2V405.7M177.8 401.7V409.8M178.1 402.0V409.8M178.4 401.5V411.6M178.7 400.0V408.3M179.0 398.7V403.9M179.3 401.7V406.6M179.6 399.0V407.5M179.9 399.0V407.5M180.2 400.4V409.4M180.5 404.5V411.8M180.8 400.3V408.4M181.1 396.6V403.8M181.4 398.8V404.3M181.7 401.6V409.0M182.0 400.3V410.0M182.3 402.1V408.9M182.6 396.4V403.9M182.9 397.9V404.3M183.2 398.9V405.7M183.5 399.1V408.5M183.8 398.0V406.2M184.1 400.0V406.5M184.4 398.1V405.7M184.7 396.7V404.8M185.0 395.9V403.5M185.3 398.3V405.5M185.6 401.2V408.8M185.9 400.4V405.7M186.2 396.7V404.5M186.5 393.1V401.0M186.8 394.4V402.2M187.1 393.6V400.6M187.4 395.0V401.1M187.7 396.9V404.2M188.0 395.1V402.2M188.3 395.6V402.8M188.6 393.5V404.8M188.9 395.9V402.8M189.2 395.9V401.8M189.5 397.7V406.1M189.8 396.2V405.1M190.1 402.6V408.3M190.4 401.5V408.8M190.7 401.9V410.0M191.0 398.4V405.6M191.3 401.9V408.4M191.6 400.0V407.3M191.9 397.5V405.6M192.2 398.1V405.5M192.5 395.4V401.9M192.8 391.0V397.5M193.1 389.7V396.5M193.4 388.7V395.9M193.7 389.7V398.1M194.0 392.4V398.0M194.3 390.6V398.6M194.6 390.4V397.4M194.9 393.2V399.6M195.2 391.3V400.3M195.5 391.3V398.5M195.8 396.1V404.4M196.1 397.7V405.3M196.4 397.3V403.7M196.7 394.3V404.6M197.0 396.8V403.7M197.3 392.6V401.5M197.6 397.5V404.8M197.9 396.6V403.6M198.2 398.2V405.1M198.5 394.6V402.1M198.8 393.3V401.9M199.1 396.5V406.4M199.4 399.6V408.7M199.7 400.4V410.4M200.0 395.6V403.9M200.3 396.5V407.7M200.6 397.1V407.1M200.9 400.1V408.3M201.2 399.0V407.0M201.5 401.6V409.8M201.8 403.5V409.5M202.1 402.8V413.8M202.4 401.3V406.2M202.7 399.9V406.8M203.0 393.0V400.6M203.3 394.2V404.9M203.6 395.9V404.6M203.9 397.7V407.0M204.2 401.8V409.0M204.5 399.5V406.1M204.8 396.8V406.4M205.1 397.3V403.5M205.4 400.1V406.9M205.7 401.3V407.4M206.0 398.6V407.7M206.3 399.8V406.8M206.6 400.4V407.8M206.9 403.6V408.1M207.2 400.2V407.0M207.5 403.3V409.2M207.8 397.0V404.7M208.1 396.9V404.1M208.4 393.5V401.1M208.7 398.3V403.4M209.0 397.6V406.1M209.3 396.3V404.0M209.6 397.2V404.6M209.9 392.9V400.0M210.2 396.5V403.3M210.5 396.5V404.6M210.8 398.1V406.8M211.1 395.7V404.5M211.4 397.3V405.6M211.7 396.0V403.9M212.0 398.0V403.2M212.3 396.1V404.0M212.6 397.5V403.9M212.9 399.7V409.0M213.2 396.5V405.7M213.5 393.8V402.2M213.8 392.6V401.1M214.1 400.5V406.3M214.4 401.8V409.6M214.7 402.4V409.6M215.0 399.5V407.1M215.3 397.7V404.4M215.6 395.9V404.0M215.9 394.8V400.2M216.2 397.6V403.3M216.5 393.5V400.8M216.8 395.0V403.7M217.1 391.2V399.6M217.4 391.3V396.4M217.7 388.0V396.1M218.0 388.9V397.1M218.3 388.5V398.7M218.6 389.3V395.7M218.9 392.6V400.0M219.2 391.2V398.9M219.5 393.7V400.6M219.8 389.7V398.1M220.1 392.7V398.8M220.4 391.6V400.8M220.7 393.8V399.6M221.0 390.8V396.6M221.3 390.4V398.3M221.6 388.9V397.6M221.9 390.4V397.5M222.2 391.5V398.5M222.5 390.9V396.0M222.8 390.4V396.3M223.1 391.6V399.1M223.4 390.6V396.7M223.7 391.8V398.5M224.0 390.9V398.3M224.3 390.5V398.6M224.6 388.9V396.7M224.9 392.7V399.7M225.2 390.9V400.3M225.5 391.7V400.4M225.8 388.4V397.2M226.1 387.3V397.4M226.4 392.1V399.0M226.7 397.1V403.3M227.0 398.9V407.8M227.3 400.1V410.0M227.6 401.2V409.0M227.9 400.4V411.4M228.2 402.0V408.2M228.5 400.3V407.7M228.8 401.0V410.5M229.1 397.8V403.5M229.4 398.0V404.0M229.7 397.6V405.6M230.0 390.9V401.5M230.3 398.2V405.5M230.6 396.9V403.6M230.9 402.8V409.7M231.2 402.4V410.0M231.5 401.7V411.4M231.8 398.9V408.7M232.1 402.2V409.3M232.4 399.7V408.8M232.7 402.8V411.8M233.0 401.1V408.0M233.3 396.8V406.1M233.6 399.7V407.5M233.9 398.4V405.9M234.2 395.4V403.6M234.5 399.1V406.8M234.8 398.7V407.0M235.1 397.2V407.1M235.4 399.7V408.2M235.7 393.4V402.3M236.0 392.7V399.6M236.3 393.2V402.5M236.6 392.6V400.3M236.9 395.1V400.7M237.2 394.0V399.6M237.5 390.9V398.9M237.8 393.2V400.3M238.1 397.4V404.1M238.4 395.8V404.9M238.7 400.5V407.4M239.0 396.6V407.8M239.3 402.1V407.7M239.6 402.1V410.5M239.9 404.5V410.4M240.2 408.8V418.4M240.5 409.5V418.1M240.8 407.7V414.1M241.1 404.9V411.9M241.4 404.6V413.7M241.7 400.9V408.8M242.0 404.4V409.9M242.3 398.6V405.0M242.6 394.5V403.0M242.9 392.1V399.6M243.2 392.0V400.4M243.5 394.1V399.9M243.8 393.0V402.7M244.1 392.4V398.8M244.4 391.7V397.7M244.7 391.4V401.0M245.0 396.7V404.3M245.3 402.6V408.5M245.6 398.8V405.7M245.9 401.6V406.9M246.2 400.3V406.4M246.5 399.3V407.6M246.8 401.0V407.4M247.1 402.5V409.3M247.4 403.6V408.9M247.7 403.4V413.2M248.0 405.7V411.2M248.3 406.7V413.2M248.6 407.4V415.8M248.9 408.2V415.0M249.2 405.5V412.3M249.5 403.5V410.3M249.8 402.0V410.0M250.1 398.9V406.7M250.4 399.4V405.5M250.7 398.0V409.0M251.0 401.5V409.2M251.3 404.8V412.1M251.6 407.1V413.5M251.9 402.9V408.8M252.2 399.0V408.2M252.5 398.1V403.4M252.8 395.2V404.8M253.1 393.6V399.1M253.4 389.3V398.4M253.7 391.3V399.1M254.0 395.1V401.1M254.3 399.4V404.9M254.6 394.4V401.3M254.9 391.7V400.0M255.2 389.1V395.3M255.5 388.6V398.2M255.8 387.0V392.8M256.1 385.0V391.4M256.4 386.7V397.0M256.7 388.3V396.0M257.0 388.2V395.3M257.3 387.1V394.9M257.6 388.8V400.4M257.9 389.6V397.0M258.2 390.3V399.0M258.5 387.6V395.7M258.8 388.9V397.4M259.1 388.3V395.7M259.4 390.4V398.4M259.7 385.4V393.0M260.0 385.8V396.0M260.3 386.8V394.3M260.6 386.7V394.8M260.9 384.3V395.5M261.2 386.6V394.3M261.5 384.2V393.3M261.8 384.8V391.0M262.1 384.5V393.7M262.4 387.0V394.8M262.7 390.3V398.0M263.0 393.0V397.9M263.3 385.0V391.8M263.6 384.4V393.0M263.9 381.3V391.0M264.2 385.6V392.4M264.5 386.3V391.2M264.8 386.0V393.0M265.1 385.7V394.7M265.4 391.4V397.6M265.7 391.9V400.3M266.0 392.6V400.5M266.3 391.5V397.8M266.6 390.4V398.7M266.9 391.6V398.0M267.2 388.5V395.9M267.5 386.3V391.8M267.8 384.5V392.7M268.1 383.7V392.7M268.4 384.5V393.4M268.7 386.4V391.8M269.0 386.0V393.9M269.3 386.1V394.3M269.6 390.1V396.5M269.9 390.1V399.0M270.2 388.4V396.4M270.5 391.4V398.0M270.8 392.7V401.4M271.1 396.0V404.5M271.4 394.0V403.1M271.7 394.3V401.6M272.0 395.2V400.6M272.3 392.1V401.3M272.6 388.7V394.7M272.9 389.6V396.8M273.2 393.5V401.6M273.5 391.3V399.8M273.8 390.2V396.5M274.1 386.6V394.5M274.4 386.1V392.7M274.7 388.8V396.1M275.0 391.1V398.8M275.3 396.0V401.4" stroke="#c8690c" stroke-width="0.7" fill="none"/>
<rect x="43.3" y="260.5" width="232.2" height="187.0" fill="none" stroke="#444" stroke-width="1.2"/>
<line x1="66.52" y1="260.5" x2="66.52" y2="263.0" stroke="#444" stroke-width="1"/>
<line x1="89.74" y1="447.5" x2="89.74" y2="451.0" stroke="#444" stroke-width="1"/>
<line x1="89.74" y1="260.5" x2="89.74" y2="263.0" stroke="#444" stroke-width="1"/>
<line x1="112.96" y1="260.5" x2="112.96" y2="263.0" stroke="#444" stroke-width="1"/>
<line x1="136.18" y1="447.5" x2="136.18" y2="451.0" stroke="#444" stroke-width="1"/>
<line x1="136.18" y1="260.5" x2="136.18" y2="263.0" stroke="#444" stroke-width="1"/>
<line x1="159.39999999999998" y1="260.5" x2="159.39999999999998" y2="263.0" stroke="#444" stroke-width="1"/>
<line x1="182.62" y1="447.5" x2="182.62" y2="451.0" stroke="#444" stroke-width="1"/>
<line x1="182.62" y1="260.5" x2="182.62" y2="263.0" stroke="#444" stroke-width="1"/>
<line x1="205.83999999999997" y1="260.5" x2="205.83999999999997" y2="263.0" stroke="#444" stroke-width="1"/>
<line x1="229.06" y1="447.5" x2="229.06" y2="451.0" stroke="#444" stroke-width="1"/>
<line x1="229.06" y1="260.5" x2="229.06" y2="263.0" stroke="#444" stroke-width="1"/>
<line x1="252.27999999999997" y1="260.5" x2="252.27999999999997" y2="263.0" stroke="#444" stroke-width="1"/>
<line x1="39.699999999999996" y1="276.4" x2="43.3" y2="276.4" stroke="#444" stroke-width="1"/>
<text x="37" y="279.4" font-family="Liberation Serif" font-size="8.7" font-weight="bold" text-anchor="end" >100</text>
<line x1="39.699999999999996" y1="307.3" x2="43.3" y2="307.3" stroke="#444" stroke-width="1"/>
<text x="37" y="310.3" font-family="Liberation Serif" font-size="8.7" font-weight="bold" text-anchor="end" >95</text>
<line x1="39.699999999999996" y1="338.2" x2="43.3" y2="338.2" stroke="#444" stroke-width="1"/>
<text x="37" y="341.2" font-family="Liberation Serif" font-size="8.7" font-weight="bold" text-anchor="end" >90</text>
<line x1="39.699999999999996" y1="369.6" x2="43.3" y2="369.6" stroke="#444" stroke-width="1"/>
<text x="37" y="372.6" font-family="Liberation Serif" font-size="8.7" font-weight="bold" text-anchor="end" >85</text>
<line x1="39.699999999999996" y1="400.9" x2="43.3" y2="400.9" stroke="#444" stroke-width="1"/>
<text x="37" y="403.9" font-family="Liberation Serif" font-size="8.7" font-weight="bold" text-anchor="end" >80</text>
<line x1="39.699999999999996" y1="432" x2="43.3" y2="432" stroke="#444" stroke-width="1"/>
<text x="37" y="435" font-family="Liberation Serif" font-size="8.7" font-weight="bold" text-anchor="end" >75</text>
<line x1="40.8" y1="291.8" x2="43.3" y2="291.8" stroke="#444" stroke-width="1"/>
<line x1="40.8" y1="322.7" x2="43.3" y2="322.7" stroke="#444" stroke-width="1"/>
<line x1="40.8" y1="353.9" x2="43.3" y2="353.9" stroke="#444" stroke-width="1"/>
<line x1="40.8" y1="385.2" x2="43.3" y2="385.2" stroke="#444" stroke-width="1"/>
<line x1="40.8" y1="416.4" x2="43.3" y2="416.4" stroke="#444" stroke-width="1"/>
<line x1="43.3" y1="447.5" x2="43.3" y2="451.0" stroke="#444" stroke-width="1"/>
<line x1="273.0" y1="279.6" x2="275.5" y2="279.6" stroke="#444" stroke-width="1"/>
<line x1="273.0" y1="298" x2="275.5" y2="298" stroke="#444" stroke-width="1"/>
<line x1="273.0" y1="316.6" x2="275.5" y2="316.6" stroke="#444" stroke-width="1"/>
<line x1="273.0" y1="335" x2="275.5" y2="335" stroke="#444" stroke-width="1"/>
<line x1="273.0" y1="353.5" x2="275.5" y2="353.5" stroke="#444" stroke-width="1"/>
<line x1="273.0" y1="372" x2="275.5" y2="372" stroke="#444" stroke-width="1"/>
<line x1="273.0" y1="391.2" x2="275.5" y2="391.2" stroke="#444" stroke-width="1"/>
<line x1="273.0" y1="409.7" x2="275.5" y2="409.7" stroke="#444" stroke-width="1"/>
<line x1="273.0" y1="428" x2="275.5" y2="428" stroke="#444" stroke-width="1"/>
<text x="43" y="461" font-family="Liberation Serif" font-size="9" font-weight="bold" text-anchor="middle" >0</text>
<text x="136" y="461" font-family="Liberation Serif" font-size="9" font-weight="bold" text-anchor="middle" >40000</text>
<text x="229" y="461" font-family="Liberation Serif" font-size="9" font-weight="bold" text-anchor="middle" >80000</text>
<text x="160" y="477" font-family="Liberation Serif" font-size="10.9" font-weight="bold" text-anchor="middle" >Time (ps)</text>
<text font-family="Liberation Serif" font-size="11" font-weight="bold" text-anchor="middle" transform="translate(14.5,349) rotate(-90)">Area (nm<tspan font-size="8" dy="-4">2</tspan><tspan dy="4">)</tspan></text>
<path d="M41.4 668.9V677.3M41.7 651.9V658.5M42.0 634.6V647.1M42.3 621.6V628.3M42.6 606.5V622.0M42.9 598.7V608.8M43.2 583.6V596.9M43.5 585.8V594.0M43.8 581.2V588.3M44.1 580.1V589.5M44.4 575.4V587.5M44.7 581.4V591.2M45.0 578.2V587.4M45.3 578.5V585.0M45.6 575.8V583.7M45.9 575.7V585.6M46.2 576.2V583.2M46.5 576.8V586.7M46.8 577.2V584.5M47.1 576.6V585.0M47.4 577.7V591.5M47.7 576.7V588.0M48.0 578.0V596.5M48.3 575.9V585.4M48.6 578.8V593.2M48.9 574.5V589.8M49.2 578.3V586.0M49.5 574.9V586.8M49.8 576.2V588.4M50.1 577.5V593.3M50.4 577.2V584.6M50.7 576.3V584.5M51.0 577.4V585.4M51.3 576.6V582.5M51.6 573.0V592.5M51.9 564.2V584.6M52.2 578.5V585.7M52.5 577.3V584.8M52.8 575.8V584.9M53.1 576.4V585.3M53.4 577.4V585.2M53.7 575.0V583.6M54.0 576.6V582.5M54.3 574.0V582.9M54.6 577.9V584.8M54.9 570.3V582.1M55.2 574.4V581.2M55.5 565.3V585.4M55.8 569.8V583.7M56.1 571.7V590.7M56.4 572.4V580.5M56.7 569.8V579.4M57.0 562.1V580.1M57.3 572.8V579.8M57.6 569.5V580.8M57.9 572.8V579.8M58.2 574.1V581.1M58.5 575.0V582.0M58.8 574.4V581.1M59.1 567.3V580.1M59.4 574.5V581.5M59.7 575.2V583.1M60.0 576.5V584.7M60.3 572.1V581.1M60.6 570.4V581.5M60.9 574.7V581.9M61.2 574.0V581.3M61.5 562.4V584.3M61.8 575.7V588.2M62.1 571.2V588.7M62.4 573.8V582.0M62.7 575.4V582.3M63.0 575.4V581.1M63.3 571.5V581.8M63.6 574.9V582.2M63.9 574.5V586.7M64.2 577.0V585.4M64.5 576.4V587.4M64.8 567.2V584.3M65.1 574.4V582.6M65.4 576.1V583.9M65.7 571.7V583.2M66.0 572.1V584.6M66.3 573.4V584.4M66.6 575.1V582.8M66.9 576.0V582.4M67.2 575.8V584.0M67.5 575.3V580.8M67.8 575.0V587.9M68.1 573.2V582.0M68.4 573.8V582.3M68.7 576.4V586.3M69.0 576.8V583.3M69.3 576.6V583.1M69.6 572.7V587.5M69.9 575.4V585.4M70.2 575.0V580.9M70.5 574.8V581.0M70.8 568.9V583.9M71.1 575.9V581.6M71.4 575.4V585.7M71.7 574.8V584.0M72.0 568.1V588.6M72.3 575.0V584.1M72.6 574.6V581.9M72.9 574.6V580.2M73.2 571.3V582.0M73.5 566.9V580.6M73.8 569.7V580.6M74.1 572.3V581.7M74.4 571.0V580.1M74.7 570.2V581.5M75.0 573.5V584.5M75.3 575.3V583.1M75.6 575.3V581.2M75.9 568.2V578.9M76.2 571.0V579.7M76.5 568.5V579.1M76.8 567.6V579.8M77.1 570.2V580.5M77.4 562.2V580.3M77.7 568.8V576.5M78.0 569.4V576.3M78.3 569.6V577.2M78.6 564.1V577.6M78.9 572.0V578.2M79.2 572.1V583.6M79.5 567.9V578.7M79.8 567.2V579.3M80.1 569.2V577.4M80.4 561.1V575.8M80.7 568.3V577.6M81.0 569.7V576.9M81.3 569.2V579.6M81.6 569.3V576.9M81.9 568.4V577.9M82.2 570.9V580.0M82.5 569.4V582.4M82.8 569.0V580.0M83.1 568.4V578.3M83.4 567.9V583.2M83.7 567.4V578.1M84.0 567.1V575.8M84.3 564.4V576.0M84.6 564.9V575.4M84.9 566.6V575.0M85.2 567.8V574.7M85.5 568.4V575.3M85.8 566.8V576.6M86.1 562.0V575.5M86.4 567.1V577.3M86.7 560.9V578.3M87.0 568.3V579.7M87.3 569.2V579.5M87.6 565.2V577.5M87.9 571.7V582.2M88.2 571.1V578.3M88.5 564.7V579.8M88.8 564.5V577.4M89.1 569.9V575.8M89.4 569.6V576.3M89.7 570.8V581.2M90.0 562.2V578.6M90.3 569.0V583.5M90.6 568.2V578.7M90.9 565.7V575.6M91.2 555.5V577.2M91.5 569.6V577.2M91.8 568.8V581.7M92.1 564.6V580.5M92.4 558.5V574.1M92.7 565.7V582.0M93.0 567.0V573.0M93.3 565.5V574.3M93.6 565.3V574.7M93.9 565.3V571.9M94.2 564.2V574.6M94.5 562.0V570.3M94.8 560.2V574.9M95.1 562.0V568.9M95.4 561.2V569.3M95.7 560.0V569.4M96.0 562.8V569.3M96.3 560.1V570.1M96.6 561.7V569.9M96.9 563.2V576.7M97.2 551.9V568.6M97.5 556.6V568.2M97.8 560.6V569.1M98.1 559.9V570.6M98.4 561.1V568.5M98.7 561.1V567.9M99.0 560.2V569.0M99.3 558.4V569.6M99.6 556.7V572.1M99.9 553.8V566.7M100.2 559.9V571.5M100.5 555.1V574.4M100.8 560.7V578.1M101.1 562.5V570.0M101.4 559.8V570.6M101.7 562.8V570.9M102.0 562.8V571.2M102.3 560.2V570.1M102.6 562.0V570.7M102.9 564.1V574.0M103.2 565.7V576.5M103.5 564.4V570.9M103.8 562.5V573.8M104.1 565.0V582.2M104.4 563.1V571.8M104.7 561.9V569.2M105.0 561.3V568.5M105.3 556.7V568.5M105.6 556.7V565.4M105.9 556.2V571.6M106.2 552.8V562.8M106.5 552.5V561.8M106.8 554.8V562.3M107.1 552.2V562.0M107.4 553.0V560.1M107.7 547.9V560.2M108.0 550.8V560.7M108.3 545.9V556.0M108.6 549.2V557.5M108.9 546.3V556.0M109.2 550.2V557.3M109.5 551.8V558.5M109.8 550.5V558.4M110.1 550.7V557.1M110.4 548.8V555.4M110.7 551.0V560.0M111.0 547.2V556.8M111.3 540.0V559.9M111.6 550.6V556.4M111.9 549.0V557.4M112.2 546.2V558.7M112.5 546.7V556.2M112.8 546.5V562.1M113.1 540.7V554.6M113.4 546.1V555.3M113.7 546.8V554.8M114.0 544.8V555.0M114.3 546.0V555.2M114.6 544.2V556.3M114.9 547.9V565.0M115.2 544.6V554.1M115.5 546.8V554.9M115.8 548.5V554.9M116.1 550.9V558.1M116.4 549.0V558.1M116.7 548.7V558.6M117.0 550.1V557.9M117.3 552.4V564.3M117.6 554.0V566.6M117.9 553.7V562.0M118.2 554.0V560.1M118.5 552.9V563.1M118.8 546.6V559.2M119.1 551.5V560.4M119.4 545.6V556.6M119.7 551.6V557.7M120.0 547.0V562.6M120.3 551.8V561.5M120.6 549.5V557.5M120.9 553.7V559.7M121.2 550.4V558.4M121.5 552.2V558.9M121.8 548.5V568.5M122.1 552.5V561.1M122.4 553.4V561.4M122.7 555.3V561.7M123.0 555.4V564.3M123.3 556.1V562.5M123.6 553.9V562.9M123.9 553.9V561.9M124.2 555.0V566.7M124.5 554.7V562.1M124.8 552.5V565.9M125.1 553.7V560.4M125.4 554.2V560.0M125.7 551.3V560.6M126.0 552.5V561.4M126.3 548.9V558.0M126.6 543.6V558.6M126.9 543.2V558.2M127.2 544.3V556.0M127.5 549.2V556.6M127.8 546.0V552.4M128.1 542.5V553.5M128.4 544.8V552.9M128.7 545.3V556.9M129.0 537.7V551.8M129.3 545.9V551.4M129.6 539.8V552.3M129.9 541.8V548.9M130.2 539.7V547.3M130.5 535.9V549.5M130.8 536.5V549.9M131.1 537.7V552.9M131.4 541.9V549.8M131.7 540.6V549.4M132.0 538.2V550.2M132.3 538.9V547.4M132.6 540.0V548.2M132.9 541.2V549.0M133.2 543.1V557.0M133.5 540.2V549.5M133.8 543.8V550.3M134.1 536.6V548.8M134.4 537.6V552.0M134.7 535.6V547.6M135.0 538.4V546.5M135.3 539.4V549.2M135.6 540.1V549.5M135.9 538.4V547.3M136.2 538.4V550.4M136.5 540.6V548.6M136.8 536.4V551.5M137.1 544.8V550.7M137.4 541.7V553.8M137.7 542.7V550.1M138.0 541.1V551.4M138.3 542.8V550.8M138.6 543.7V553.1M138.9 543.0V549.4M139.2 544.4V551.3M139.5 540.0V550.9M139.8 544.6V551.4M140.1 543.6V550.8M140.4 542.4V552.0M140.7 542.6V552.1M141.0 544.9V551.1M141.3 543.1V550.5M141.6 538.6V554.3M141.9 539.0V548.2M142.2 537.5V551.3M142.5 542.3V551.6M142.8 539.5V550.5M143.1 541.7V559.3M143.4 536.5V550.9M143.7 540.5V552.0M144.0 544.0V552.4M144.3 539.4V551.9M144.6 540.5V553.9M144.9 545.1V551.5M145.2 544.2V551.5M145.5 544.2V550.4M145.8 545.4V551.6M146.1 543.7V553.6M146.4 540.0V556.4M146.7 546.2V554.3M147.0 542.9V553.8M147.3 541.5V550.3M147.6 545.2V553.3M147.9 540.6V554.0M148.2 547.2V554.7M148.5 544.1V560.7M148.8 546.2V553.0M149.1 544.9V558.3M149.4 542.4V550.9M149.7 544.7V556.4M150.0 543.7V550.3M150.3 544.0V550.3M150.6 542.5V550.5M150.9 538.5V553.2M151.2 533.9V550.3M151.5 540.8V552.3M151.8 544.4V551.2M152.1 540.7V551.1M152.4 544.7V553.2M152.7 544.4V554.6M153.0 539.2V549.9M153.3 543.9V551.5M153.6 541.0V552.5M153.9 538.6V554.3M154.2 544.5V551.6M154.5 544.7V551.5M154.8 544.5V556.2M155.1 544.3V553.4M155.4 544.5V554.2M155.7 545.5V553.1M156.0 546.0V553.2M156.3 545.4V555.6M156.6 544.9V551.0M156.9 544.3V552.1M157.2 544.1V550.6M157.5 541.5V550.9M157.8 539.5V549.7M158.1 542.7V550.2M158.4 540.1V550.3M158.7 535.5V553.2M159.0 538.1V550.7M159.3 542.2V547.7M159.6 542.1V555.1M159.9 542.6V552.8M160.2 540.4V548.2M160.5 536.3V549.6M160.8 536.5V549.2M161.1 537.1V549.9M161.4 541.1V554.9M161.7 541.0V550.0M162.0 542.0V548.6M162.3 539.3V548.3M162.6 534.3V547.7M162.9 533.1V545.7M163.2 537.8V545.0M163.5 538.6V554.0M163.8 539.7V548.4M164.1 540.4V559.0M164.4 536.4V550.9M164.7 538.4V546.3M165.0 533.9V543.9M165.3 534.7V548.3M165.6 534.9V544.6M165.9 535.0V547.9M166.2 534.4V542.1M166.5 526.7V542.9M166.8 533.9V540.4M167.1 531.9V540.7M167.4 529.5V540.0M167.7 529.7V539.1M168.0 528.4V537.9M168.3 530.3V538.1M168.6 529.8V537.0M168.9 522.5V536.5M169.2 531.4V540.1M169.5 530.2V539.5M169.8 531.3V539.0M170.1 531.3V539.1M170.4 533.1V538.6M170.7 529.1V539.3M171.0 527.0V538.9M171.3 527.0V539.0M171.6 532.5V538.6M171.9 530.7V538.7M172.2 530.6V539.5M172.5 529.0V539.0M172.8 531.3V537.0M173.1 530.8V538.0M173.4 528.9V538.3M173.7 531.1V540.8M174.0 532.3V538.1M174.3 530.1V545.9M174.6 530.3V539.3M174.9 527.2V541.0M175.2 528.3V538.4M175.5 527.9V538.6M175.8 529.8V537.4M176.1 529.0V537.7M176.4 529.9V536.4M176.7 525.6V536.8M177.0 529.4V539.2M177.3 528.2V539.2M177.6 527.9V537.9M177.9 528.5V537.6M178.2 523.4V536.6M178.5 531.6V538.2M178.8 529.6V538.1M179.1 526.1V541.4M179.4 532.6V540.7M179.7 531.0V540.5M180.0 532.8V540.9M180.3 530.1V545.3M180.6 527.2V541.9M180.9 529.4V538.3M181.2 531.4V543.8M181.5 530.1V538.7M181.8 528.4V546.8M182.1 531.5V537.2M182.4 530.1V538.2M182.7 531.1V540.3M183.0 531.2V538.3M183.3 527.4V538.6M183.6 529.4V537.0M183.9 530.5V543.6M184.2 520.5V536.7M184.5 526.7V538.5M184.8 526.3V536.1M185.1 528.7V536.7M185.4 529.8V539.1M185.7 527.1V544.2M186.0 529.1V538.8M186.3 530.3V544.0M186.6 535.1V552.6M186.9 528.8V541.4M187.2 535.1V540.7M187.5 533.8V543.8M187.8 534.8V548.2M188.1 534.3V541.1M188.4 535.8V543.3M188.7 531.5V543.7M189.0 537.3V545.1M189.3 537.9V545.6M189.6 536.9V543.8M189.9 537.0V544.0M190.2 538.1V544.1M190.5 531.7V546.9M190.8 540.1V546.6M191.1 539.7V551.8M191.4 539.9V549.5M191.7 541.0V548.1M192.0 541.6V549.5M192.3 537.7V548.1M192.6 540.5V549.8M192.9 540.1V546.1M193.2 539.6V553.4M193.5 535.0V544.8M193.8 533.5V547.8M194.1 538.4V546.7M194.4 535.5V546.9M194.7 539.0V547.8M195.0 537.0V549.3M195.3 539.9V546.4M195.6 532.2V546.3M195.9 529.5V547.4M196.2 535.7V548.4M196.5 541.3V547.2M196.8 539.6V546.0M197.1 539.0V548.0M197.4 536.6V543.0M197.7 537.4V543.8M198.0 534.1V543.6M198.3 535.5V547.3M198.6 536.0V544.2M198.9 534.7V541.7M199.2 534.8V547.6M199.5 532.1V545.3M199.8 526.9V542.6M200.1 535.4V541.7M200.4 530.9V543.0M200.7 534.5V542.3M201.0 536.1V544.4M201.3 534.0V541.8M201.6 535.4V540.8M201.9 532.8V548.0M202.2 534.7V543.7M202.5 533.8V541.6M202.8 534.7V540.9M203.1 532.9V545.5M203.4 537.0V544.2M203.7 535.7V544.0M204.0 537.3V544.1M204.3 537.2V543.3M204.6 537.0V547.0M204.9 535.4V546.9M205.2 537.0V544.6M205.5 537.0V543.7M205.8 536.5V544.3M206.1 536.1V549.8M206.4 534.4V542.3M206.7 530.0V541.7M207.0 528.1V540.8M207.3 525.7V541.0M207.6 533.7V541.6M207.9 535.6V545.3M208.2 532.6V541.9M208.5 535.2V541.9M208.8 535.9V543.4M209.1 534.1V543.8M209.4 535.6V543.1M209.7 534.9V541.2M210.0 534.5V541.6M210.3 527.2V542.8M210.6 533.0V545.5M210.9 536.9V545.6M211.2 538.6V544.7M211.5 537.2V548.5M211.8 528.8V543.9M212.1 537.3V545.3M212.4 536.9V548.8M212.7 536.3V550.3M213.0 535.6V541.9M213.3 532.6V545.2M213.6 534.2V544.6M213.9 531.9V543.4M214.2 535.9V544.7M214.5 535.0V544.5M214.8 535.3V543.1M215.1 532.8V543.8M215.4 535.8V543.4M215.7 533.2V546.3M216.0 534.1V547.6M216.3 534.1V546.5M216.6 535.5V543.1M216.9 537.5V549.8M217.2 534.9V543.2M217.5 533.7V544.3M217.8 526.2V541.7M218.1 528.0V541.1M218.4 525.2V539.1M218.7 525.1V538.8M219.0 528.0V544.2M219.3 527.7V540.1M219.6 532.5V542.1M219.9 531.8V539.9M220.2 530.5V537.8M220.5 533.5V541.6M220.8 531.3V539.3M221.1 531.4V542.6M221.4 528.1V537.3M221.7 531.2V537.0M222.0 530.1V545.3M222.3 521.9V537.8M222.6 528.3V538.0M222.9 531.7V539.4M223.2 529.5V537.1M223.5 527.3V534.7M223.8 529.2V535.8M224.1 524.1V542.2M224.4 529.6V545.1M224.7 525.1V536.7M225.0 530.2V537.4M225.3 527.9V535.3M225.6 531.1V539.4M225.9 529.0V537.8M226.2 521.0V537.3M226.5 529.3V541.4M226.8 532.0V543.5M227.1 532.0V538.9M227.4 532.1V539.2M227.7 528.8V535.6M228.0 529.6V539.1M228.3 528.6V537.2M228.6 527.9V538.7M228.9 528.4V536.3M229.2 529.2V535.7M229.5 526.5V535.0M229.8 524.8V533.4M230.1 527.3V534.3M230.4 525.9V532.7M230.7 526.9V535.0M231.0 528.2V533.8M231.3 528.9V536.6M231.6 527.7V535.1M231.9 528.8V538.0M232.2 525.0V542.7M232.5 529.5V537.7M232.8 531.8V538.2M233.1 528.5V544.2M233.4 529.8V536.2M233.7 530.7V536.6M234.0 530.6V536.4M234.3 528.6V535.7M234.6 528.2V534.4M234.9 528.4V534.5M235.2 529.7V540.2M235.5 527.3V536.6M235.8 526.9V536.1M236.1 528.6V536.5M236.4 527.5V535.9M236.7 528.6V537.4M237.0 524.6V533.9M237.3 523.7V537.6M237.6 522.8V534.9M237.9 526.3V540.2M238.2 526.7V541.3M238.5 528.8V534.2M238.8 528.2V533.8M239.1 523.3V533.5M239.4 526.1V533.4M239.7 527.9V537.3M240.0 528.7V537.3M240.3 530.6V538.8M240.6 530.9V542.6M240.9 524.6V535.7M241.2 530.5V538.7M241.5 530.8V536.6M241.8 529.7V540.2M242.1 532.9V541.7M242.4 533.6V543.2M242.7 528.9V550.2M243.0 531.0V537.8M243.3 529.8V537.9M243.6 533.0V545.7M243.9 530.7V539.5M244.2 532.2V539.2M244.5 534.2V540.9M244.8 528.7V543.6M245.1 534.1V539.4M245.4 533.4V539.1M245.7 534.4V540.2M246.0 534.8V541.3M246.3 531.9V544.7M246.6 533.3V539.7M246.9 533.3V542.6M247.2 532.1V538.9M247.5 532.5V542.5M247.8 532.0V541.6M248.1 533.2V540.1M248.4 534.5V542.9M248.7 526.7V540.7M249.0 534.9V542.0M249.3 532.7V543.0M249.6 533.9V540.7M249.9 532.0V539.5M250.2 530.5V537.8M250.5 529.9V539.8M250.8 532.7V538.9M251.1 529.8V542.0M251.4 533.1V540.4M251.7 531.8V540.2M252.0 532.1V542.6M252.3 530.6V541.2M252.6 529.6V538.9M252.9 531.3V537.2M253.2 527.4V546.3M253.5 523.2V541.6M253.8 531.3V542.8M254.1 530.0V537.8M254.4 530.2V538.6M254.7 528.8V539.0M255.0 529.5V537.4M255.3 532.2V543.5M255.6 531.4V536.8M255.9 531.7V541.6M256.2 530.8V541.1M256.5 529.8V537.9M256.8 529.9V537.1M257.1 527.5V537.2M257.4 530.8V536.9M257.7 529.9V537.1M258.0 530.6V537.4M258.3 529.3V536.9M258.6 530.1V539.1M258.9 527.4V537.9M259.2 527.7V537.5M259.5 526.2V538.8M259.8 527.6V536.2M260.1 523.9V536.3M260.4 527.3V540.4M260.7 526.6V535.1M261.0 528.1V535.7M261.3 526.9V534.2M261.6 529.0V535.5M261.9 529.2V538.9M262.2 526.7V539.9M262.5 529.9V537.5M262.8 526.0V537.7M263.1 531.6V539.1M263.4 531.0V538.8M263.7 527.6V538.2M264.0 529.5V538.8M264.3 529.9V540.2M264.6 523.3V541.7M264.9 519.7V538.1M265.2 527.9V537.8M265.5 529.7V536.3M265.8 529.0V536.0M266.1 527.8V543.0M266.4 531.5V539.7M266.7 531.6V538.9M267.0 534.6V542.5M267.3 533.5V540.4M267.6 533.2V541.4M267.9 534.0V545.0M268.2 529.2V539.7M268.5 534.7V542.1M268.8 522.8V544.9M269.1 535.6V542.8M269.4 533.0V547.2M269.7 534.4V544.5M270.0 534.5V543.5M270.3 534.3V545.9M270.6 535.8V552.0M270.9 529.3V541.5M271.2 533.3V543.3M271.5 535.4V542.5M271.8 536.1V550.9M272.1 534.1V553.4M272.4 535.1V541.7M272.7 534.2V541.3M273.0 530.9V542.1" stroke="#b9570e" stroke-opacity="0.5" stroke-width="0.7" fill="none"/><path d="M41.4 669.8V674.8M41.7 652.8V658.6M42.0 635.8V640.1M42.3 620.9V627.2M42.6 610.4V617.2M42.9 599.0V604.2M43.2 590.6V596.0M43.5 587.8V593.4M43.8 582.7V586.9M44.1 579.5V585.4M44.4 580.5V585.7M44.7 582.0V585.4M45.0 580.6V585.8M45.3 577.6V584.5M45.6 577.9V582.0M45.9 576.9V582.3M46.2 577.4V581.7M46.5 574.8V583.5M46.8 577.8V582.8M47.1 577.1V582.6M47.4 576.6V582.6M47.7 577.6V582.1M48.0 578.7V583.1M48.3 578.5V583.5M48.6 579.1V585.8M48.9 579.2V584.9M49.2 579.2V587.9M49.5 579.0V583.4M49.8 577.9V585.4M50.1 578.4V582.2M50.4 578.6V582.5M50.7 578.0V583.3M51.0 576.5V582.1M51.3 575.0V582.8M51.6 576.3V583.1M51.9 575.7V582.4M52.2 579.2V583.6M52.5 579.7V583.7M52.8 579.0V583.5M53.1 577.1V582.8M53.4 578.4V584.1M53.7 576.7V582.5M54.0 576.6V582.1M54.3 577.3V583.9M54.6 578.2V583.5M54.9 576.6V582.9M55.2 574.4V581.0M55.5 574.4V578.3M55.8 575.8V580.6M56.1 575.9V580.2M56.4 574.6V579.6M56.7 573.4V578.3M57.0 572.5V578.9M57.3 573.5V578.7M57.6 574.5V581.6M57.9 573.6V579.5M58.2 573.4V580.6M58.5 576.3V581.6M58.8 573.8V580.7M59.1 573.3V580.9M59.4 576.6V581.8M59.7 575.1V580.8M60.0 576.7V581.1M60.3 575.5V579.7M60.6 573.5V579.3M60.9 575.2V581.0M61.2 575.2V581.1M61.5 575.7V580.7M61.8 574.6V581.6M62.1 577.5V582.7M62.4 575.9V580.5M62.7 576.2V582.0M63.0 575.6V580.6M63.3 573.8V580.5M63.6 575.4V580.9M63.9 576.7V581.9M64.2 577.6V582.5M64.5 577.0V584.5M64.8 578.4V582.3M65.1 576.7V581.9M65.4 577.9V582.1M65.7 577.3V582.7M66.0 576.9V581.7M66.3 576.4V582.6M66.6 576.5V581.2M66.9 575.5V582.5M67.2 576.0V582.3M67.5 572.7V580.6M67.8 575.8V580.9M68.1 577.6V581.4M68.4 577.0V582.0M68.7 576.3V584.6M69.0 574.6V581.5M69.3 578.1V582.0M69.6 575.2V582.5M69.9 576.4V580.4M70.2 573.9V580.9M70.5 575.2V581.7M70.8 574.8V580.2M71.1 575.3V579.7M71.4 577.0V583.5M71.7 575.2V582.4M72.0 573.6V581.3M72.3 575.0V581.2M72.6 574.0V580.1M72.9 575.1V579.4M73.2 575.1V579.7M73.5 574.7V580.3M73.8 574.9V580.4M74.1 573.7V578.7M74.4 573.0V580.6M74.7 575.7V578.8M75.0 575.2V578.6M75.3 575.4V583.1M75.6 576.1V579.7M75.9 571.3V580.3M76.2 572.4V577.5M76.5 571.7V576.3M76.8 571.3V576.8M77.1 569.3V576.3M77.4 569.1V573.5M77.7 570.5V574.1M78.0 571.9V576.3M78.3 572.2V577.2M78.6 571.5V577.1M78.9 573.0V576.9M79.2 572.6V577.4M79.5 570.6V577.1M79.8 570.4V576.1M80.1 570.3V575.5M80.4 569.8V576.8M80.7 569.3V575.2M81.0 570.0V575.9M81.3 567.9V574.8M81.6 569.7V576.9M81.9 570.4V575.3M82.2 572.3V576.1M82.5 571.6V577.6M82.8 567.5V575.1M83.1 571.8V575.5M83.4 568.4V576.7M83.7 568.6V573.2M84.0 568.4V573.3M84.3 568.5V573.1M84.6 570.2V575.4M84.9 568.8V574.8M85.2 568.9V575.3M85.5 567.8V575.3M85.8 569.8V575.3M86.1 568.7V574.3M86.4 569.6V575.9M86.7 571.0V577.0M87.0 570.1V576.2M87.3 570.7V575.8M87.6 569.8V575.7M87.9 569.6V577.7M88.2 571.6V576.4M88.5 571.5V577.2M88.8 567.6V577.3M89.1 570.4V576.1M89.4 570.2V576.9M89.7 571.0V576.1M90.0 570.3V575.1M90.3 568.5V573.2M90.6 568.5V573.6M90.9 567.7V573.1M91.2 568.4V572.7M91.5 569.3V575.2M91.8 567.7V575.8M92.1 569.3V575.3M92.4 569.2V573.5M92.7 567.4V572.4M93.0 567.7V572.4M93.3 565.7V572.5M93.6 567.9V572.1M93.9 565.2V571.6M94.2 564.2V571.9M94.5 564.9V571.7M94.8 564.6V567.6M95.1 563.2V567.6M95.4 561.0V568.2M95.7 563.0V568.8M96.0 562.8V570.0M96.3 563.7V568.1M96.6 564.1V568.3M96.9 564.8V570.1M97.2 563.1V567.6M97.5 562.6V568.8M97.8 563.0V568.7M98.1 562.5V567.4M98.4 561.2V567.7M98.7 561.0V567.2M99.0 561.2V566.7M99.3 562.3V568.2M99.6 562.4V565.9M99.9 561.1V566.3M100.2 559.6V565.2M100.5 561.5V566.1M100.8 561.8V567.2M101.1 561.2V567.7M101.4 563.4V568.8M101.7 564.4V568.2M102.0 563.0V569.5M102.3 564.4V569.0M102.6 564.4V570.6M102.9 564.9V570.9M103.2 564.6V569.9M103.5 564.4V570.6M103.8 565.1V571.0M104.1 564.9V570.3M104.4 565.2V571.3M104.7 561.0V569.9M105.0 560.3V565.7M105.3 560.3V566.0M105.6 559.1V564.9M105.9 558.8V564.0M106.2 557.5V561.1M106.5 555.3V560.8M106.8 554.9V562.3M107.1 553.9V559.5M107.4 554.7V559.1M107.7 552.3V558.2M108.0 552.9V556.9M108.3 549.7V556.8M108.6 550.5V554.6M108.9 548.8V556.1M109.2 552.2V556.0M109.5 552.0V557.5M109.8 552.8V556.9M110.1 547.7V556.2M110.4 550.7V555.4M110.7 551.5V556.5M111.0 550.2V556.0M111.3 550.7V555.4M111.6 549.2V554.9M111.9 549.6V556.0M112.2 549.3V554.2M112.5 550.1V554.9M112.8 549.8V554.6M113.1 548.3V554.7M113.4 547.2V553.7M113.7 546.9V552.5M114.0 548.6V553.2M114.3 548.2V554.2M114.6 547.4V555.3M114.9 548.6V553.9M115.2 548.2V553.9M115.5 549.0V554.2M115.8 547.4V556.2M116.1 550.3V557.0M116.4 551.3V556.7M116.7 551.5V556.0M117.0 551.6V555.5M117.3 550.5V557.5M117.6 552.8V561.3M117.9 553.5V559.8M118.2 553.9V558.8M118.5 554.2V558.5M118.8 550.2V559.5M119.1 550.1V555.5M119.4 550.5V557.2M119.7 552.5V556.2M120.0 549.5V558.5M120.3 551.8V556.8M120.6 552.2V557.6M120.9 553.6V561.0M121.2 553.1V558.9M121.5 553.7V558.5M121.8 553.8V560.9M122.1 555.7V560.3M122.4 555.2V561.0M122.7 557.2V561.4M123.0 555.5V560.6M123.3 555.5V561.9M123.6 557.3V561.1M123.9 555.2V562.6M124.2 555.6V560.6M124.5 554.0V561.4M124.8 553.2V560.1M125.1 555.0V559.2M125.4 551.6V559.6M125.7 553.7V559.8M126.0 552.3V558.0M126.3 551.9V556.5M126.6 551.1V554.8M126.9 550.4V555.0M127.2 549.3V556.6M127.5 550.0V554.2M127.8 547.5V552.3M128.1 545.3V551.8M128.4 544.7V550.4M128.7 545.3V552.3M129.0 546.9V550.4M129.3 546.7V550.5M129.6 544.2V550.7M129.9 543.1V547.6M130.2 541.1V546.1M130.5 540.1V545.6M130.8 539.7V546.0M131.1 541.1V546.9M131.4 543.1V547.3M131.7 543.4V546.2M132.0 541.6V546.6M132.3 542.1V546.0M132.6 539.5V546.7M132.9 541.8V547.9M133.2 542.8V548.7M133.5 544.6V548.4M133.8 544.5V548.2M134.1 543.5V546.6M134.4 540.7V545.7M134.7 539.7V545.7M135.0 538.4V545.9M135.3 540.2V546.3M135.6 540.8V545.7M135.9 538.1V545.3M136.2 541.1V546.6M136.5 541.4V547.3M136.8 543.8V547.8M137.1 545.7V550.8M137.4 545.7V549.7M137.7 545.5V548.2M138.0 545.4V550.4M138.3 542.8V549.7M138.6 545.2V549.0M138.9 543.2V549.3M139.2 545.9V548.8M139.5 543.9V551.1M139.8 543.5V550.2M140.1 544.1V550.9M140.4 546.5V551.9M140.7 545.6V552.5M141.0 544.6V549.1M141.3 543.9V550.0M141.6 539.9V547.8M141.9 542.5V548.1M142.2 543.2V546.9M142.5 541.1V549.5M142.8 541.6V549.3M143.1 542.9V548.5M143.4 543.6V549.1M143.7 543.4V549.1M144.0 545.0V549.7M144.3 544.4V549.7M144.6 544.9V550.7M144.9 545.2V552.0M145.2 545.8V549.2M145.5 544.6V549.5M145.8 545.7V549.4M146.1 544.4V552.7M146.4 546.0V551.6M146.7 547.6V551.8M147.0 545.8V550.9M147.3 543.0V549.8M147.6 545.8V551.8M147.9 547.7V552.5M148.2 548.1V552.8M148.5 548.1V552.1M148.8 545.9V551.8M149.1 545.6V549.6M149.4 544.4V551.6M149.7 545.6V549.9M150.0 544.2V550.3M150.3 543.9V550.0M150.6 544.5V551.6M150.9 543.3V549.7M151.2 545.5V549.0M151.5 543.9V548.9M151.8 544.1V549.0M152.1 544.2V548.4M152.4 544.9V549.5M152.7 543.5V548.7M153.0 544.0V549.7M153.3 545.9V550.2M153.6 543.7V551.9M153.9 545.3V550.5M154.2 544.0V548.7M154.5 545.7V549.2M154.8 544.7V549.9M155.1 545.0V549.9M155.4 545.7V551.7M155.7 544.5V550.5M156.0 547.1V551.0M156.3 546.7V552.7M156.6 545.9V551.2M156.9 545.5V548.9M157.2 545.3V549.2M157.5 543.2V550.9M157.8 545.1V549.4M158.1 544.8V548.3M158.4 544.3V548.9M158.7 542.1V547.5M159.0 541.6V547.2M159.3 541.0V546.3M159.6 542.6V547.2M159.9 541.3V548.3M160.2 541.2V547.8M160.5 541.8V546.1M160.8 541.2V546.1M161.1 543.0V547.2M161.4 542.9V547.4M161.7 542.2V548.2M162.0 542.3V548.7M162.3 541.3V545.7M162.6 539.4V545.3M162.9 539.1V546.0M163.2 538.4V545.0M163.5 541.0V547.2M163.8 540.8V544.6M164.1 540.4V545.0M164.4 538.7V547.0M164.7 539.3V545.9M165.0 537.2V543.9M165.3 536.2V541.5M165.6 537.6V541.6M165.9 536.0V541.8M166.2 536.1V540.6M166.5 532.1V538.7M166.8 534.9V538.4M167.1 534.2V537.9M167.4 533.5V539.0M167.7 530.8V535.9M168.0 530.3V537.1M168.3 531.6V535.1M168.6 529.5V536.2M168.9 531.4V536.1M169.2 531.3V537.8M169.5 534.2V537.6M169.8 532.5V536.7M170.1 532.7V537.1M170.4 533.2V537.8M170.7 533.3V538.8M171.0 533.1V537.5M171.3 532.2V536.7M171.6 533.1V538.0M171.9 531.6V538.8M172.2 533.2V536.5M172.5 531.7V535.4M172.8 531.8V535.9M173.1 531.3V535.9M173.4 531.3V534.9M173.7 531.1V535.9M174.0 532.7V537.7M174.3 532.1V536.6M174.6 530.8V537.4M174.9 530.2V538.0M175.2 529.8V538.7M175.5 531.2V538.3M175.8 531.3V537.6M176.1 532.4V536.9M176.4 530.3V534.6M176.7 530.9V536.8M177.0 530.8V536.1M177.3 532.5V537.4M177.6 532.9V536.1M177.9 532.2V536.6M178.2 531.6V535.3M178.5 532.3V537.5M178.8 530.8V536.4M179.1 531.5V537.2M179.4 533.1V538.6M179.7 533.3V539.1M180.0 533.8V537.8M180.3 533.4V539.2M180.6 532.0V537.2M180.9 531.5V537.5M181.2 532.2V538.3M181.5 532.3V537.8M181.8 530.8V537.4M182.1 531.1V537.8M182.4 533.3V537.4M182.7 531.4V537.8M183.0 533.3V538.2M183.3 532.6V536.5M183.6 529.7V536.7M183.9 531.1V537.1M184.2 530.7V536.2M184.5 527.8V535.6M184.8 530.5V534.4M185.1 528.8V535.4M185.4 531.4V535.5M185.7 533.0V538.5M186.0 532.9V537.7M186.3 531.3V538.6M186.6 535.2V539.6M186.9 534.4V540.9M187.2 535.4V539.8M187.5 535.9V540.7M187.8 535.1V541.3M188.1 535.4V540.1M188.4 536.4V541.7M188.7 535.0V543.4M189.0 537.0V543.0M189.3 536.8V543.0M189.6 537.2V544.5M189.9 538.7V542.7M190.2 537.0V543.8M190.5 539.2V544.9M190.8 541.0V546.7M191.1 539.3V545.3M191.4 541.2V545.3M191.7 542.8V546.4M192.0 543.3V547.1M192.3 543.1V547.1M192.6 541.4V545.6M192.9 539.9V545.4M193.2 539.0V546.2M193.5 539.1V543.8M193.8 538.2V543.2M194.1 539.2V543.8M194.4 540.8V545.4M194.7 540.4V546.0M195.0 540.1V545.3M195.3 538.9V545.1M195.6 540.5V546.3M195.9 539.2V545.5M196.2 540.5V545.6M196.5 541.2V545.9M196.8 539.9V546.2M197.1 539.3V545.1M197.4 536.4V543.2M197.7 538.0V544.7M198.0 539.3V542.6M198.3 535.0V541.4M198.6 535.1V543.0M198.9 535.2V540.6M199.2 536.2V540.1M199.5 536.8V540.2M199.8 537.2V540.7M200.1 536.5V540.3M200.4 536.8V541.2M200.7 535.5V540.3M201.0 535.8V540.9M201.3 534.4V540.1M201.6 535.1V540.9M201.9 535.7V541.1M202.2 535.2V542.3M202.5 536.4V540.6M202.8 535.7V540.6M203.1 537.7V541.2M203.4 537.8V543.1M203.7 536.7V542.9M204.0 537.2V543.1M204.3 537.6V542.1M204.6 537.8V543.7M204.9 534.7V544.0M205.2 537.1V543.3M205.5 537.5V543.0M205.8 537.7V543.4M206.1 536.2V540.7M206.4 535.2V540.6M206.7 535.4V542.2M207.0 534.5V539.0M207.3 534.9V538.9M207.6 536.1V539.5M207.9 536.0V541.9M208.2 536.0V540.7M208.5 536.5V540.8M208.8 537.0V542.4M209.1 537.2V541.8M209.4 536.0V542.0M209.7 535.3V540.7M210.0 536.2V544.8M210.3 537.9V541.4M210.6 538.5V543.3M210.9 537.6V542.8M211.2 538.4V543.6M211.5 537.9V544.6M211.8 538.1V543.5M212.1 538.4V544.0M212.4 535.9V543.5M212.7 537.2V542.0M213.0 536.1V540.2M213.3 533.9V540.7M213.6 535.1V539.6M213.9 535.8V539.7M214.2 535.6V541.2M214.5 536.0V541.9M214.8 533.5V541.4M215.1 535.8V542.3M215.4 536.4V541.0M215.7 536.5V542.8M216.0 536.5V541.9M216.3 536.2V541.7M216.6 534.7V543.2M216.9 536.8V542.5M217.2 534.7V541.7M217.5 533.7V540.7M217.8 534.0V540.1M218.1 533.3V539.5M218.4 533.2V538.1M218.7 532.1V536.6M219.0 530.9V538.7M219.3 533.3V538.4M219.6 532.2V538.4M219.9 531.7V535.8M220.2 532.0V537.6M220.5 532.6V538.9M220.8 532.7V539.4M221.1 533.4V539.9M221.4 530.9V536.5M221.7 531.4V536.5M222.0 531.1V536.8M222.3 531.6V536.2M222.6 532.1V536.3M222.9 531.8V536.7M223.2 530.6V534.5M223.5 530.0V534.5M223.8 529.7V535.4M224.1 532.5V537.3M224.4 531.6V536.1M224.7 531.7V536.0M225.0 529.9V536.3M225.3 528.1V535.0M225.6 531.7V536.2M225.9 532.0V535.4M226.2 530.2V535.2M226.5 532.0V537.0M226.8 532.5V537.1M227.1 532.3V537.3M227.4 532.9V537.8M227.7 528.8V533.5M228.0 530.0V536.0M228.3 531.3V535.9M228.6 530.9V536.0M228.9 529.5V534.7M229.2 530.2V534.5M229.5 529.3V532.8M229.8 528.2V531.7M230.1 525.9V533.8M230.4 526.9V532.3M230.7 527.7V532.8M231.0 526.9V533.7M231.3 529.5V534.3M231.6 529.0V534.5M231.9 526.7V535.0M232.2 528.3V534.7M232.5 529.8V534.3M232.8 531.6V536.9M233.1 531.8V535.5M233.4 530.6V534.9M233.7 530.4V536.7M234.0 530.7V535.1M234.3 529.0V534.0M234.6 527.4V532.3M234.9 529.3V533.3M235.2 529.8V534.8M235.5 530.8V536.0M235.8 530.6V537.7M236.1 530.8V535.2M236.4 530.5V535.7M236.7 528.2V534.6M237.0 526.5V533.1M237.3 527.9V532.7M237.6 528.6V534.1M237.9 528.8V533.8M238.2 530.0V534.5M238.5 529.5V534.0M238.8 527.8V534.1M239.1 526.3V534.8M239.4 527.9V532.9M239.7 527.4V534.3M240.0 531.4V536.4M240.3 531.5V536.1M240.6 530.8V537.2M240.9 530.3V534.7M241.2 529.9V536.3M241.5 529.9V537.9M241.8 531.2V535.5M242.1 532.8V537.5M242.4 533.6V540.9M242.7 533.4V537.2M243.0 531.7V536.7M243.3 531.6V538.1M243.6 533.7V539.0M243.9 533.2V539.2M244.2 532.9V539.6M244.5 533.8V539.8M244.8 534.9V539.9M245.1 533.1V540.7M245.4 533.1V540.2M245.7 534.2V540.1M246.0 535.5V540.8M246.3 534.7V539.2M246.6 534.8V539.4M246.9 532.5V538.8M247.2 532.9V537.8M247.5 531.7V539.1M247.8 534.3V538.7M248.1 533.0V539.2M248.4 534.8V543.4M248.7 534.1V539.1M249.0 535.1V540.1M249.3 533.8V539.2M249.6 534.3V538.1M249.9 531.9V537.9M250.2 532.8V536.8M250.5 532.3V536.7M250.8 532.9V537.7M251.1 531.9V538.5M251.4 532.5V538.6M251.7 533.1V538.7M252.0 532.9V537.3M252.3 532.6V537.6M252.6 529.2V535.9M252.9 530.1V537.9M253.2 530.3V538.7M253.5 531.6V538.9M253.8 531.8V536.9M254.1 531.0V536.1M254.4 530.9V535.1M254.7 532.5V535.8M255.0 531.6V537.6M255.3 532.2V536.8M255.6 530.9V535.7M255.9 532.1V537.7M256.2 533.6V536.5M256.5 532.2V535.9M256.8 530.8V535.6M257.1 530.2V536.6M257.4 532.1V536.4M257.7 531.7V537.1M258.0 531.2V535.4M258.3 531.0V536.9M258.6 529.7V537.1M258.9 530.4V535.5M259.2 530.8V536.5M259.5 529.0V535.3M259.8 528.8V533.7M260.1 528.4V532.3M260.4 527.3V534.1M260.7 527.2V532.6M261.0 528.0V534.8M261.3 527.3V533.7M261.6 527.3V533.7M261.9 529.4V535.1M262.2 530.3V535.9M262.5 531.0V535.1M262.8 530.6V535.7M263.1 530.9V537.0M263.4 530.8V538.1M263.7 530.7V534.7M264.0 531.7V535.2M264.3 531.1V535.4M264.6 531.0V538.1M264.9 530.4V535.6M265.2 531.4V537.2M265.5 530.0V537.6M265.8 530.2V536.5M266.1 531.1V535.5M266.4 532.2V537.2M266.7 534.2V538.1M267.0 534.9V538.7M267.3 532.9V540.3M267.6 534.9V538.7M267.9 534.9V540.0M268.2 533.5V537.7M268.5 535.0V540.6M268.8 534.6V540.1M269.1 535.5V541.0M269.4 532.9V541.7M269.7 537.8V543.3M270.0 537.7V542.9M270.3 538.4V543.0M270.6 537.2V543.0M270.9 536.5V541.2M271.2 534.6V539.7M271.5 537.0V542.0M271.8 534.0V543.0M272.1 537.3V543.4M272.4 536.0V540.6M272.7 534.7V540.6M273.0 534.4V540.6" stroke="#b9570e" stroke-width="0.7" fill="none"/>
<path d="M41.4 646.3V662.4M41.7 655.6V661.7M42.0 659.1V667.2M42.3 658.8V670.0M42.6 663.1V670.0M42.9 659.2V683.8M43.2 662.1V672.0M43.5 665.6V671.6M43.8 664.9V670.8M44.1 665.6V672.4M44.4 661.6V674.9M44.7 662.6V673.9M45.0 664.2V676.4M45.3 666.5V673.5M45.6 665.3V678.4M45.9 663.9V673.0M46.2 666.9V676.9M46.5 663.2V672.6M46.8 664.9V675.8M47.1 661.6V675.3M47.4 667.4V673.0M47.7 666.6V676.3M48.0 666.0V672.5M48.3 659.9V675.4M48.6 663.5V673.0M48.9 664.3V673.4M49.2 663.6V669.1M49.5 659.9V669.1M49.8 660.3V671.1M50.1 659.5V670.9M50.4 663.2V670.5M50.7 663.3V670.4M51.0 664.1V670.4M51.3 660.9V674.3M51.6 663.3V671.9M51.9 663.8V671.4M52.2 663.4V671.9M52.5 664.4V670.9M52.8 664.0V671.6M53.1 662.4V668.9M53.4 661.5V670.2M53.7 660.0V668.8M54.0 663.6V670.2M54.3 662.3V672.4M54.6 659.3V670.8M54.9 662.7V669.7M55.2 661.0V669.4M55.5 662.8V669.8M55.8 661.5V672.9M56.1 659.1V670.4M56.4 654.6V668.4M56.7 662.1V668.9M57.0 659.5V673.0M57.3 660.4V668.2M57.6 658.0V672.6M57.9 655.1V667.4M58.2 661.3V671.8M58.5 662.2V678.2M58.8 660.4V670.3M59.1 659.7V673.8M59.4 656.5V667.9M59.7 661.2V667.6M60.0 660.2V676.0M60.3 661.0V673.3M60.6 658.9V679.2M60.9 660.7V671.4M61.2 661.8V669.5M61.5 659.6V668.3M61.8 664.0V670.3M62.1 659.6V669.5M62.4 662.0V670.8M62.7 656.1V671.0M63.0 662.4V671.9M63.3 660.3V671.7M63.6 652.6V671.0M63.9 665.0V673.5M64.2 662.3V673.3M64.5 662.7V674.1M64.8 662.2V670.1M65.1 661.2V670.5M65.4 660.0V668.4M65.7 650.4V668.5M66.0 661.9V668.0M66.3 659.6V668.3M66.6 654.4V673.9M66.9 662.6V668.9M67.2 660.8V674.3M67.5 664.3V673.6M67.8 661.1V675.3M68.1 665.2V672.7M68.4 661.6V674.2M68.7 665.4V676.1M69.0 668.8V678.0M69.3 664.6V680.8M69.6 665.7V673.2M69.9 664.2V677.1M70.2 664.9V678.6M70.5 666.5V672.4M70.8 665.5V672.7M71.1 666.6V675.2M71.4 666.5V674.8M71.7 667.0V672.9M72.0 665.8V672.4M72.3 665.3V672.4M72.6 665.3V672.1M72.9 665.6V674.0M73.2 666.1V674.1M73.5 665.0V673.0M73.8 664.2V673.5M74.1 668.1V674.4M74.4 659.5V677.9M74.7 668.2V676.1M75.0 667.8V674.3M75.3 666.1V675.7M75.6 663.8V673.8M75.9 667.0V673.8M76.2 666.3V673.7M76.5 666.9V672.6M76.8 666.7V673.4M77.1 659.4V672.8M77.4 665.2V676.6M77.7 662.4V673.7M78.0 664.8V673.6M78.3 661.9V675.4M78.6 666.7V676.6M78.9 667.7V676.6M79.2 664.4V676.8M79.5 667.1V678.2M79.8 661.3V677.9M80.1 668.3V675.2M80.4 670.1V676.3M80.7 666.0V675.2M81.0 668.1V677.6M81.3 667.2V676.6M81.6 667.5V679.2M81.9 668.9V675.6M82.2 668.9V676.1M82.5 668.7V681.3M82.8 667.0V678.1M83.1 670.3V675.6M83.4 664.6V676.8M83.7 665.3V676.4M84.0 668.4V676.2M84.3 667.3V677.2M84.6 668.3V681.8M84.9 671.5V682.9M85.2 668.2V678.3M85.5 671.1V679.6M85.8 670.6V682.4M86.1 670.3V678.2M86.4 668.9V677.4M86.7 670.6V683.6M87.0 668.8V675.7M87.3 667.0V678.1M87.6 665.1V674.9M87.9 666.5V673.5M88.2 668.1V676.6M88.5 665.6V673.8M88.8 665.7V675.3M89.1 666.2V673.5M89.4 667.0V673.7M89.7 664.7V673.3M90.0 666.9V675.8M90.3 665.1V673.4M90.6 665.2V681.6M90.9 663.9V673.4M91.2 664.3V672.9M91.5 664.5V678.6M91.8 658.6V673.6M92.1 663.3V684.7M92.4 667.3V673.0M92.7 667.7V675.0M93.0 667.6V684.3M93.3 668.2V674.7M93.6 666.6V675.1M93.9 666.2V681.9M94.2 667.1V674.5M94.5 664.6V674.2M94.8 656.1V672.9M95.1 660.5V671.7M95.4 661.4V667.2M95.7 654.9V665.0M96.0 652.6V658.8M96.3 651.8V657.2M96.6 645.2V663.4M96.9 652.3V659.9M97.2 652.3V659.0M97.5 640.7V658.6M97.8 651.5V657.3M98.1 647.0V657.8M98.4 645.1V658.2M98.7 646.9V663.6M99.0 646.4V656.4M99.3 641.0V658.4M99.6 643.5V657.8M99.9 641.0V653.9M100.2 645.9V655.7M100.5 644.2V657.6M100.8 646.6V656.5M101.1 647.4V655.1M101.4 648.4V660.3M101.7 647.5V657.8M102.0 648.0V658.7M102.3 650.5V658.2M102.6 647.6V655.9M102.9 649.6V660.4M103.2 651.5V659.4M103.5 646.0V656.1M103.8 647.8V657.1M104.1 650.2V659.3M104.4 649.3V658.6M104.7 648.4V659.1M105.0 644.2V655.7M105.3 645.2V655.1M105.6 646.3V657.0M105.9 647.8V656.3M106.2 646.0V655.3M106.5 645.8V655.7M106.8 649.2V658.8M107.1 649.5V656.0M107.4 645.2V659.0M107.7 645.2V655.3M108.0 651.7V664.9M108.3 650.2V659.0M108.6 644.4V662.6M108.9 653.0V660.7M109.2 651.3V659.7M109.5 650.7V658.8M109.8 644.7V657.8M110.1 651.4V660.7M110.4 648.4V657.7M110.7 647.9V654.9M111.0 648.5V656.7M111.3 647.6V656.2M111.6 641.5V661.1M111.9 646.3V654.7M112.2 646.4V656.0M112.5 644.4V658.1M112.8 647.6V653.8M113.1 644.9V654.9M113.4 646.9V655.4M113.7 646.6V655.1M114.0 642.3V652.8M114.3 647.1V652.9M114.6 648.5V654.5M114.9 648.4V655.8M115.2 649.3V655.0M115.5 649.6V658.3M115.8 648.8V656.8M116.1 647.4V654.3M116.4 648.0V656.1M116.7 640.5V665.3M117.0 647.5V655.2M117.3 649.1V656.3M117.6 649.3V658.7M117.9 644.2V656.6M118.2 645.0V656.3M118.5 647.8V653.4M118.8 647.2V657.6M119.1 648.4V659.2M119.4 646.3V654.4M119.7 633.4V662.0M120.0 643.9V653.3M120.3 646.5V652.5M120.6 646.8V655.1M120.9 647.8V657.2M121.2 645.5V655.8M121.5 645.0V656.4M121.8 647.1V655.6M122.1 645.3V653.0M122.4 647.5V655.7M122.7 636.9V652.8M123.0 646.9V653.4M123.3 639.1V653.9M123.6 644.9V652.6M123.9 642.6V651.5M124.2 644.4V655.2M124.5 646.6V660.5M124.8 646.8V655.8M125.1 644.8V654.5M125.4 646.8V655.0M125.7 644.0V661.0M126.0 647.4V654.7M126.3 642.8V655.5M126.6 648.3V656.0M126.9 646.2V653.3M127.2 643.7V652.5M127.5 645.0V652.2M127.8 638.9V651.6M128.1 642.9V653.2M128.4 643.6V653.7M128.7 645.8V655.8M129.0 647.5V654.6M129.3 646.0V654.7M129.6 647.8V653.3M129.9 645.0V653.1M130.2 646.4V653.9M130.5 647.1V656.1M130.8 641.4V653.2M131.1 645.7V657.2M131.4 645.7V652.9M131.7 646.0V654.1M132.0 647.1V657.9M132.3 647.2V654.0M132.6 645.6V653.2M132.9 646.0V653.5M133.2 647.0V654.2M133.5 647.2V658.1M133.8 645.6V655.4M134.1 647.6V659.5M134.4 646.0V656.2M134.7 645.4V656.4M135.0 649.2V656.1M135.3 647.7V656.8M135.6 650.4V661.6M135.9 649.4V657.2M136.2 649.4V657.1M136.5 645.8V662.5M136.8 645.1V660.6M137.1 647.2V660.5M137.4 647.6V656.0M137.7 647.3V655.1M138.0 645.9V657.3M138.3 646.5V656.1M138.6 649.0V654.7M138.9 646.3V657.0M139.2 645.9V657.1M139.5 648.1V656.5M139.8 647.9V656.9M140.1 646.2V663.2M140.4 648.6V656.5M140.7 647.4V655.6M141.0 647.5V656.4M141.3 646.1V655.1M141.6 643.7V653.1M141.9 646.6V657.3M142.2 647.7V653.6M142.5 641.7V655.9M142.8 647.0V652.8M143.1 644.5V651.8M143.4 646.1V652.8M143.7 645.6V658.9M144.0 640.3V653.4M144.3 646.3V655.1M144.6 648.0V655.3M144.9 643.3V657.7M145.2 649.7V656.0M145.5 647.9V656.3M145.8 650.1V656.7M146.1 649.5V663.8M146.4 648.7V660.0M146.7 649.7V660.1M147.0 648.2V660.3M147.3 653.7V661.5M147.6 653.7V659.6M147.9 654.3V661.5M148.2 650.8V662.3M148.5 647.9V660.0M148.8 654.3V661.0M149.1 650.6V665.0M149.4 654.7V662.4M149.7 654.4V664.6M150.0 654.2V664.4M150.3 652.9V661.5M150.6 656.1V668.1M150.9 654.0V664.0M151.2 651.4V662.3M151.5 651.5V662.3M151.8 648.9V663.1M152.1 648.0V660.2M152.4 653.1V661.3M152.7 653.6V660.6M153.0 651.1V660.4M153.3 654.8V660.6M153.6 645.3V665.0M153.9 653.5V664.4M154.2 655.3V662.8M154.5 655.2V664.2M154.8 651.6V665.8M155.1 652.2V661.7M155.4 652.5V659.1M155.7 648.1V656.8M156.0 650.0V656.1M156.3 644.1V658.9M156.6 643.9V653.6M156.9 640.7V646.7M157.2 637.2V647.8M157.5 633.4V646.5M157.8 635.4V651.6M158.1 631.1V649.1M158.4 635.4V645.3M158.7 635.7V645.0M159.0 634.9V642.3M159.3 633.9V648.4M159.6 636.8V645.2M159.9 632.1V642.4M160.2 635.1V646.1M160.5 635.7V641.9M160.8 631.5V643.3M161.1 631.9V646.5M161.4 634.9V648.0M161.7 630.1V651.5M162.0 636.7V643.4M162.3 634.9V648.3M162.6 635.5V646.5M162.9 635.3V643.5M163.2 636.6V645.7M163.5 633.4V642.7M163.8 637.9V644.1M164.1 637.2V644.5M164.4 636.3V645.6M164.7 632.9V644.9M165.0 637.6V648.7M165.3 637.2V648.0M165.6 638.8V645.3M165.9 637.5V644.9M166.2 637.4V644.7M166.5 637.5V645.7M166.8 637.3V645.4M167.1 636.9V643.2M167.4 632.5V647.7M167.7 637.7V646.4M168.0 637.2V648.1M168.3 638.5V648.9M168.6 638.0V650.2M168.9 631.9V649.2M169.2 634.8V643.1M169.5 636.8V643.0M169.8 636.7V645.3M170.1 638.9V648.2M170.4 640.0V646.0M170.7 636.6V653.5M171.0 636.4V648.8M171.3 637.0V644.1M171.6 636.3V647.6M171.9 635.9V647.1M172.2 637.2V647.1M172.5 639.2V646.5M172.8 638.6V651.1M173.1 639.3V651.6M173.4 638.3V646.9M173.7 637.9V652.8M174.0 640.0V648.9M174.3 640.3V646.6M174.6 638.4V648.8M174.9 640.8V652.7M175.2 638.8V647.2M175.5 627.4V648.6M175.8 642.1V650.7M176.1 641.5V650.3M176.4 643.7V650.2M176.7 644.2V650.1M177.0 641.6V651.7M177.3 634.2V648.3M177.6 633.8V643.6M177.9 631.8V639.4M178.2 629.8V640.1M178.5 623.4V632.5M178.8 621.0V632.4M179.1 609.9V628.0M179.4 620.5V627.9M179.7 622.0V632.2M180.0 623.1V633.6M180.3 622.4V634.0M180.6 625.1V631.4M180.9 621.8V632.7M181.2 624.1V629.4M181.5 618.8V630.5M181.8 623.0V632.0M182.1 618.9V631.7M182.4 621.6V629.5M182.7 615.5V632.2M183.0 621.8V628.5M183.3 621.2V628.6M183.6 618.1V628.4M183.9 620.8V627.0M184.2 620.8V627.5M184.5 618.2V630.5M184.8 615.5V625.3M185.1 617.0V626.6M185.4 617.6V624.6M185.7 615.5V626.9M186.0 615.6V627.6M186.3 618.7V628.2M186.6 619.1V626.4M186.9 616.9V626.8M187.2 621.3V628.0M187.5 619.7V628.3M187.8 617.5V630.7M188.1 620.1V630.7M188.4 620.3V632.0M188.7 619.8V627.4M189.0 620.0V626.4M189.3 620.2V628.3M189.6 616.3V630.6M189.9 619.9V628.7M190.2 617.3V627.8M190.5 618.4V625.7M190.8 620.2V627.0M191.1 620.1V630.3M191.4 620.6V627.0M191.7 616.0V632.2M192.0 618.6V624.7M192.3 616.2V631.5M192.6 618.6V626.0M192.9 618.8V627.1M193.2 618.2V625.3M193.5 618.9V630.8M193.8 617.9V627.3M194.1 616.4V627.3M194.4 621.1V628.2M194.7 620.5V628.7M195.0 621.5V632.2M195.3 621.5V635.8M195.6 615.8V631.5M195.9 621.9V628.9M196.2 615.8V630.5M196.5 622.4V630.5M196.8 622.3V631.5M197.1 621.5V636.0M197.4 619.5V631.7M197.7 624.4V632.6M198.0 625.0V635.4M198.3 622.8V639.8M198.6 622.4V635.1M198.9 623.0V633.1M199.2 621.3V629.6M199.5 619.3V633.5M199.8 620.0V630.0M200.1 617.7V630.4M200.4 614.1V627.5M200.7 616.2V627.3M201.0 618.4V633.7M201.3 619.1V639.5M201.6 618.6V627.6M201.9 622.0V629.8M202.2 613.1V630.1M202.5 618.2V628.4M202.8 617.7V625.2M203.1 619.5V627.4M203.4 617.3V624.8M203.7 616.3V623.8M204.0 612.8V626.0M204.3 618.0V629.2M204.6 613.9V626.3M204.9 619.2V625.9M205.2 617.6V629.6M205.5 620.4V626.9M205.8 612.7V626.9M206.1 620.6V626.6M206.4 619.5V625.6M206.7 619.0V625.3M207.0 617.9V633.2M207.3 612.8V623.4M207.6 614.6V624.0M207.9 616.0V622.5M208.2 614.3V622.8M208.5 615.9V623.8M208.8 616.0V624.0M209.1 613.9V621.5M209.4 616.9V625.7M209.7 615.4V625.1M210.0 616.5V624.3M210.3 616.8V623.8M210.6 616.8V629.9M210.9 616.7V624.6M211.2 616.8V623.6M211.5 616.5V628.7M211.8 617.5V627.7M212.1 619.3V626.6M212.4 613.7V625.2M212.7 613.7V625.4M213.0 616.9V623.2M213.3 617.3V632.5M213.6 613.9V623.6M213.9 616.9V625.5M214.2 617.6V624.0M214.5 617.3V625.4M214.8 617.9V627.4M215.1 618.1V625.8M215.4 617.4V624.8M215.7 617.0V624.2M216.0 608.3V626.9M216.3 614.1V622.8M216.6 617.1V625.7M216.9 616.3V623.6M217.2 615.6V626.0M217.5 614.1V623.1M217.8 611.7V620.3M218.1 614.6V623.7M218.4 610.1V619.6M218.7 613.1V620.4M219.0 613.9V623.9M219.3 613.6V620.3M219.6 612.5V619.2M219.9 611.6V621.2M220.2 613.2V619.4M220.5 611.4V622.1M220.8 613.5V623.1M221.1 611.1V629.0M221.4 616.3V621.9M221.7 613.5V622.1M222.0 614.4V622.0M222.3 608.4V624.3M222.6 615.7V621.6M222.9 614.5V622.7M223.2 616.8V627.2M223.5 615.7V622.5M223.8 614.0V626.5M224.1 616.0V624.3M224.4 608.8V620.9M224.7 614.3V623.5M225.0 614.6V622.5M225.3 613.2V620.9M225.6 613.3V622.1M225.9 611.9V619.6M226.2 610.9V619.9M226.5 610.9V618.7M226.8 610.3V618.2M227.1 613.3V619.6M227.4 612.4V620.6M227.7 610.1V618.8M228.0 608.1V618.5M228.3 610.7V626.5M228.6 610.9V622.5M228.9 607.0V618.5M229.2 610.6V619.1M229.5 609.8V618.6M229.8 609.3V618.0M230.1 612.4V621.9M230.4 611.5V622.1M230.7 613.3V619.4M231.0 612.7V622.4M231.3 612.3V618.4M231.6 610.7V622.9M231.9 610.8V620.8M232.2 606.4V620.3M232.5 607.6V620.7M232.8 609.9V616.3M233.1 604.4V615.9M233.4 610.1V617.0M233.7 610.0V620.4M234.0 608.0V615.8M234.3 609.0V618.4M234.6 611.3V617.5M234.9 604.6V616.5M235.2 597.5V617.7M235.5 608.3V617.5M235.8 610.5V615.9M236.1 610.7V619.2M236.4 609.7V620.6M236.7 608.4V617.6M237.0 609.2V617.0M237.3 606.9V616.0M237.6 605.3V615.3M237.9 609.1V616.7M238.2 609.7V625.4M238.5 610.8V618.0M238.8 612.3V621.2M239.1 610.4V617.6M239.4 592.5V617.9M239.7 606.6V618.9M240.0 610.1V620.2M240.3 606.0V618.7M240.6 610.5V616.0M240.9 608.7V615.5M241.2 606.6V614.8M241.5 608.5V615.2M241.8 603.6V616.5M242.1 608.2V616.0M242.4 608.6V615.2M242.7 607.1V616.4M243.0 607.1V614.9M243.3 601.8V615.2M243.6 607.4V615.6M243.9 602.7V616.0M244.2 609.1V620.4M244.5 607.6V615.6M244.8 606.0V612.5M245.1 604.8V616.4M245.4 605.7V612.7M245.7 607.8V614.5M246.0 597.5V615.6M246.3 606.2V614.0M246.6 606.2V614.6M246.9 600.6V613.3M247.2 604.3V612.5M247.5 601.2V615.5M247.8 607.4V618.5M248.1 604.8V612.3M248.4 599.0V611.4M248.7 606.7V617.4M249.0 605.6V612.6M249.3 600.8V614.3M249.6 604.8V618.3M249.9 605.5V618.7M250.2 607.0V613.9M250.5 606.5V615.5M250.8 607.8V614.0M251.1 609.7V617.5M251.4 609.3V616.5M251.7 607.9V623.1M252.0 608.2V615.2M252.3 606.3V624.9M252.6 609.0V617.3M252.9 610.0V616.9M253.2 608.5V618.0M253.5 604.1V621.2M253.8 609.9V618.2M254.1 607.7V615.1M254.4 606.6V621.2M254.7 608.0V619.0M255.0 610.3V616.6M255.3 608.8V619.7M255.6 607.6V615.8M255.9 609.4V616.1M256.2 608.7V617.3M256.5 607.2V617.4M256.8 608.0V618.8M257.1 606.6V614.4M257.4 599.4V614.0M257.7 608.0V615.3M258.0 608.9V615.3M258.3 609.5V616.8M258.6 607.5V619.5M258.9 609.2V617.9M259.2 611.1V618.5M259.5 608.1V619.7M259.8 609.8V625.5M260.1 613.0V623.6M260.4 611.1V618.4M260.7 610.1V621.6M261.0 610.6V617.4M261.3 610.1V619.1M261.6 611.0V622.5M261.9 609.9V619.5M262.2 607.9V621.2M262.5 609.6V619.8M262.8 607.7V616.5M263.1 609.9V617.3M263.4 608.4V621.1M263.7 611.7V621.0M264.0 609.3V622.7M264.3 607.9V617.9M264.6 612.6V618.3M264.9 609.3V619.1M265.2 611.8V618.9M265.5 609.8V636.4M265.8 612.2V619.0M266.1 611.4V620.5M266.4 605.8V623.8M266.7 610.3V617.4M267.0 608.3V617.8M267.3 604.7V623.2M267.6 612.4V622.7M267.9 606.7V618.0M268.2 611.8V621.0M268.5 611.9V619.1M268.8 610.5V621.2M269.1 608.5V619.1M269.4 611.1V623.2M269.7 612.1V621.6M270.0 609.7V626.1M270.3 610.5V617.9M270.6 611.1V616.7M270.9 611.6V618.8M271.2 611.8V618.8M271.5 609.2V621.3M271.8 611.5V624.6M272.1 611.4V620.6M272.4 609.6V627.0M272.7 609.3V621.4M273.0 606.8V620.3" stroke="#a8005a" stroke-opacity="0.5" stroke-width="0.7" fill="none"/><path d="M41.4 654.2V658.1M41.7 654.5V661.0M42.0 658.0V665.0M42.3 659.4V665.7M42.6 663.6V670.6M42.9 663.4V669.4M43.2 666.3V672.3M43.5 665.7V670.8M43.8 666.0V670.2M44.1 665.8V670.6M44.4 665.8V670.1M44.7 666.2V671.9M45.0 665.4V672.1M45.3 666.8V671.5M45.6 667.9V672.7M45.9 665.9V671.1M46.2 667.6V672.7M46.5 667.1V672.6M46.8 666.9V670.6M47.1 664.2V671.8M47.4 667.1V672.5M47.7 666.9V672.6M48.0 666.3V672.4M48.3 665.6V670.6M48.6 664.5V670.3M48.9 663.6V669.9M49.2 662.6V670.2M49.5 663.3V667.9M49.8 663.1V670.2M50.1 662.5V670.0M50.4 664.2V669.0M50.7 664.9V669.1M51.0 664.8V669.3M51.3 663.0V668.5M51.6 662.6V669.9M51.9 664.2V668.5M52.2 665.0V670.3M52.5 664.4V669.9M52.8 665.3V670.7M53.1 663.6V667.4M53.4 662.7V666.9M53.7 661.7V667.6M54.0 662.8V668.3M54.3 663.4V670.3M54.6 661.8V668.6M54.9 664.4V670.3M55.2 663.0V668.3M55.5 663.8V668.2M55.8 662.7V668.5M56.1 662.4V667.9M56.4 663.1V668.4M56.7 663.2V666.6M57.0 663.0V667.1M57.3 659.5V665.8M57.6 659.2V666.5M57.9 661.7V668.1M58.2 661.9V667.9M58.5 662.6V667.6M58.8 660.2V667.1M59.1 662.9V667.9M59.4 661.3V665.7M59.7 662.6V666.4M60.0 662.4V666.5M60.3 662.2V669.4M60.6 661.9V666.6M60.9 660.8V667.7M61.2 662.2V666.6M61.5 663.2V667.3M61.8 663.3V669.3M62.1 663.5V668.7M62.4 664.8V668.9M62.7 664.3V668.8M63.0 664.0V668.8M63.3 663.9V670.1M63.6 664.6V669.4M63.9 663.6V669.5M64.2 665.1V669.9M64.5 663.0V668.3M64.8 661.7V667.7M65.1 663.8V666.9M65.4 663.5V670.4M65.7 660.6V667.7M66.0 661.0V667.8M66.3 662.1V666.6M66.6 661.6V668.9M66.9 662.8V669.4M67.2 663.8V669.5M67.5 662.8V668.8M67.8 665.9V669.9M68.1 666.4V670.3M68.4 668.5V674.4M68.7 669.4V672.7M69.0 669.4V673.6M69.3 668.7V673.5M69.6 667.4V673.9M69.9 667.5V672.4M70.2 666.2V670.9M70.5 667.3V671.5M70.8 667.2V674.0M71.1 666.6V672.1M71.4 666.7V673.4M71.7 667.1V672.5M72.0 665.6V670.8M72.3 667.2V671.2M72.6 665.2V672.5M72.9 663.6V672.6M73.2 666.1V671.5M73.5 666.9V672.3M73.8 667.6V672.9M74.1 668.7V673.7M74.4 668.9V672.8M74.7 668.1V672.9M75.0 667.8V673.0M75.3 666.3V671.5M75.6 667.4V673.8M75.9 668.8V672.4M76.2 666.2V672.4M76.5 665.0V673.7M76.8 666.7V673.4M77.1 665.6V671.3M77.4 667.1V672.5M77.7 667.8V672.6M78.0 667.9V673.1M78.3 665.3V672.3M78.6 666.7V672.4M78.9 666.6V674.9M79.2 668.9V673.4M79.5 668.2V673.8M79.8 669.6V673.8M80.1 669.8V673.6M80.4 669.5V674.4M80.7 668.3V674.3M81.0 670.3V674.9M81.3 668.8V673.9M81.6 668.4V674.3M81.9 670.2V674.2M82.2 669.8V674.5M82.5 668.6V676.1M82.8 670.6V675.3M83.1 670.0V675.8M83.4 669.2V673.9M83.7 667.7V676.1M84.0 669.2V675.6M84.3 670.3V677.4M84.6 672.4V680.3M84.9 672.9V678.5M85.2 671.3V677.6M85.5 670.6V675.4M85.8 670.6V675.5M86.1 670.8V676.6M86.4 671.2V676.9M86.7 668.8V676.8M87.0 669.1V675.2M87.3 668.2V673.7M87.6 667.6V672.1M87.9 666.9V672.4M88.2 668.6V673.0M88.5 668.2V673.4M88.8 666.0V671.4M89.1 664.1V670.4M89.4 666.7V673.7M89.7 666.1V672.4M90.0 667.5V673.3M90.3 667.4V671.9M90.6 666.9V670.5M90.9 665.2V671.6M91.2 666.3V672.6M91.5 665.7V672.3M91.8 666.7V672.5M92.1 666.5V674.9M92.4 667.8V672.0M92.7 667.3V672.9M93.0 668.8V673.5M93.3 668.4V673.0M93.6 668.3V676.0M93.9 667.9V672.6M94.2 667.4V672.5M94.5 666.3V672.2M94.8 665.3V671.3M95.1 664.4V670.0M95.4 660.3V668.2M95.7 659.6V663.2M96.0 651.0V657.9M96.3 651.3V656.9M96.6 650.5V657.6M96.9 653.6V657.6M97.2 652.7V658.0M97.5 652.6V657.4M97.8 652.3V656.4M98.1 650.9V656.6M98.4 649.6V656.8M98.7 648.8V652.7M99.0 648.6V654.1M99.3 649.7V654.0M99.6 649.4V656.1M99.9 648.7V654.8M100.2 649.3V653.0M100.5 648.9V654.2M100.8 651.0V656.4M101.1 649.6V657.0M101.4 649.7V656.2M101.7 650.3V656.0M102.0 650.7V656.1M102.3 649.9V658.1M102.6 649.3V656.3M102.9 649.8V656.6M103.2 651.6V657.2M103.5 649.8V656.4M103.8 649.7V653.8M104.1 650.1V655.5M104.4 649.8V656.9M104.7 649.0V655.6M105.0 650.5V653.7M105.3 646.5V653.7M105.6 648.0V654.0M105.9 648.4V653.7M106.2 649.5V654.4M106.5 649.9V657.0M106.8 651.2V655.2M107.1 649.8V655.0M107.4 649.7V654.8M107.7 648.1V654.0M108.0 652.3V656.7M108.3 652.1V656.8M108.6 650.9V658.9M108.9 653.3V658.2M109.2 653.4V656.8M109.5 652.5V657.4M109.8 651.5V657.1M110.1 651.9V656.7M110.4 648.4V656.8M110.7 649.7V655.5M111.0 650.2V653.8M111.3 649.3V655.8M111.6 649.7V655.3M111.9 647.0V651.4M112.2 648.6V653.5M112.5 647.5V653.9M112.8 647.3V654.1M113.1 647.0V652.8M113.4 648.4V653.3M113.7 647.7V652.6M114.0 647.7V652.2M114.3 646.0V652.2M114.6 648.3V654.4M114.9 648.7V654.3M115.2 650.1V654.4M115.5 650.1V654.4M115.8 650.0V653.4M116.1 648.2V653.9M116.4 647.5V653.4M116.7 647.6V652.2M117.0 649.8V653.5M117.3 650.1V656.6M117.6 650.0V655.3M117.9 648.6V654.0M118.2 646.7V653.7M118.5 647.8V652.8M118.8 647.1V655.7M119.1 648.9V656.5M119.4 646.8V651.5M119.7 648.3V653.5M120.0 646.4V651.6M120.3 647.8V651.5M120.6 646.7V651.9M120.9 647.8V654.7M121.2 647.6V653.6M121.5 648.2V653.6M121.8 648.6V652.4M122.1 648.0V653.0M122.4 647.7V652.3M122.7 647.5V652.6M123.0 647.1V653.1M123.3 646.2V653.2M123.6 647.2V654.2M123.9 644.5V653.3M124.2 644.9V650.1M124.5 646.2V652.3M124.8 646.5V651.8M125.1 645.3V652.0M125.4 646.3V651.1M125.7 647.0V654.5M126.0 648.3V653.8M126.3 648.6V653.1M126.6 648.3V653.5M126.9 648.1V654.0M127.2 645.1V650.6M127.5 643.2V650.7M127.8 645.9V650.6M128.1 646.3V652.6M128.4 647.0V653.6M128.7 647.8V652.3M129.0 647.5V652.5M129.3 648.3V653.3M129.6 648.4V653.0M129.9 646.9V654.5M130.2 646.3V652.1M130.5 646.9V653.3M130.8 648.1V652.9M131.1 648.5V652.7M131.4 648.4V652.9M131.7 649.2V653.3M132.0 646.9V653.1M132.3 648.0V651.1M132.6 645.1V652.3M132.9 648.5V652.1M133.2 649.1V653.4M133.5 648.7V653.8M133.8 648.2V652.8M134.1 649.6V654.8M134.4 649.5V654.1M134.7 649.6V656.2M135.0 649.9V655.0M135.3 651.0V655.3M135.6 651.1V654.8M135.9 647.7V655.5M136.2 649.8V655.5M136.5 649.5V655.9M136.8 649.0V653.3M137.1 648.7V654.2M137.4 648.8V653.4M137.7 648.5V653.6M138.0 649.0V654.8M138.3 649.1V654.4M138.6 648.9V653.5M138.9 648.2V655.6M139.2 648.6V654.7M139.5 649.3V653.4M139.8 649.4V654.6M140.1 648.1V653.2M140.4 650.2V655.0M140.7 649.1V655.0M141.0 649.4V655.0M141.3 649.1V654.6M141.6 647.9V653.6M141.9 647.0V653.6M142.2 644.4V652.8M142.5 647.6V652.7M142.8 645.4V652.2M143.1 646.0V650.9M143.4 644.8V653.0M143.7 646.2V652.3M144.0 647.0V654.2M144.3 646.1V651.1M144.6 646.3V653.4M144.9 649.2V656.8M145.2 650.7V656.6M145.5 651.6V655.8M145.8 650.8V655.7M146.1 651.5V658.3M146.4 652.2V656.6M146.7 652.4V657.1M147.0 651.8V658.5M147.3 652.3V658.4M147.6 653.2V660.2M147.9 654.5V659.4M148.2 654.9V658.5M148.5 655.0V658.0M148.8 651.6V660.1M149.1 654.8V662.1M149.4 656.4V663.1M149.7 657.3V663.5M150.0 654.9V660.8M150.3 656.8V660.9M150.6 655.7V662.9M150.9 654.7V661.4M151.2 655.3V661.8M151.5 655.4V660.6M151.8 654.2V660.8M152.1 654.4V658.4M152.4 654.6V660.0M152.7 654.5V658.4M153.0 654.5V659.4M153.3 655.2V659.6M153.6 655.2V659.1M153.9 656.2V660.9M154.2 654.2V660.3M154.5 656.7V661.2M154.8 656.5V662.9M155.1 654.3V661.9M155.4 654.5V658.9M155.7 652.2V655.9M156.0 649.6V655.2M156.3 648.4V652.7M156.6 644.0V649.4M156.9 639.9V646.4M157.2 640.1V645.5M157.5 637.0V643.6M157.8 636.4V641.8M158.1 634.8V641.2M158.4 636.0V641.1M158.7 635.8V641.3M159.0 636.4V641.1M159.3 636.1V641.2M159.6 637.7V642.6M159.9 635.8V642.8M160.2 634.1V641.1M160.5 634.8V640.5M160.8 635.1V641.4M161.1 637.1V640.9M161.4 636.1V641.8M161.7 637.3V642.6M162.0 638.0V642.7M162.3 637.7V644.7M162.6 637.6V643.8M162.9 637.6V643.0M163.2 638.4V642.5M163.5 636.0V641.6M163.8 638.3V644.2M164.1 638.8V643.5M164.4 637.0V643.7M164.7 637.0V641.6M165.0 638.0V642.4M165.3 637.3V644.0M165.6 638.9V643.6M165.9 638.7V644.1M166.2 638.4V642.7M166.5 638.1V643.6M166.8 637.2V642.4M167.1 636.5V644.4M167.4 636.9V647.2M167.7 639.2V644.2M168.0 639.8V643.8M168.3 639.1V643.7M168.6 639.0V642.3M168.9 636.2V643.7M169.2 637.9V642.5M169.5 636.5V642.1M169.8 638.7V641.8M170.1 639.5V643.9M170.4 639.8V645.2M170.7 639.8V645.1M171.0 640.0V645.3M171.3 639.2V643.0M171.6 640.9V646.3M171.9 638.7V644.5M172.2 638.5V648.2M172.5 639.4V646.5M172.8 639.9V647.4M173.1 640.1V646.7M173.4 640.5V644.7M173.7 639.3V645.3M174.0 640.1V646.9M174.3 642.2V645.9M174.6 640.6V646.2M174.9 641.8V647.0M175.2 639.6V646.7M175.5 643.5V649.5M175.8 642.2V648.8M176.1 642.8V647.8M176.4 644.3V648.9M176.7 644.6V649.4M177.0 642.3V647.4M177.3 639.0V643.3M177.6 635.5V642.8M177.9 634.0V637.7M178.2 630.2V635.2M178.5 627.0V633.0M178.8 620.5V628.0M179.1 620.3V630.3M179.4 621.8V625.7M179.7 622.2V626.4M180.0 623.5V627.8M180.3 622.4V630.3M180.6 625.3V631.8M180.9 623.8V630.2M181.2 622.7V629.3M181.5 622.6V629.0M181.8 624.9V629.4M182.1 623.3V629.2M182.4 621.5V628.0M182.7 621.6V626.8M183.0 621.5V627.9M183.3 622.8V626.8M183.6 622.3V629.0M183.9 622.3V627.1M184.2 619.8V627.3M184.5 620.0V624.7M184.8 617.6V624.4M185.1 616.6V624.0M185.4 619.1V625.0M185.7 619.7V624.5M186.0 619.1V626.3M186.3 619.5V625.7M186.6 619.6V624.3M186.9 621.3V627.9M187.2 621.5V626.4M187.5 621.7V627.6M187.8 622.2V626.1M188.1 621.5V626.5M188.4 621.8V627.8M188.7 620.3V626.4M189.0 619.8V624.7M189.3 620.3V626.9M189.6 621.8V626.3M189.9 620.5V624.9M190.2 620.6V624.5M190.5 619.3V624.6M190.8 620.4V626.4M191.1 619.7V626.3M191.4 620.0V624.9M191.7 620.6V623.9M192.0 618.8V624.3M192.3 619.7V624.7M192.6 619.5V624.8M192.9 620.9V625.5M193.2 618.8V624.6M193.5 620.9V624.8M193.8 620.5V625.1M194.1 621.5V626.3M194.4 618.4V627.2M194.7 621.9V629.3M195.0 620.8V628.2M195.3 622.1V626.3M195.6 624.2V628.1M195.9 622.1V627.3M196.2 623.1V627.0M196.5 622.6V627.8M196.8 622.3V627.0M197.1 622.8V629.4M197.4 623.4V629.6M197.7 624.7V629.6M198.0 626.4V631.0M198.3 625.6V630.8M198.6 625.5V629.8M198.9 625.0V630.8M199.2 622.6V627.4M199.5 623.6V629.4M199.8 623.0V627.6M200.1 622.2V626.5M200.4 621.3V626.0M200.7 619.8V624.8M201.0 619.9V626.0M201.3 619.6V625.0M201.6 620.6V624.6M201.9 621.9V627.8M202.2 618.6V624.5M202.5 619.7V623.8M202.8 618.2V624.7M203.1 620.5V624.2M203.4 617.4V623.6M203.7 617.1V622.3M204.0 618.5V623.0M204.3 618.5V624.8M204.6 620.5V626.0M204.9 620.4V626.5M205.2 619.5V627.6M205.5 620.1V625.3M205.8 621.5V625.9M206.1 620.6V625.9M206.4 620.6V626.0M206.7 618.5V623.6M207.0 616.3V622.5M207.3 618.5V622.1M207.6 615.8V621.9M207.9 616.6V623.3M208.2 614.9V621.5M208.5 615.5V621.7M208.8 616.5V620.4M209.1 615.1V621.8M209.4 618.7V622.6M209.7 617.4V623.1M210.0 618.6V622.4M210.3 617.4V621.8M210.6 617.4V624.3M210.9 617.4V623.2M211.2 617.5V623.7M211.5 617.6V622.2M211.8 616.7V624.9M212.1 619.7V625.6M212.4 617.4V623.7M212.7 617.1V622.0M213.0 617.0V622.8M213.3 618.4V623.6M213.6 617.9V623.5M213.9 619.1V625.6M214.2 619.3V622.6M214.5 618.6V623.5M214.8 618.3V625.0M215.1 618.5V622.5M215.4 618.8V623.2M215.7 617.8V625.5M216.0 618.2V624.3M216.3 617.2V622.8M216.6 616.9V621.7M216.9 616.0V621.4M217.2 617.6V622.7M217.5 616.3V622.9M217.8 615.9V620.0M218.1 614.7V618.8M218.4 613.7V618.7M218.7 613.3V619.3M219.0 615.9V621.1M219.3 615.0V620.3M219.6 614.5V618.0M219.9 613.3V618.8M220.2 613.0V618.3M220.5 611.6V618.3M220.8 614.8V619.0M221.1 613.3V619.2M221.4 616.1V621.0M221.7 615.8V622.0M222.0 615.5V623.3M222.3 615.9V621.9M222.6 616.4V619.9M222.9 615.5V621.1M223.2 616.5V623.4M223.5 616.0V621.9M223.8 617.2V621.2M224.1 613.9V621.6M224.4 614.0V621.1M224.7 614.7V620.1M225.0 614.3V619.9M225.3 611.4V619.3M225.6 612.9V620.6M225.9 613.3V619.2M226.2 613.6V617.7M226.5 612.9V616.7M226.8 613.1V616.8M227.1 613.3V618.2M227.4 613.6V619.6M227.7 613.4V619.9M228.0 613.1V618.8M228.3 611.3V616.2M228.6 609.8V616.3M228.9 609.9V617.3M229.2 610.7V615.8M229.5 612.2V617.3M229.8 612.3V616.1M230.1 612.1V617.2M230.4 614.3V617.6M230.7 614.2V617.8M231.0 614.5V618.4M231.3 613.3V617.6M231.6 611.0V617.8M231.9 611.4V616.0M232.2 611.6V616.8M232.5 612.4V616.9M232.8 610.5V615.7M233.1 609.4V615.4M233.4 612.0V616.2M233.7 609.8V615.0M234.0 609.3V614.7M234.3 610.4V614.4M234.6 611.7V615.8M234.9 611.1V615.1M235.2 608.8V616.0M235.5 610.4V616.0M235.8 609.5V615.7M236.1 610.5V615.5M236.4 610.4V615.0M236.7 611.5V617.3M237.0 611.2V615.9M237.3 609.1V614.9M237.6 609.6V615.6M237.9 610.2V616.7M238.2 610.9V617.2M238.5 612.0V616.4M238.8 612.3V617.1M239.1 612.1V617.2M239.4 609.9V615.4M239.7 610.6V617.3M240.0 610.1V617.2M240.3 611.8V617.1M240.6 610.1V616.6M240.9 609.4V614.8M241.2 608.5V613.2M241.5 609.4V613.8M241.8 609.7V613.4M242.1 608.4V614.0M242.4 609.1V615.4M242.7 607.1V613.5M243.0 607.2V613.0M243.3 607.7V613.0M243.6 608.0V614.8M243.9 609.7V613.9M244.2 609.3V614.6M244.5 607.4V614.8M244.8 607.2V613.6M245.1 608.0V612.5M245.4 606.7V612.3M245.7 606.9V613.6M246.0 607.1V612.9M246.3 605.8V611.4M246.6 604.2V614.1M246.9 605.9V610.6M247.2 605.7V611.3M247.5 607.1V612.3M247.8 607.4V613.7M248.1 606.1V611.4M248.4 606.6V610.8M248.7 604.8V612.3M249.0 606.6V611.7M249.3 608.2V611.5M249.6 607.1V610.8M249.9 608.2V615.2M250.2 608.1V614.8M250.5 608.5V614.1M250.8 608.3V613.5M251.1 609.8V616.5M251.4 610.2V614.9M251.7 609.9V616.5M252.0 607.4V614.8M252.3 608.4V615.5M252.6 608.7V615.0M252.9 609.2V614.7M253.2 612.0V616.5M253.5 612.6V615.7M253.8 609.4V617.0M254.1 609.6V615.3M254.4 609.2V615.4M254.7 608.9V615.5M255.0 611.6V615.2M255.3 609.6V614.4M255.6 609.3V615.1M255.9 610.2V615.1M256.2 609.7V613.6M256.5 608.1V614.9M256.8 609.3V616.0M257.1 608.3V613.5M257.4 608.5V613.4M257.7 609.6V613.9M258.0 609.9V613.6M258.3 609.8V616.1M258.6 608.5V615.9M258.9 611.8V615.8M259.2 612.7V618.5M259.5 611.0V615.9M259.8 610.4V617.3M260.1 610.6V618.1M260.4 611.6V617.8M260.7 612.1V616.7M261.0 611.1V617.1M261.3 611.4V618.6M261.6 612.5V617.9M261.9 612.0V617.2M262.2 612.8V616.5M262.5 611.5V616.5M262.8 609.6V616.4M263.1 611.1V614.6M263.4 611.7V615.9M263.7 613.1V618.9M264.0 610.2V616.3M264.3 612.3V616.7M264.6 613.7V618.8M264.9 613.5V618.1M265.2 611.6V616.6M265.5 613.9V618.1M265.8 612.6V619.5M266.1 611.9V615.6M266.4 610.3V616.1M266.7 609.8V614.3M267.0 611.2V616.0M267.3 611.1V618.7M267.6 610.9V617.5M267.9 612.9V616.8M268.2 613.8V621.0M268.5 612.2V616.0M268.8 611.5V618.0M269.1 613.8V618.2M269.4 613.2V619.1M269.7 613.8V621.0M270.0 612.4V618.0M270.3 612.0V616.9M270.6 611.8V616.1M270.9 611.6V617.4M271.2 612.1V617.4M271.5 613.3V619.1M271.8 610.9V619.2M272.1 611.4V617.6M272.4 612.9V617.2M272.7 611.9V618.2M273.0 610.0V616.8" stroke="#a8005a" stroke-width="0.7" fill="none"/>
<rect x="41.4" y="493.2" width="231.70000000000002" height="186.8" fill="none" stroke="#444" stroke-width="1.2"/>
<line x1="64.57" y1="493.2" x2="64.57" y2="495.7" stroke="#444" stroke-width="1"/>
<line x1="87.74000000000001" y1="680" x2="87.74000000000001" y2="683.5" stroke="#444" stroke-width="1"/>
<line x1="87.74000000000001" y1="493.2" x2="87.74000000000001" y2="495.7" stroke="#444" stroke-width="1"/>
<line x1="110.91" y1="493.2" x2="110.91" y2="495.7" stroke="#444" stroke-width="1"/>
<line x1="134.08" y1="680" x2="134.08" y2="683.5" stroke="#444" stroke-width="1"/>
<line x1="134.08" y1="493.2" x2="134.08" y2="495.7" stroke="#444" stroke-width="1"/>
<line x1="157.25" y1="493.2" x2="157.25" y2="495.7" stroke="#444" stroke-width="1"/>
<line x1="180.42000000000002" y1="680" x2="180.42000000000002" y2="683.5" stroke="#444" stroke-width="1"/>
<line x1="180.42000000000002" y1="493.2" x2="180.42000000000002" y2="495.7" stroke="#444" stroke-width="1"/>
<line x1="203.59" y1="493.2" x2="203.59" y2="495.7" stroke="#444" stroke-width="1"/>
<line x1="226.76000000000002" y1="680" x2="226.76000000000002" y2="683.5" stroke="#444" stroke-width="1"/>
<line x1="226.76000000000002" y1="493.2" x2="226.76000000000002" y2="495.7" stroke="#444" stroke-width="1"/>
<line x1="249.93000000000004" y1="493.2" x2="249.93000000000004" y2="495.7" stroke="#444" stroke-width="1"/>
<line x1="36.9" y1="493.2" x2="41.4" y2="493.2" stroke="#444" stroke-width="1"/>
<text x="35" y="496.2" font-family="Liberation Serif" font-size="9" font-weight="bold" text-anchor="end" >25</text>
<line x1="36.9" y1="529.6" x2="41.4" y2="529.6" stroke="#444" stroke-width="1"/>
<text x="35" y="532.6" font-family="Liberation Serif" font-size="9" font-weight="bold" text-anchor="end" >20</text>
<line x1="36.9" y1="566.3" x2="41.4" y2="566.3" stroke="#444" stroke-width="1"/>
<text x="35" y="569.3" font-family="Liberation Serif" font-size="9" font-weight="bold" text-anchor="end" >15</text>
<line x1="36.9" y1="603" x2="41.4" y2="603" stroke="#444" stroke-width="1"/>
<text x="35" y="606" font-family="Liberation Serif" font-size="9" font-weight="bold" text-anchor="end" >10</text>
<line x1="36.9" y1="639.8" x2="41.4" y2="639.8" stroke="#444" stroke-width="1"/>
<text x="35" y="642.8" font-family="Liberation Serif" font-size="9" font-weight="bold" text-anchor="end" >5</text>
<line x1="36.9" y1="676.3" x2="41.4" y2="676.3" stroke="#444" stroke-width="1"/>
<text x="35" y="679.3" font-family="Liberation Serif" font-size="9" font-weight="bold" text-anchor="end" >0</text>
<line x1="38.9" y1="511.4" x2="41.4" y2="511.4" stroke="#444" stroke-width="1"/>
<line x1="38.9" y1="548" x2="41.4" y2="548" stroke="#444" stroke-width="1"/>
<line x1="38.9" y1="584.7" x2="41.4" y2="584.7" stroke="#444" stroke-width="1"/>
<line x1="38.9" y1="621.4" x2="41.4" y2="621.4" stroke="#444" stroke-width="1"/>
<line x1="38.9" y1="658" x2="41.4" y2="658" stroke="#444" stroke-width="1"/>
<line x1="41.4" y1="680" x2="41.4" y2="683.5" stroke="#444" stroke-width="1"/>
<line x1="270.6" y1="511.8" x2="273.1" y2="511.8" stroke="#444" stroke-width="1"/>
<line x1="270.6" y1="530.1" x2="273.1" y2="530.1" stroke="#444" stroke-width="1"/>
<line x1="270.6" y1="548.8" x2="273.1" y2="548.8" stroke="#444" stroke-width="1"/>
<line x1="270.6" y1="567.8" x2="273.1" y2="567.8" stroke="#444" stroke-width="1"/>
<line x1="270.6" y1="586.5" x2="273.1" y2="586.5" stroke="#444" stroke-width="1"/>
<line x1="270.6" y1="605.1" x2="273.1" y2="605.1" stroke="#444" stroke-width="1"/>
<line x1="270.6" y1="624.1" x2="273.1" y2="624.1" stroke="#444" stroke-width="1"/>
<line x1="270.6" y1="642.8" x2="273.1" y2="642.8" stroke="#444" stroke-width="1"/>
<line x1="270.6" y1="661.1" x2="273.1" y2="661.1" stroke="#444" stroke-width="1"/>
<text x="41" y="693.5" font-family="Liberation Serif" font-size="9" font-weight="bold" text-anchor="middle" >0</text>
<text x="134" y="693.5" font-family="Liberation Serif" font-size="9" font-weight="bold" text-anchor="middle" >40000</text>
<text x="226.6" y="693.5" font-family="Liberation Serif" font-size="9" font-weight="bold" text-anchor="middle" >80000</text>
<text x="158" y="710" font-family="Liberation Serif" font-size="10.9" font-weight="bold" text-anchor="middle" >Time (ps)</text>
<text font-family="Liberation Serif" font-size="11" font-weight="bold" text-anchor="middle" transform="translate(14.5,582) rotate(-90)">Contact Area (nm<tspan font-size="8" dy="-4">2</tspan><tspan dy="4">)</tspan></text>
<text x="41.5" y="24.8" font-family="Liberation Serif" font-size="27" font-weight="normal" text-anchor="start" >a</text>
<text x="44" y="252" font-family="Liberation Serif" font-size="27.5" font-weight="normal" text-anchor="start" >b</text>
<text x="42" y="485.5" font-family="Liberation Sans" font-size="23" font-weight="normal" text-anchor="start" >c</text>
<text x="465.5" y="50.6" font-family="Liberation Serif" font-size="27.5" font-weight="normal" text-anchor="start" >d</text>
<defs><radialGradient id="rgo" cx="0.38" cy="0.35" r="0.7"><stop offset="0" stop-color="#ffb445"/><stop offset="0.45" stop-color="#e0881a"/><stop offset="1" stop-color="#a85c06"/></radialGradient>
<radialGradient id="rgg" cx="0.38" cy="0.35" r="0.7"><stop offset="0" stop-color="#e8e8e8"/><stop offset="0.45" stop-color="#9a9a9a"/><stop offset="1" stop-color="#606060"/></radialGradient>
<pattern id="op" width="3.1" height="3.1" patternUnits="userSpaceOnUse"><circle cx="1.55" cy="1.55" r="1.45" fill="url(#rgo)"/></pattern>
<pattern id="op2" width="3.7" height="3.3" patternUnits="userSpaceOnUse" patternTransform="rotate(23)"><circle cx="1.8" cy="1.6" r="1.3" fill="url(#rgo)" opacity="0.75"/></pattern>
<pattern id="gp" width="3.0" height="3.0" patternUnits="userSpaceOnUse"><circle cx="1.5" cy="1.5" r="1.4" fill="url(#rgg)"/></pattern>
<pattern id="gp2" width="3.6" height="3.2" patternUnits="userSpaceOnUse" patternTransform="rotate(23)"><circle cx="1.8" cy="1.6" r="1.25" fill="url(#rgg)" opacity="0.75"/></pattern>

<filter id="rough" x="-5%" y="-5%" width="110%" height="110%"><feTurbulence type="fractalNoise" baseFrequency="0.5" numOctaves="2" seed="3" result="t"/><feDisplacementMap in="SourceGraphic" in2="t" scale="2.8" xChannelSelector="R" yChannelSelector="G"/></filter><filter id="rough3" x="-10%" y="-10%" width="120%" height="120%"><feTurbulence type="fractalNoise" baseFrequency="0.8" numOctaves="1" seed="9" result="t"/><feDisplacementMap in="SourceGraphic" in2="t" scale="1.6" xChannelSelector="R" yChannelSelector="G"/></filter><filter id="rough2" x="-5%" y="-5%" width="110%" height="110%"><feTurbulence type="fractalNoise" baseFrequency="0.35" numOctaves="2" seed="5" result="t"/><feDisplacementMap in="SourceGraphic" in2="t" scale="5" xChannelSelector="R" yChannelSelector="G"/></filter>
<linearGradient id="ga" x1="0" y1="0" x2="1" y2="0"><stop offset="0" stop-color="#e00" /><stop offset="0.75" stop-color="#e00"/><stop offset="1" stop-color="#fbb"/></linearGradient>
<linearGradient id="gb" x1="0" y1="0" x2="1" y2="0"><stop offset="0" stop-color="#fbb" /><stop offset="0.25" stop-color="#e00"/><stop offset="1" stop-color="#e00"/></linearGradient></defs>
<path d="M488,208 C470,232 420,215 407,246" fill="none" stroke="url(#ga)" stroke-width="2.6"/>
<path d="M401,243 L405.5,252.5 L412,245 Z" fill="#e00"/>
<path d="M488,208 C505,232 570,215 591,247" fill="none" stroke="url(#gb)" stroke-width="2.6"/>
<path d="M586,245 L593,253 L596,243 Z" fill="#e00"/></svg>
<div class="bx" style="left:410px;top:80px;width:155px;height:125px"><svg width="155" height="125" viewBox="0 0 155 125" style="position:absolute;left:0;top:0"><defs><g id="m0gp" stroke-width="3" stroke-linejoin="round"><ellipse cx="113.9" cy="11.4" rx="5.8" ry="7.5"/><ellipse cx="32" cy="29" rx="6.3" ry="6.3"/><ellipse cx="56" cy="23" rx="7.5" ry="5.8"/><ellipse cx="61" cy="35" rx="8.0" ry="4.0"/><ellipse cx="86" cy="22.8" rx="6.3" ry="5.8"/><ellipse cx="43" cy="38" rx="6.3" ry="5.2"/><ellipse cx="116" cy="27" rx="7.5" ry="5.8"/><ellipse cx="89" cy="49" rx="5.2" ry="6.9"/><ellipse cx="40" cy="55" rx="8.6" ry="6.3"/><ellipse cx="71" cy="60" rx="6.3" ry="6.3"/><ellipse cx="109" cy="59" rx="8.0" ry="6.9"/><ellipse cx="85" cy="62" rx="2.9" ry="3.4"/><ellipse cx="73.5" cy="62" rx="5.8" ry="3.4"/><ellipse cx="109" cy="62" rx="5.8" ry="3.4"/><ellipse cx="24" cy="84" rx="8.0" ry="6.3"/><ellipse cx="40" cy="78" rx="9.8" ry="5.8"/><ellipse cx="72.6" cy="83.5" rx="8.6" ry="6.3"/><ellipse cx="26" cy="102.6" rx="7.5" ry="5.8"/><ellipse cx="60" cy="106.5" rx="5.2" ry="6.9"/><ellipse cx="94" cy="105" rx="8.6" ry="7.5"/><ellipse cx="42" cy="117" rx="7.5" ry="4.6"/></g><g id="m0gl" fill="none" stroke-width="8" stroke-linecap="round" stroke-linejoin="round"><polyline points="82.0,60.0 84.0,66.0 86.5,73.7"/><polyline points="87.7,78.0 91.0,85.0 90.0,94.0"/><polyline points="115.0,74.0 119.5,78.0 116.0,87.0 119.5,98.7"/></g><g id="m0op" stroke-width="4" stroke-linejoin="round"></g><g id="m0ol" fill="none" stroke-width="5.6" stroke-linecap="round" stroke-linejoin="round"><polyline points="29.6,3.4 34.2,9.1 28.5,11.4 25.0,16.0 21.6,19.4"/><polyline points="52.4,9.1 58.0,8.5 65.0,9.1"/><polyline points="62.6,18.2 68.3,19.4 72.9,21.6 78.6,22.8"/><polyline points="68.3,29.6 73.0,31.0 77.4,36.4"/><polyline points="93.4,11.4 97.9,13.7 100.2,19.4 96.8,25.0 93.4,26.2"/><polyline points="123.0,11.4 126.4,17.0 124.1,22.8 124.1,29.6"/><polyline points="93.4,36.4 97.9,41.0 104.8,43.3 108.2,44.4"/><polyline points="66.0,47.8 73.0,48.5 79.7,49.0 84.3,45.5"/><polyline points="20.5,31.9 25.0,38.7 29.6,43.3 34.2,47.8 36.4,52.4 31.9,56.9"/><polyline points="39.9,27.3 45.5,30.7 51.2,36.4 53.5,42.1"/><polyline points="17.0,53.5 22.8,59.2 29.6,64.6 36.4,70.2"/><polyline points="34.2,61.5 47.8,61.5"/><polyline points="118.4,50.1 123.0,54.7 126.4,60.4 127.5,64.9"/><polyline points="51.2,70.2 60.4,72.5 55.8,78.2 52.4,82.8 44.4,82.8 41.0,89.6 36.4,94.2 35.3,102.1 39.9,107.8 45.5,103.3 49.0,98.7"/><polyline points="69.5,104.4 75.2,94.2 84.3,88.5 90.0,88.5"/><polyline points="63.8,107.8 68.3,114.7 67.2,119.2"/><polyline points="93.4,91.9 100.2,96.4 108.2,97.6 111.6,99.9"/><polyline points="101.3,66.8 107.0,69.1 104.8,77.1"/><polyline points="118.4,82.8 124.1,85.0 127.5,89.6 124.1,94.2"/><polyline points="95.6,117.0 104.8,118.1 113.9,113.5 119.6,109.0 121.8,103.3"/><polyline points="123.0,60.0 128.7,63.4"/></g></defs><g filter="url(#rough)"><use href="#m0gp" fill="#555" stroke="#555"/><use href="#m0gp" fill="url(#gp)" stroke="url(#gp)"/><use href="#m0gp" fill="url(#gp2)" stroke="url(#gp2)"/><use href="#m0gl" stroke="#555"/><use href="#m0gl" stroke="url(#gp)"/><use href="#m0gl" stroke="url(#gp2)"/><use href="#m0op" fill="#8c4c04" stroke="#8c4c04"/><use href="#m0op" fill="url(#op)" stroke="url(#op)"/><use href="#m0op" fill="url(#op2)" stroke="url(#op2)"/><use href="#m0ol" stroke="#8c4c04"/><use href="#m0ol" stroke="url(#op)"/><use href="#m0ol" stroke="url(#op2)"/></g><g filter="url(#rough3)" fill="none" stroke="#b814c4" stroke-width="4.4" stroke-linecap="round" stroke-linejoin="round"><polyline points="41.0,10.0 45.5,13.7"/><polyline points="50.0,9.0 51.0,11.0"/><polyline points="61.0,17.5 63.0,21.0"/><polyline points="91.5,11.0 92.0,15.0"/><polyline points="108.0,33.0 107.0,37.0"/><polyline points="114.0,46.0 120.0,43.0"/><polyline points="20.0,42.0 20.5,47.0"/><polyline points="59.0,48.0 62.0,50.5"/><polyline points="94.0,58.5 99.0,60.0"/><polyline points="16.0,72.5 20.5,76.0 24.0,77.0"/><polyline points="44.4,66.8 49.0,72.5"/><polyline points="62.6,65.7 67.2,69.0"/><polyline points="93.4,60.0 98.0,63.4"/><polyline points="45.5,94.0 51.2,96.4"/><polyline points="62.6,93.0 67.2,96.4 65.0,100.0"/><polyline points="67.2,103.3 70.6,106.7"/><polyline points="103.6,88.5 111.6,87.3"/></g></svg></div>
<div class="bx" style="left:328.4px;top:253px;width:154px;height:124px"><svg width="154" height="124" viewBox="0 0 154 124" style="position:absolute;left:0;top:0"><defs><g id="m1gp" stroke-width="3" stroke-linejoin="round"><ellipse cx="46" cy="54" rx="6.0" ry="6.0"/><ellipse cx="51" cy="61.5" rx="8.0" ry="4.0"/><ellipse cx="70" cy="109" rx="6.0" ry="7.0"/><ellipse cx="63" cy="54" rx="6.0" ry="5.0"/></g><g id="m1gl" fill="none" stroke-width="8.5" stroke-linecap="round" stroke-linejoin="round"><polyline points="66.0,8.0 72.9,11.4 78.6,17.0"/><polyline points="72.9,27.3 79.7,22.8 87.7,17.0 91.0,21.6"/><polyline points="21.6,42.0 27.3,38.7 34.2,37.6"/><polyline points="70.6,41.0 79.7,45.5 82.0,52.4 75.2,59.2 66.0,61.5 57.0,59.2"/><polyline points="95.6,37.6 102.5,38.7 107.0,45.5 102.5,54.7 95.6,59.2 91.0,57.0"/><polyline points="128.7,38.7 136.6,37.6 142.3,39.9"/><polyline points="66.0,63.4 75.2,64.6 77.4,60.0"/><polyline points="91.0,60.0 98.0,62.3"/><polyline points="100.2,71.4 109.3,69.1 116.1,73.7 113.9,80.5 107.0,85.0 103.6,91.9 107.0,98.7 116.1,98.7 120.7,104.4"/><polyline points="70.6,91.9 78.6,90.7 84.3,94.2"/><polyline points="39.9,102.1 42.1,107.8 41.0,112.4"/></g><g id="m1op" stroke-width="4" stroke-linejoin="round"></g><g id="m1ol" fill="none" stroke-width="6" stroke-linecap="round" stroke-linejoin="round"><polyline points="63.8,18.2 67.2,22.8 68.3,28.5"/><polyline points="38.7,31.9 50.1,30.7 60.4,31.9 61.5,41.0 58.0,47.8 54.7,54.7 58.0,59.2"/><polyline points="40.0,34.0 52.0,35.0 58.0,37.0"/><polyline points="36.4,37.6 42.1,42.0 47.8,41.0"/><polyline points="68.3,34.2 75.2,36.4 72.9,43.3 68.3,47.8"/><polyline points="84.3,47.8 93.4,46.7 98.0,49.0"/><polyline points="109.3,44.4 116.1,45.5 123.0,45.5 125.3,52.4 127.5,59.2"/><polyline points="132.0,45.5 135.5,49.0"/><polyline points="36.4,63.4 42.1,68.0 43.3,72.5 39.9,78.2"/><polyline points="55.8,64.6 61.5,69.1 60.4,78.2 61.5,87.3 59.2,89.6"/><polyline points="66.0,69.1 72.9,73.7 82.0,71.4 90.0,70.2 93.4,74.8 90.0,78.2"/><polyline points="100.2,64.6 107.0,63.4 111.6,65.7"/><polyline points="100.2,69.1 101.3,75.9"/><polyline points="118.4,69.1 127.5,70.2 136.6,69.1"/><polyline points="38.7,99.9 45.5,102.1 52.4,101.0 56.9,104.4 52.4,106.7"/><polyline points="82.0,94.2 86.5,99.9 90.0,105.5 95.6,104.4 97.9,110.1 99.1,113.5"/><polyline points="113.9,104.4 120.7,107.8 123.0,112.4 119.6,119.2 117.3,122.6"/></g></defs><g filter="url(#rough)"><use href="#m1gp" fill="#555" stroke="#555"/><use href="#m1gp" fill="url(#gp)" stroke="url(#gp)"/><use href="#m1gp" fill="url(#gp2)" stroke="url(#gp2)"/><use href="#m1gl" stroke="#555"/><use href="#m1gl" stroke="url(#gp)"/><use href="#m1gl" stroke="url(#gp2)"/><use href="#m1op" fill="#8c4c04" stroke="#8c4c04"/><use href="#m1op" fill="url(#op)" stroke="url(#op)"/><use href="#m1op" fill="url(#op2)" stroke="url(#op2)"/><use href="#m1ol" stroke="#8c4c04"/><use href="#m1ol" stroke="url(#op)"/><use href="#m1ol" stroke="url(#op2)"/></g><g filter="url(#rough3)" fill="none" stroke="#b814c4" stroke-width="4.6" stroke-linecap="round" stroke-linejoin="round"><polyline points="50.3,13.1 52.1,14.3"/><polyline points="92.5,14.9 94.3,16.1"/><polyline points="84.5,22.2 86.3,23.4"/><polyline points="91.3,25.6 93.1,26.8"/><polyline points="31.0,37.0 32.8,38.2"/><polyline points="21.9,42.7 23.7,43.9"/><polyline points="39.0,42.7 40.8,43.9"/><polyline points="42.4,48.4 44.2,49.6"/><polyline points="77.7,41.5 79.5,42.7"/><polyline points="86.8,39.3 88.6,40.5"/><polyline points="90.1,52.9 91.9,54.1"/><polyline points="77.7,59.8 79.5,61.0"/><polyline points="142.6,59.8 144.4,61.0"/><polyline points="17.4,80.1 19.0,83.1"/><polyline points="50.3,89.0 52.1,90.2"/><polyline points="81.1,81.0 82.9,82.2"/><polyline points="77.7,61.7 79.5,62.9"/><polyline points="78.8,68.5 80.6,69.7"/><polyline points="58.3,69.6 60.1,70.8"/><polyline points="99.3,82.2 101.1,83.4"/><polyline points="89.1,91.3 90.9,92.5"/><polyline points="101.6,101.5 103.4,102.7"/><polyline points="94.7,106.1 96.5,107.3"/><polyline points="69.7,99.3 71.5,100.5"/><polyline points="20.7,99.3 22.5,100.5"/><polyline points="18.5,104.9 20.3,106.1"/><polyline points="31.0,106.1 32.8,107.3"/><polyline points="29.8,110.6 31.6,111.8"/><polyline points="141.4,61.7 143.2,62.9"/></g></svg></div>
<div class="bx" style="left:516.5px;top:253px;width:154.5px;height:123.5px"><svg width="154.5" height="123.5" viewBox="0 0 154.5 123.5" style="position:absolute;left:0;top:0"><defs><g id="m2gp" stroke-width="3" stroke-linejoin="round"><ellipse cx="45" cy="14" rx="9.0" ry="9.0"/><ellipse cx="83" cy="20" rx="8.0" ry="8.0"/><ellipse cx="106" cy="34" rx="8.0" ry="8.0"/><ellipse cx="27" cy="52" rx="10.0" ry="8.0"/><ellipse cx="55" cy="88" rx="9.0" ry="7.0"/><ellipse cx="98" cy="85" rx="9.0" ry="6.0"/></g><g id="m2gl" fill="none" stroke-width="8.5" stroke-linecap="round" stroke-linejoin="round"><polyline points="15.9,25.0 19.4,31.9 17.0,38.7 20.5,43.3"/><polyline points="36.4,29.6 38.7,38.7 41.0,45.5"/><polyline points="49.0,27.3 55.8,25.0 64.9,22.8 68.3,27.3 62.6,31.9 58.0,31.9"/><polyline points="51.2,36.4 53.5,43.3"/><polyline points="61.5,38.7 68.3,41.0 71.7,45.5 68.3,50.1"/><polyline points="84.3,42.1 90.0,43.3 93.4,45.5 95.6,50.1 91.0,51.2 86.5,52.4"/><polyline points="118.4,20.5 123.0,25.0 124.1,31.9 123.0,37.6"/><polyline points="104.8,59.2 113.9,61.5"/><polyline points="82.0,61.5 88.8,62.6"/><polyline points="37.6,66.8 39.9,73.7 41.0,80.5 44.4,85.0"/><polyline points="77.4,66.8 83.1,63.4 88.8,62.3"/><polyline points="104.8,60.0 113.9,62.3"/><polyline points="11.4,89.6 14.8,98.7 13.7,107.8"/><polyline points="25.0,96.4 33.0,97.6 35.3,105.5 29.6,112.4"/><polyline points="70.6,103.3 77.4,107.8 80.8,114.7 77.4,119.2"/><polyline points="107.0,79.4 113.9,76.0 123.0,72.5 127.5,73.7"/><polyline points="109.3,85.0 118.4,87.3 124.1,85.0"/><polyline points="140.0,81.6 142.3,89.6 143.5,99.9"/></g><g id="m2op" stroke-width="4" stroke-linejoin="round"></g><g id="m2ol" fill="none" stroke-width="6.3" stroke-linecap="round" stroke-linejoin="round"><polyline points="28.5,5.7 31.9,13.7 27.3,20.5 23.9,25.0 28.5,29.6"/><polyline points="34.2,22.8 41.0,23.9 45.5,29.6 49.0,34.2 47.8,41.0 46.7,50.1 47.8,59.2"/><polyline points="60.4,15.9 64.9,20.5 72.9,21.6 75.2,25.0"/><polyline points="53.5,31.9 56.9,38.7 60.4,44.4"/><polyline points="58.0,46.7 63.8,52.4 70.6,56.9 74.0,61.5"/><polyline points="72.9,31.9 79.7,34.2 86.5,35.3 93.4,31.9 95.6,25.0 94.5,21.6"/><polyline points="100.2,18.2 107.0,14.8 112.7,10.2 115.0,5.7"/><polyline points="127.5,22.8 132.1,29.6 136.6,35.3 138.9,42.1"/><polyline points="109.3,38.7 113.9,42.1 118.4,43.3"/><polyline points="93.4,54.7 100.2,54.7 107.0,52.4 111.6,50.1"/><polyline points="27.3,61.5 31.9,63.8"/><polyline points="4.6,75.9 11.4,70.2 18.2,68.0 25.0,65.7 29.6,62.3"/><polyline points="13.7,76.0 19.4,79.4 22.8,85.0 25.0,91.9 21.6,94.2"/><polyline points="9.1,81.6 13.7,82.8"/><polyline points="44.4,60.0 50.1,64.6 54.7,69.1 51.2,73.7"/><polyline points="41.0,81.6 43.3,86.2"/><polyline points="64.9,62.3 72.9,63.4"/><polyline points="61.5,88.5 66.0,94.2 68.3,102.1 72.9,103.3"/><polyline points="69.5,80.5 72.9,85.0 78.6,86.2 85.4,91.9"/><polyline points="90.0,72.5 95.6,76.0 101.3,77.1 107.0,80.5"/><polyline points="100.2,94.2 102.5,102.1 97.9,105.5 93.4,109.0"/><polyline points="126.4,76.0 132.1,80.5 136.6,85.0 143.5,88.5 149.2,91.9"/><polyline points="127.5,94.2 134.4,89.6"/></g></defs><g filter="url(#rough)"><use href="#m2gp" fill="#555" stroke="#555"/><use href="#m2gp" fill="url(#gp)" stroke="url(#gp)"/><use href="#m2gp" fill="url(#gp2)" stroke="url(#gp2)"/><use href="#m2gl" stroke="#555"/><use href="#m2gl" stroke="url(#gp)"/><use href="#m2gl" stroke="url(#gp2)"/><use href="#m2op" fill="#8c4c04" stroke="#8c4c04"/><use href="#m2op" fill="url(#op)" stroke="url(#op)"/><use href="#m2op" fill="url(#op2)" stroke="url(#op2)"/><use href="#m2ol" stroke="#8c4c04"/><use href="#m2ol" stroke="url(#op)"/><use href="#m2ol" stroke="url(#op2)"/></g><g filter="url(#rough3)" fill="none" stroke="#b814c4" stroke-width="4.6" stroke-linecap="round" stroke-linejoin="round"><polyline points="33.3,35.8 35.1,37.0"/><polyline points="37.6,47.8 41.0,51.2"/><polyline points="54.9,46.1 56.7,47.3"/><polyline points="59.5,40.4 61.3,41.6"/><polyline points="67.4,31.3 69.2,32.5"/><polyline points="76.5,29.0 78.3,30.2"/><polyline points="70.8,51.8 72.6,53.0"/><polyline points="89.1,48.4 90.9,49.6"/><polyline points="97.0,55.2 98.8,56.4"/><polyline points="111.8,35.8 113.6,37.0"/><polyline points="120.7,36.4 123.0,43.3"/><polyline points="119.8,52.9 121.6,54.1"/><polyline points="106.1,59.8 107.9,61.0"/><polyline points="117.5,59.8 119.3,61.0"/><polyline points="41.2,60.9 43.0,62.1"/><polyline points="152.0,42.7 153.2,43.9"/><polyline points="29.6,70.2 34.2,68.0"/><polyline points="28.7,74.2 30.5,75.4"/><polyline points="41.2,61.7 43.0,62.9"/><polyline points="62.6,70.2 68.3,69.1 74.0,68.0"/><polyline points="107.0,63.4 117.3,62.3"/><polyline points="94.7,81.0 96.5,82.2"/><polyline points="77.4,94.2 78.6,99.9"/><polyline points="43.3,96.4 45.5,103.3"/><polyline points="126.6,89.0 128.4,90.2"/><polyline points="16.1,93.6 17.9,94.8"/><polyline points="2.5,100.4 4.3,101.6"/><polyline points="9.3,101.5 11.1,102.7"/></g></svg></div>
<div class="bx" style="left:331px;top:385px;width:154.5px;height:121.5px"><svg width="154.5" height="121.5" viewBox="0 0 154.5 121.5" style="position:absolute;left:0;top:0"><defs><g id="m3gp" stroke-width="3" stroke-linejoin="round"><ellipse cx="91" cy="20" rx="6.0" ry="6.0"/><ellipse cx="68" cy="39" rx="9.0" ry="7.0"/><ellipse cx="97" cy="33" rx="9.0" ry="8.0"/><ellipse cx="122" cy="43" rx="8.0" ry="9.0"/></g><g id="m3gl" fill="none" stroke-width="8.5" stroke-linecap="round" stroke-linejoin="round"><polyline points="51.2,29.6 59.2,26.2 66.0,29.6"/><polyline points="88.8,42.1 95.6,45.5 100.2,50.1"/><polyline points="45.5,50.1 51.2,47.8 54.7,54.7 49.0,60.4 45.5,64.9"/><polyline points="68.3,50.1 75.2,54.7 82.0,58.0 90.0,59.2 93.4,56.9"/><polyline points="56.9,58.0 63.8,56.9"/><polyline points="45.5,58.0 51.2,62.6 54.7,69.4"/><polyline points="53.5,77.4 55.8,83.0 54.7,89.9"/><polyline points="52.4,99.0 53.5,105.8 54.7,109.2"/><polyline points="79.7,58.0 86.5,62.6 86.5,69.4"/><polyline points="100.2,62.6 109.3,64.8 115.0,60.3"/><polyline points="124.1,69.4 131.0,70.5 136.6,68.2"/><polyline points="59.2,58.0 66.0,59.1"/></g><g id="m3op" stroke-width="4" stroke-linejoin="round"></g><g id="m3ol" fill="none" stroke-width="6.3" stroke-linecap="round" stroke-linejoin="round"><polyline points="61.5,26.2 68.3,25.0 75.2,28.5 80.8,31.9 84.3,36.4 83.1,42.1 78.6,47.8 75.2,45.5"/><polyline points="46.7,41.0 51.2,37.6 55.8,36.4 60.4,41.0 66.0,44.4 72.9,45.5"/><polyline points="95.6,22.8 100.2,21.6 105.9,22.8"/><polyline points="94.5,33.0 100.2,35.3 103.6,41.0 107.0,47.8 111.6,52.4 109.3,59.2 103.6,61.5"/><polyline points="111.6,22.8 115.0,29.6 118.4,37.6 118.4,42.1"/><polyline points="64.9,59.2 70.6,60.4 76.3,62.6"/><polyline points="95.6,51.2 97.9,59.2 97.9,64.9"/><polyline points="45.5,60.4 47.8,64.9"/><polyline points="46.7,63.7 47.8,70.5"/><polyline points="66.0,60.3 72.9,62.6 77.4,67.1 80.8,71.7 82.0,78.5 75.2,80.8 70.6,79.6"/><polyline points="68.3,67.1 70.6,73.9 71.7,80.8"/><polyline points="91.0,67.1 95.6,69.4 100.2,67.1"/><polyline points="90.0,85.3 93.4,80.8 97.9,77.4 100.2,74.0"/><polyline points="120.7,67.1 127.5,68.2 134.4,69.4"/><polyline points="49.0,96.7 54.7,94.4 60.4,95.6 63.8,99.0 61.5,102.4"/><polyline points="107.0,58.0 111.6,60.3"/></g></defs><g filter="url(#rough)"><use href="#m3gp" fill="#555" stroke="#555"/><use href="#m3gp" fill="url(#gp)" stroke="url(#gp)"/><use href="#m3gp" fill="url(#gp2)" stroke="url(#gp2)"/><use href="#m3gl" stroke="#555"/><use href="#m3gl" stroke="url(#gp)"/><use href="#m3gl" stroke="url(#gp2)"/><use href="#m3op" fill="#8c4c04" stroke="#8c4c04"/><use href="#m3op" fill="url(#op)" stroke="url(#op)"/><use href="#m3op" fill="url(#op2)" stroke="url(#op2)"/><use href="#m3ol" stroke="#8c4c04"/><use href="#m3ol" stroke="url(#op)"/><use href="#m3ol" stroke="url(#op2)"/></g><g filter="url(#rough3)" fill="none" stroke="#b814c4" stroke-width="4.5" stroke-linecap="round" stroke-linejoin="round"><polyline points="83.9,5.3 86.9,8.3"/><polyline points="21.0,27.6 22.2,31.6"/><polyline points="43.0,40.0 46.0,35.0"/><polyline points="61.7,49.5 63.5,50.7"/><polyline points="137.0,47.0 143.0,42.0"/><polyline points="124.4,59.8 126.2,61.0"/><polyline points="29.8,60.9 31.6,62.1"/><polyline points="83.4,27.9 85.2,29.1"/><polyline points="75.7,35.8 76.9,37.0"/><polyline points="105.3,40.4 106.5,41.6"/><polyline points="126.9,43.8 128.1,45.0"/><polyline points="29.6,61.4 30.7,67.1"/><polyline points="24.0,74.0 29.0,71.0"/><polyline points="19.6,91.6 21.4,92.8"/><polyline points="26.4,90.4 28.2,91.6"/><polyline points="37.8,102.9 39.6,104.1"/><polyline points="45.8,104.1 47.6,105.3"/><polyline points="69.5,92.2 74.0,94.4"/><polyline points="97.9,89.9 96.8,94.4"/><polyline points="130.0,93.6 132.0,97.6"/><polyline points="136.9,101.8 138.7,103.0"/><polyline points="110.5,112.7 111.6,117.2"/><polyline points="124.4,59.7 126.2,60.9"/></g></svg></div>
<div class="bx" style="left:516.3px;top:384.7px;width:154.5px;height:122.5px"><svg width="154.5" height="122.5" viewBox="0 0 154.5 122.5" style="position:absolute;left:0;top:0"><defs><g id="m4gp" stroke-width="3" stroke-linejoin="round"><polygon points="60.0,38.0 80.0,40.0 100.0,45.0 108.0,60.0 100.0,70.0 80.0,68.0 62.0,60.0"/><polygon points="61.5,16.0 80.0,14.0 95.6,20.0 98.0,35.0 95.0,45.5 75.0,47.0 62.0,42.0 58.0,28.0"/><polygon points="100.0,15.0 115.0,12.0 127.5,16.0 127.5,30.0 118.0,36.4 104.0,36.0 100.0,25.0"/><polygon points="132.0,21.0 140.0,19.0 148.0,23.0 147.0,29.6 138.0,30.0 132.0,27.0"/><polygon points="22.8,46.0 40.0,43.3 60.0,45.0 75.0,52.0 73.0,63.0 55.0,66.0 35.0,63.0 24.0,56.0"/><polygon points="41.0,64.8 55.0,60.0 66.0,62.0 68.0,75.0 66.0,89.9 52.0,92.0 41.0,85.0"/><polygon points="77.4,60.0 95.0,58.0 107.0,66.0 108.0,82.0 107.0,96.7 90.0,97.0 80.0,88.0 76.0,72.0"/><polygon points="34.2,58.0 45.0,56.0 52.0,66.0 44.0,72.0 36.0,68.0"/></g><g id="m4gl" fill="none" stroke-width="9" stroke-linecap="round" stroke-linejoin="round"></g><g id="m4op" stroke-width="4" stroke-linejoin="round"></g><g id="m4ol" fill="none" stroke-width="6.5" stroke-linecap="round" stroke-linejoin="round"><polyline points="50.1,15.9 56.9,17.0 61.5,22.8 56.9,31.9 52.4,38.7"/><polyline points="72.9,9.1 79.7,11.4 83.1,17.0 80.8,22.8"/><polyline points="29.6,36.4 37.6,34.2 45.5,37.6 54.7,41.0 59.2,43.3"/><polyline points="5.7,54.7 13.7,52.4 21.6,49.0 25.0,44.4"/><polyline points="6.8,59.2 18.2,59.2"/><polyline points="45.5,47.8 54.7,50.1 61.5,52.4 68.3,54.7 70.6,61.5"/><polyline points="88.8,20.5 95.6,18.2 101.3,22.8 93.4,29.6 90.0,36.4 91.0,43.3"/><polyline points="107.0,41.0 116.1,36.4 123.0,27.3 132.1,29.6 141.2,34.2 143.5,41.0"/><polyline points="116.1,22.8 120.7,20.5"/><polyline points="95.6,45.5 102.5,49.0 109.3,54.7 100.2,59.2 95.6,64.9"/><polyline points="86.5,55.8 90.0,61.5 88.8,64.9"/><polyline points="136.6,50.1 141.2,55.8"/><polyline points="127.5,60.4 132.1,62.6"/><polyline points="4.6,58.0 13.7,60.3 22.8,59.1"/><polyline points="59.2,64.8 66.0,71.7 68.3,80.8 66.0,87.6 61.5,94.4 59.2,101.3 60.4,110.4"/><polyline points="68.3,64.8 72.9,71.7 79.7,78.5 86.5,83.0 91.0,87.6"/><polyline points="45.5,89.9 52.4,94.4 60.4,95.6"/><polyline points="68.3,92.2 72.9,96.7 79.7,100.1"/><polyline points="95.6,60.3 100.2,64.8 107.0,69.4 113.9,68.2 123.0,64.8 131.0,62.6"/><polyline points="97.9,87.6 102.5,94.4 104.8,101.3 105.9,105.8"/><polyline points="107.0,89.9 111.6,91.0"/><polyline points="93.4,67.1 95.6,76.2"/><polyline points="54.7,58.0 59.2,60.3"/><polyline points="120.0,30.0 128.0,34.0 135.0,38.0"/></g></defs><g filter="url(#rough2)"><use href="#m4gp" fill="#555" stroke="#555"/><use href="#m4gp" fill="url(#gp)" stroke="url(#gp)"/><use href="#m4gp" fill="url(#gp2)" stroke="url(#gp2)"/><use href="#m4gl" stroke="#555"/><use href="#m4gl" stroke="url(#gp)"/><use href="#m4gl" stroke="url(#gp2)"/><use href="#m4op" fill="#8c4c04" stroke="#8c4c04"/><use href="#m4op" fill="url(#op)" stroke="url(#op)"/><use href="#m4op" fill="url(#op2)" stroke="url(#op2)"/><use href="#m4ol" stroke="#8c4c04"/><use href="#m4ol" stroke="url(#op)"/><use href="#m4ol" stroke="url(#op2)"/></g><g filter="url(#rough3)" fill="none" stroke="#b814c4" stroke-width="5" stroke-linecap="round" stroke-linejoin="round"><polyline points="54.7,4.6 58.0,11.4 60.4,15.9"/><polyline points="67.2,6.8 70.6,11.4"/><polyline points="75.2,21.6 78.6,22.8"/><polyline points="46.7,29.6 52.4,31.9"/><polyline points="102.7,23.3 104.5,24.5"/><polyline points="99.1,34.2 96.8,39.9"/><polyline points="75.2,49.0 84.3,47.8 93.4,45.5"/><polyline points="33.3,41.5 35.1,42.7"/><polyline points="118.4,47.8 119.6,54.7"/><polyline points="136.6,49.0 139.0,51.2"/><polyline points="109.3,61.5 116.1,60.4 125.3,62.6"/><polyline points="72.0,62.0 73.8,63.2"/><polyline points="25.0,70.5 29.6,76.2 34.2,77.4"/><polyline points="42.1,67.1 46.7,68.2"/><polyline points="72.0,60.8 73.8,62.0"/><polyline points="72.9,85.3 75.2,86.5"/><polyline points="89.5,75.9 92.5,78.9"/><polyline points="102.5,80.8 107.0,80.8"/><polyline points="113.9,78.5 123.0,77.4 127.5,78.5"/><polyline points="107.0,62.6 118.4,61.4 126.4,62.6"/><polyline points="86.5,101.3 95.6,100.1"/></g></svg></div>
<div class="bx" style="left:331.7px;top:516.1px;width:154.5px;height:122px"><svg width="154.5" height="122" viewBox="0 0 154.5 122" style="position:absolute;left:0;top:0"><defs><g id="m5gp" stroke-width="3" stroke-linejoin="round"><polygon points="27.3,44.0 40.0,41.0 52.0,44.0 56.0,55.0 54.7,65.0 40.0,68.0 28.0,63.0 26.0,52.0"/><polygon points="49.0,29.6 56.0,28.0 60.0,35.0 59.2,45.5 50.0,44.0"/><polygon points="68.3,30.0 80.0,28.5 82.0,40.0 78.0,45.5 70.0,42.0"/><polygon points="82.0,40.0 100.0,37.0 115.0,38.7 123.0,48.0 123.0,65.0 100.0,67.0 85.0,62.0"/><polygon points="123.0,55.0 135.0,54.0 138.0,64.0 125.0,66.0"/><polygon points="11.4,64.0 20.0,60.0 25.0,66.0 24.0,75.0 13.0,75.0"/><polygon points="38.7,58.0 55.0,57.0 68.3,60.0 66.0,69.4 45.0,70.0 38.0,65.0"/><polygon points="95.6,58.0 120.0,57.0 136.6,60.0 136.0,74.0 120.0,75.0 100.0,72.0"/><polygon points="82.0,67.0 93.0,66.0 95.6,76.0 90.0,80.8 83.0,78.0"/></g><g id="m5gl" fill="none" stroke-width="9" stroke-linecap="round" stroke-linejoin="round"></g><g id="m5op" stroke-width="4" stroke-linejoin="round"></g><g id="m5ol" fill="none" stroke-width="7" stroke-linecap="round" stroke-linejoin="round"><polyline points="52.4,34.2 61.5,31.9 68.3,38.7 72.9,45.5 77.4,52.4 75.2,59.2 70.6,63.8"/><polyline points="59.2,43.3 66.0,47.8 68.3,54.7"/><polyline points="91.0,38.7 95.6,37.6 100.2,41.0"/><polyline points="102.5,43.3 107.0,45.5 105.9,52.4"/><polyline points="123.0,52.4 129.8,50.1 133.2,55.8 132.1,61.5"/><polyline points="18.2,56.9 25.0,54.7 29.6,59.2"/><polyline points="47.8,45.5 50.1,46.7"/><polyline points="82.0,56.9 91.0,59.2 100.2,62.6"/><polyline points="16.0,58.0 18.2,67.1 16.0,78.5"/><polyline points="22.8,60.3 27.3,64.8"/><polyline points="31.9,74.0 38.7,77.4 45.5,75.1 52.4,70.5"/><polyline points="54.7,71.7 58.0,80.8"/><polyline points="63.8,74.0 70.6,78.5 77.4,84.2 84.3,83.0"/><polyline points="68.3,58.0 77.4,62.6 86.5,67.1 93.4,71.7 100.2,69.4"/><polyline points="70.0,66.0 80.0,70.0 88.0,75.0"/><polyline points="91.0,76.2 93.4,83.0"/><polyline points="104.8,67.1 113.9,71.7 118.4,78.5"/><polyline points="127.5,58.0 134.4,62.6 136.6,69.4"/><polyline points="64.0,50.0 66.0,60.0 62.0,68.0"/></g></defs><g filter="url(#rough2)"><use href="#m5gp" fill="#555" stroke="#555"/><use href="#m5gp" fill="url(#gp)" stroke="url(#gp)"/><use href="#m5gp" fill="url(#gp2)" stroke="url(#gp2)"/><use href="#m5gl" stroke="#555"/><use href="#m5gl" stroke="url(#gp)"/><use href="#m5gl" stroke="url(#gp2)"/><use href="#m5op" fill="#8c4c04" stroke="#8c4c04"/><use href="#m5op" fill="url(#op)" stroke="url(#op)"/><use href="#m5op" fill="url(#op2)" stroke="url(#op2)"/><use href="#m5ol" stroke="#8c4c04"/><use href="#m5ol" stroke="url(#op)"/><use href="#m5ol" stroke="url(#op2)"/></g><g filter="url(#rough3)" fill="none" stroke="#b814c4" stroke-width="5.2" stroke-linecap="round" stroke-linejoin="round"><polyline points="34.5,7.2 37.5,7.8"/><polyline points="41.5,11.0 43.5,15.5"/><polyline points="108.2,9.1 109.3,12.5"/><polyline points="117.3,18.2 118.4,23.9"/><polyline points="23.9,36.4 28.5,38.7 30.7,37.6"/><polyline points="57.1,27.9 58.9,29.1"/><polyline points="56.1,47.2 57.9,48.4"/><polyline points="64.0,56.3 65.8,57.5"/><polyline points="87.9,59.8 89.7,61.0"/><polyline points="97.0,60.9 98.8,62.1"/><polyline points="117.3,45.5 118.4,50.1"/><polyline points="36.7,56.3 38.5,57.5"/><polyline points="37.6,93.3 42.1,89.9 46.7,89.9"/><polyline points="43.3,95.6 44.4,99.0"/><polyline points="47.8,99.0 50.1,103.5"/><polyline points="87.7,111.5 91.0,115.0 94.5,115.0"/><polyline points="111.6,94.4 112.7,97.9"/><polyline points="124.1,86.5 123.0,88.7"/><polyline points="138.9,84.2 143.5,86.5"/><polyline points="136.6,92.2 137.8,96.7"/><polyline points="141.2,101.3 143.0,104.7"/><polyline points="34.4,66.5 36.2,67.7"/><polyline points="68.6,71.1 70.4,72.3"/><polyline points="87.9,59.7 89.7,60.9"/><polyline points="97.0,60.8 98.8,62.0"/></g></svg></div>
<div class="bx" style="left:516.2px;top:516.1px;width:155px;height:122px"><svg width="155" height="122" viewBox="0 0 155 122" style="position:absolute;left:0;top:0"><defs><g id="m6gp" stroke-width="3" stroke-linejoin="round"><polygon points="7.4,31.1 33.5,31.1 38.5,58.4 43.4,75.8 53.4,85.7 45.9,88.2 31.0,75.8 16.1,60.9 8.7,46.0"/><polygon points="39.7,11.3 53.4,8.8 55.8,26.2 43.4,31.1 38.5,21.2"/><polygon points="70.7,13.8 85.6,8.8 88.1,26.2 83.1,36.1 73.2,31.1"/><polygon points="88.1,36.1 103.0,31.1 112.9,36.1 132.8,26.2 142.7,43.5 147.6,55.9 137.7,73.3 122.8,80.7 110.4,98.1 93.0,95.6 78.2,88.2 75.7,68.3 88.1,55.9"/><polygon points="33.5,51.0 63.3,53.5 68.2,68.3 58.3,83.2 38.5,78.3"/><polygon points="55.0,40.0 80.0,35.0 90.0,50.0 85.0,70.0 65.0,70.0 55.0,55.0"/><polygon points="36.0,30.0 52.0,28.0 57.0,40.0 53.0,53.0 38.0,50.0"/></g><g id="m6gl" fill="none" stroke-width="10" stroke-linecap="round" stroke-linejoin="round"></g><g id="m6op" stroke-width="4" stroke-linejoin="round"><polygon points="43.4,13.8 58.3,11.3 68.2,21.2 78.2,26.2 85.6,33.6 83.1,43.5 73.2,53.5 63.3,56.0 53.4,48.5 45.9,28.6"/><polygon points="63.3,60.0 78.2,57.0 93.0,61.0 105.5,66.0 110.0,73.3 104.0,82.0 95.0,86.0 85.0,82.0 75.0,80.0 66.0,75.0"/><polygon points="13.7,53.5 21.1,63.4 23.6,75.8 18.6,83.2 13.7,93.2 16.1,108.0 26.1,108.0 38.5,98.1 43.4,88.2 33.5,78.3 26.1,68.3"/><polygon points="48.4,88.2 58.3,88.2 60.8,103.1 53.4,110.5 47.2,103.1"/><polygon points="120.3,85.7 132.8,78.3 145.2,80.7 148.9,93.2 140.2,103.1 127.8,103.1"/></g><g id="m6ol" fill="none" stroke-width="8.5" stroke-linecap="round" stroke-linejoin="round"><polyline points="63.3,88.2 70.0,92.0 75.7,95.6 83.1,110.5"/><polyline points="85.0,86.0 90.6,95.0 92.0,103.1 100.5,103.1"/><polyline points="103.0,26.2 110.4,31.1 117.9,38.5 125.3,36.1 127.8,43.5 117.9,53.5 115.4,58.4"/><polyline points="34.7,41.0 37.0,39.0"/><polyline points="68.0,80.0 66.0,90.0"/></g></defs><g filter="url(#rough2)"><use href="#m6gp" fill="#555" stroke="#555"/><use href="#m6gp" fill="url(#gp)" stroke="url(#gp)"/><use href="#m6gp" fill="url(#gp2)" stroke="url(#gp2)"/><use href="#m6gl" stroke="#555"/><use href="#m6gl" stroke="url(#gp)"/><use href="#m6gl" stroke="url(#gp2)"/><use href="#m6op" fill="#8c4c04" stroke="#8c4c04"/><use href="#m6op" fill="url(#op)" stroke="url(#op)"/><use href="#m6op" fill="url(#op2)" stroke="url(#op2)"/><use href="#m6ol" stroke="#8c4c04"/><use href="#m6ol" stroke="url(#op)"/><use href="#m6ol" stroke="url(#op2)"/></g><g filter="url(#rough3)" fill="none" stroke="#b814c4" stroke-width="5.2" stroke-linecap="round" stroke-linejoin="round"><polyline points="51.2,9.4 53.0,10.6"/><polyline points="57.4,18.1 59.2,19.3"/><polyline points="45.0,30.5 46.8,31.7"/><polyline points="50.0,42.9 51.8,44.1"/><polyline points="37.6,50.4 39.4,51.6"/><polyline points="62.4,60.3 64.2,61.5"/><polyline points="88.1,36.1 89.3,41.0"/><polyline points="139.0,38.5 139.7,48.5"/><polyline points="98.0,67.1 110.4,69.6"/><polyline points="112.7,83.7 115.7,87.7"/><polyline points="64.9,85.1 66.7,86.3"/><polyline points="17.7,80.1 19.5,81.3"/><polyline points="22.7,60.3 24.5,61.5"/></g></svg></div>
<div class="lab" style="left:365.4px;top:645px;width:79.6px;height:42px">DOX-<br>pH=5</div>
<div class="lab" style="left:561px;top:645px;width:79.5px;height:42px">DOX-<br>pH=7</div>
</body></html>
